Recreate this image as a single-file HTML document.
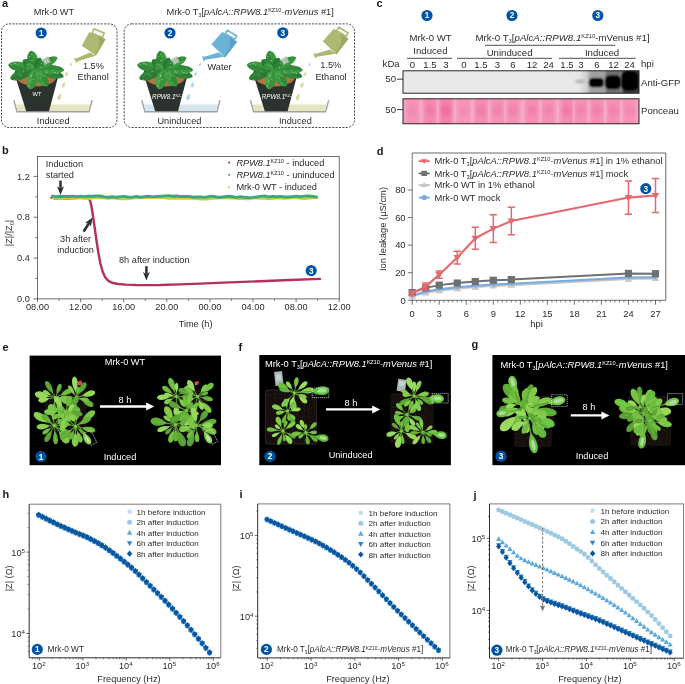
<!DOCTYPE html>
<html><head><meta charset="utf-8"><title>Figure</title>
<style>
html,body{margin:0;padding:0;background:#fff;}
body{width:685px;height:684px;overflow:hidden;font-family:"Liberation Sans",sans-serif;}
svg{display:block;font-family:"Liberation Sans",sans-serif;}
</style></head><body>
<svg style="opacity:0.999" width="685" height="684" viewBox="0 0 685 684">
<defs><filter id="bl1" x="-20%" y="-20%" width="140%" height="140%"><feGaussianBlur stdDeviation="0.9"/></filter>
<filter id="bl2" x="-20%" y="-20%" width="140%" height="140%"><feGaussianBlur stdDeviation="1.6"/></filter>
<filter id="bl3" x="-20%" y="-50%" width="140%" height="200%"><feGaussianBlur stdDeviation="2.4 1.2"/></filter>
<clipPath id="cb1"><rect x="403" y="70.8" width="236" height="22.4"/></clipPath>
<clipPath id="cb2"><rect x="403" y="98.8" width="236" height="25"/></clipPath>
<filter id="ph" x="-5%" y="-5%" width="110%" height="110%"><feGaussianBlur stdDeviation="0.5"/></filter>
<filter id="soil" x="0" y="0" width="100%" height="100%"><feTurbulence type="fractalNoise" baseFrequency="0.7" numOctaves="2" seed="4" result="n"/><feColorMatrix in="n" type="matrix" values="0 0 0 0 0.20  0 0 0 0 0.145  0 0 0 0 0.10  1.1 0 0 0 -0.66"/><feComposite operator="in" in2="SourceGraphic"/></filter>
</defs>
<text x="2" y="6.6" font-size="11" text-anchor="start" fill="#1a1a1a" font-weight="bold" font-style="normal" >a</text>
<text x="54" y="14.8" font-size="9.2" text-anchor="middle" fill="#2b2b2b" font-weight="normal" font-style="normal" >Mrk-0 WT</text>
<text x="166.5" y="14.8" font-size="9.3" text-anchor="start" fill="#2b2b2b" font-weight="normal" font-style="normal" >Mrk-0 T<tspan dy="2.05" font-size="5.58">3</tspan><tspan dy="-2.05">[</tspan><tspan font-style="italic">pAlcA::RPW8.1</tspan><tspan dy="-3.07" font-size="5.58">KZ10</tspan><tspan dy="3.07" font-style="italic">-mVenus</tspan> #1]</text>
<rect x="1.5" y="23.9" width="115.5" height="103.6" rx="7.5" ry="7.5" fill="none" stroke="#2a2a2a" stroke-width="0.85" stroke-dasharray="2.1 1.3"/>
<rect x="124.2" y="23.9" width="230.3" height="103.6" rx="7.5" ry="7.5" fill="none" stroke="#2a2a2a" stroke-width="0.85" stroke-dasharray="2.1 1.3"/>
<g transform="translate(0,0)">
<g transform="translate(0,0.6)">
<path d="M13.1,99.6 L16.5,111.9 L89.5,111.9 L92.9,99.6 L91.2,99.6 L88.3,110.4 L17.7,110.4 L14.8,99.6 Z" fill="#a2a2a2"/>
<path d="M14.8,99.6 L17.7,110.4 L88.3,110.4 L91.2,99.6 Z" fill="#fdfdfc"/>
<path d="M15.9,103.9 L17.7,110.4 L88.3,110.4 L90.1,103.9 Z" fill="#e3e5c1"/>
</g>
<path d="M14.6,74 L58.9,74 L49,111.3 L26.2,111.3 Z" fill="#2c322e"/>
<ellipse cx="36.6" cy="74" rx="22" ry="12.6" fill="#2c322e"/>
<ellipse cx="36.5" cy="76.4" rx="19.8" ry="10.2" fill="#a4723c"/>
<ellipse cx="36" cy="79" rx="16" ry="6.6" fill="#b07e45" opacity="0.6"/>
<g transform="translate(34.6,69.4) rotate(-170)"><path d="M0,0 C3.22,-3.5 9.38,-5 16.08,-4.9 C22.78,-4.5 26,-2 26.8,0 C26,2 22.78,4.5 16.08,4.9 C9.38,5 3.22,3.5 0,0 Z" fill="#3a9a40"/><path d="M0,0 C3.22,-3.5 9.38,-5 16.08,-4.9 C22.78,-4.5 26,-2 26.8,0 L0,0 Z" fill="#1f5f2a" opacity="0.28"/><path d="M1,0 L24.12,0" stroke="#2a7030" stroke-width="0.4" fill="none" opacity="0.55"/></g>
<g transform="translate(34.6,69.4) rotate(159)"><path d="M0,0 C3.12,-3.36 9.1,-4.8 15.6,-4.7 C22.1,-4.32 25.22,-1.92 26,0 C25.22,1.92 22.1,4.32 15.6,4.7 C9.1,4.8 3.12,3.36 0,0 Z" fill="#2f8438"/><path d="M0,0 C3.12,-3.36 9.1,-4.8 15.6,-4.7 C22.1,-4.32 25.22,-1.92 26,0 L0,0 Z" fill="#1f5f2a" opacity="0.28"/><path d="M1,0 L23.4,0" stroke="#2a7030" stroke-width="0.4" fill="none" opacity="0.55"/></g>
<g transform="translate(34.6,69.4) rotate(14)"><path d="M0,0 C3.6,-3.08 10.5,-4.4 18,-4.31 C25.5,-3.96 29.1,-1.76 30,0 C29.1,1.76 25.5,3.96 18,4.31 C10.5,4.4 3.6,3.08 0,0 Z" fill="#2f8438"/><path d="M0,0 C3.6,-3.08 10.5,-4.4 18,-4.31 C25.5,-3.96 29.1,-1.76 30,0 L0,0 Z" fill="#1f5f2a" opacity="0.28"/><path d="M1,0 L27,0" stroke="#2a7030" stroke-width="0.4" fill="none" opacity="0.55"/></g>
<g transform="translate(34.6,69.4) rotate(1)"><path d="M0,0 C3.54,-3.22 10.32,-4.6 17.7,-4.51 C25.07,-4.14 28.61,-1.84 29.5,0 C28.61,1.84 25.07,4.14 17.7,4.51 C10.32,4.6 3.54,3.22 0,0 Z" fill="#3a9a40"/><path d="M0,0 C3.54,-3.22 10.32,-4.6 17.7,-4.51 C25.07,-4.14 28.61,-1.84 29.5,0 L0,0 Z" fill="#1f5f2a" opacity="0.28"/><path d="M1,0 L26.55,0" stroke="#2a7030" stroke-width="0.4" fill="none" opacity="0.55"/></g>
<g transform="translate(34.6,69.4) rotate(-28)"><path d="M0,0 C3.1,-3.01 9.03,-4.3 15.48,-4.21 C21.93,-3.87 25.03,-1.72 25.8,0 C25.03,1.72 21.93,3.87 15.48,4.21 C9.03,4.3 3.1,3.01 0,0 Z" fill="#3a9a40"/><path d="M0,0 C3.1,-3.01 9.03,-4.3 15.48,-4.21 C21.93,-3.87 25.03,-1.72 25.8,0 L0,0 Z" fill="#1f5f2a" opacity="0.28"/><path d="M1,0 L23.22,0" stroke="#2a7030" stroke-width="0.4" fill="none" opacity="0.55"/></g>
<g transform="translate(34.6,69.4) rotate(-101)"><path d="M0,0 C2.28,-3.64 6.65,-5.2 11.4,-5.1 C16.15,-4.68 18.43,-2.08 19,0 C18.43,2.08 16.15,4.68 11.4,5.1 C6.65,5.2 2.28,3.64 0,0 Z" fill="#3a9a40"/><path d="M0,0 C2.28,-3.64 6.65,-5.2 11.4,-5.1 C16.15,-4.68 18.43,-2.08 19,0 L0,0 Z" fill="#1f5f2a" opacity="0.28"/><path d="M1,0 L17.1,0" stroke="#2a7030" stroke-width="0.4" fill="none" opacity="0.55"/></g>
<g transform="translate(34.6,69.4) rotate(52)"><path d="M0,0 C2.57,-3.5 7.49,-5 12.84,-4.9 C18.19,-4.5 20.76,-2 21.4,0 C20.76,2 18.19,4.5 12.84,4.9 C7.49,5 2.57,3.5 0,0 Z" fill="#3a9a40"/><path d="M0,0 C2.57,-3.5 7.49,-5 12.84,-4.9 C18.19,-4.5 20.76,-2 21.4,0 L0,0 Z" fill="#1f5f2a" opacity="0.28"/><path d="M1,0 L19.26,0" stroke="#2a7030" stroke-width="0.4" fill="none" opacity="0.55"/></g>
<g transform="translate(34.6,69.4) rotate(103)"><path d="M0,0 C2.46,-3.64 7.17,-5.2 12.3,-5.1 C17.43,-4.68 19.88,-2.08 20.5,0 C19.88,2.08 17.43,4.68 12.3,5.1 C7.17,5.2 2.46,3.64 0,0 Z" fill="#45a546"/><path d="M0,0 C2.46,-3.64 7.17,-5.2 12.3,-5.1 C17.43,-4.68 19.88,-2.08 20.5,0 L0,0 Z" fill="#1f5f2a" opacity="0.28"/><path d="M1,0 L18.45,0" stroke="#2a7030" stroke-width="0.4" fill="none" opacity="0.55"/></g>
<g transform="translate(34.6,69.4) rotate(-140)"><path d="M0,0 C1.8,-2.94 5.25,-4.2 9,-4.12 C12.75,-3.78 14.55,-1.68 15,0 C14.55,1.68 12.75,3.78 9,4.12 C5.25,4.2 1.8,2.94 0,0 Z" fill="#2f8438"/><path d="M0,0 C1.8,-2.94 5.25,-4.2 9,-4.12 C12.75,-3.78 14.55,-1.68 15,0 L0,0 Z" fill="#1f5f2a" opacity="0.28"/><path d="M1,0 L13.5,0" stroke="#2a7030" stroke-width="0.4" fill="none" opacity="0.55"/></g>
<g transform="translate(34.6,69.4) rotate(-62)"><path d="M0,0 C1.56,-2.66 4.55,-3.8 7.8,-3.72 C11.05,-3.42 12.61,-1.52 13,0 C12.61,1.52 11.05,3.42 7.8,3.72 C4.55,3.8 1.56,2.66 0,0 Z" fill="#2f8438"/><path d="M0,0 C1.56,-2.66 4.55,-3.8 7.8,-3.72 C11.05,-3.42 12.61,-1.52 13,0 L0,0 Z" fill="#1f5f2a" opacity="0.28"/><path d="M1,0 L11.7,0" stroke="#2a7030" stroke-width="0.4" fill="none" opacity="0.55"/></g>
<g transform="translate(34.6,69.4) rotate(30)"><path d="M0,0 C1.56,-2.38 4.55,-3.4 7.8,-3.33 C11.05,-3.06 12.61,-1.36 13,0 C12.61,1.36 11.05,3.06 7.8,3.33 C4.55,3.4 1.56,2.38 0,0 Z" fill="#45a546"/><path d="M0,0 C1.56,-2.38 4.55,-3.4 7.8,-3.33 C11.05,-3.06 12.61,-1.36 13,0 L0,0 Z" fill="#1f5f2a" opacity="0.28"/><path d="M1,0 L11.7,0" stroke="#2a7030" stroke-width="0.4" fill="none" opacity="0.55"/></g>
<g transform="translate(34.6,69.4) rotate(-150)"><path d="M0,0 C1.2,-2.24 3.5,-3.2 6,-3.14 C8.5,-2.88 9.7,-1.28 10,0 C9.7,1.28 8.5,2.88 6,3.14 C3.5,3.2 1.2,2.24 0,0 Z" fill="#45a546"/><path d="M0,0 C1.2,-2.24 3.5,-3.2 6,-3.14 C8.5,-2.88 9.7,-1.28 10,0 L0,0 Z" fill="#1f5f2a" opacity="0.28"/><path d="M1,0 L9,0" stroke="#2a7030" stroke-width="0.4" fill="none" opacity="0.55"/></g>
<g transform="translate(46.4,60.6) rotate(-28)"><rect x="-3.4" y="-3" width="6.8" height="6" fill="#aebfac" opacity="0.9"/><path d="M-1.3,-3V3M1,-3V3" stroke="#cfdccd" stroke-width="0.7"/></g>
<circle cx="17.24" cy="64.87" r="0.42" fill="#fff" opacity="0.9"/><circle cx="14.4" cy="63.14" r="0.42" fill="#fff" opacity="0.9"/><circle cx="15.36" cy="63.43" r="0.42" fill="#fff" opacity="0.9"/><circle cx="27.45" cy="68.35" r="0.42" fill="#fff" opacity="0.9"/><circle cx="11.48" cy="64.41" r="0.42" fill="#fff" opacity="0.9"/><circle cx="14.68" cy="79.43" r="0.42" fill="#fff" opacity="0.9"/><circle cx="21.43" cy="76.02" r="0.42" fill="#fff" opacity="0.9"/><circle cx="19.54" cy="74.73" r="0.42" fill="#fff" opacity="0.9"/><circle cx="28.9" cy="73.33" r="0.42" fill="#fff" opacity="0.9"/><circle cx="23.13" cy="71.24" r="0.42" fill="#fff" opacity="0.9"/><circle cx="57.25" cy="73.19" r="0.42" fill="#fff" opacity="0.9"/><circle cx="57.89" cy="73.24" r="0.42" fill="#fff" opacity="0.9"/><circle cx="54.4" cy="72.3" r="0.42" fill="#fff" opacity="0.9"/><circle cx="41.44" cy="73.13" r="0.42" fill="#fff" opacity="0.9"/><circle cx="46.33" cy="70.78" r="0.42" fill="#fff" opacity="0.9"/><circle cx="61.35" cy="71.92" r="0.42" fill="#fff" opacity="0.9"/><circle cx="47.65" cy="72.18" r="0.42" fill="#fff" opacity="0.9"/><circle cx="52.61" cy="70.7" r="0.42" fill="#fff" opacity="0.9"/><circle cx="45.98" cy="72.03" r="0.42" fill="#fff" opacity="0.9"/><circle cx="55.58" cy="72.34" r="0.42" fill="#fff" opacity="0.9"/><circle cx="53.45" cy="58.2" r="0.42" fill="#fff" opacity="0.9"/><circle cx="45" cy="61.92" r="0.42" fill="#fff" opacity="0.9"/><circle cx="41.47" cy="63.21" r="0.42" fill="#fff" opacity="0.9"/><circle cx="45.14" cy="64.4" r="0.42" fill="#fff" opacity="0.9"/><circle cx="40.78" cy="67.16" r="0.42" fill="#fff" opacity="0.9"/><circle cx="31.71" cy="60.74" r="0.42" fill="#fff" opacity="0.9"/><circle cx="31.59" cy="54.53" r="0.42" fill="#fff" opacity="0.9"/><circle cx="32.81" cy="60.81" r="0.42" fill="#fff" opacity="0.9"/><circle cx="29.27" cy="56.46" r="0.42" fill="#fff" opacity="0.9"/><circle cx="28.4" cy="53.12" r="0.42" fill="#fff" opacity="0.9"/><circle cx="42.88" cy="83.36" r="0.42" fill="#fff" opacity="0.9"/><circle cx="36.69" cy="74.88" r="0.42" fill="#fff" opacity="0.9"/><circle cx="40.75" cy="78.04" r="0.42" fill="#fff" opacity="0.9"/><circle cx="40.12" cy="72.04" r="0.42" fill="#fff" opacity="0.9"/><circle cx="37.34" cy="77.34" r="0.42" fill="#fff" opacity="0.9"/><circle cx="31.29" cy="76.66" r="0.42" fill="#fff" opacity="0.9"/><circle cx="27.89" cy="86.21" r="0.42" fill="#fff" opacity="0.9"/><circle cx="33.27" cy="79.21" r="0.42" fill="#fff" opacity="0.9"/><circle cx="30.15" cy="81.03" r="0.42" fill="#fff" opacity="0.9"/><circle cx="31.6" cy="75.49" r="0.42" fill="#fff" opacity="0.9"/>
<text x="37" y="96.4" font-size="5.8" text-anchor="middle" fill="#fff">WT</text>
<g transform="translate(0,0)">
<path d="M93.9,28.7 L104.3,33 L102.4,37.6 L92,33.2 Z" fill="#f6f6f6" stroke="#abb972" stroke-width="1.5" stroke-linejoin="round"/>
<path d="M89.4,31.9 L105.5,39.2 L96,55.6 L81.7,45.8 Z" fill="#abb972"/>
<path d="M98.2,35.9 L105.5,39.2 L96,55.6 L94.9,55 Q101.8,46.5 98.2,35.9 Z" fill="#9aa862"/>
<path d="M90,52.4 L95.7,55.8 L77.9,61.3 L76.4,63 L73.7,57.9 L76.2,58.5 Z" fill="#abb972"/>
</g>
<path transform="translate(71,64.6) rotate(18) scale(1.1)" d="M0,-1.9 C1.2,-0.3 1.3,1.3 0,1.5 C-1.3,1.3 -1.2,-0.3 0,-1.9 Z" fill="#d5dba6"/>
<path transform="translate(66.6,74) rotate(18) scale(1.4)" d="M0,-1.9 C1.2,-0.3 1.3,1.3 0,1.5 C-1.3,1.3 -1.2,-0.3 0,-1.9 Z" fill="#d5dba6"/>
<path transform="translate(63.4,85) rotate(18) scale(1.7)" d="M0,-1.9 C1.2,-0.3 1.3,1.3 0,1.5 C-1.3,1.3 -1.2,-0.3 0,-1.9 Z" fill="#d5dba6"/>
<path transform="translate(59.3,97.2) rotate(18) scale(2.0)" d="M0,-1.9 C1.2,-0.3 1.3,1.3 0,1.5 C-1.3,1.3 -1.2,-0.3 0,-1.9 Z" fill="#d5dba6"/>
</g>
<g transform="translate(129,0)">
<g transform="translate(-1.1,0.6)">
<path d="M13.1,99.6 L16.5,111.9 L89.5,111.9 L92.9,99.6 L91.2,99.6 L88.3,110.4 L17.7,110.4 L14.8,99.6 Z" fill="#a2a2a2"/>
<path d="M14.8,99.6 L17.7,110.4 L88.3,110.4 L91.2,99.6 Z" fill="#fdfdfc"/>
<path d="M15.9,103.9 L17.7,110.4 L88.3,110.4 L90.1,103.9 Z" fill="#d5e5ee"/>
</g>
<path d="M14.6,74 L58.9,74 L49,111.3 L26.2,111.3 Z" fill="#2c322e"/>
<ellipse cx="36.6" cy="74" rx="22" ry="12.6" fill="#2c322e"/>
<ellipse cx="36.5" cy="76.4" rx="19.8" ry="10.2" fill="#a4723c"/>
<ellipse cx="36" cy="79" rx="16" ry="6.6" fill="#b07e45" opacity="0.6"/>
<g transform="translate(34.6,69.4) rotate(-170)"><path d="M0,0 C3.22,-3.5 9.38,-5 16.08,-4.9 C22.78,-4.5 26,-2 26.8,0 C26,2 22.78,4.5 16.08,4.9 C9.38,5 3.22,3.5 0,0 Z" fill="#3a9a40"/><path d="M0,0 C3.22,-3.5 9.38,-5 16.08,-4.9 C22.78,-4.5 26,-2 26.8,0 L0,0 Z" fill="#1f5f2a" opacity="0.28"/><path d="M1,0 L24.12,0" stroke="#2a7030" stroke-width="0.4" fill="none" opacity="0.55"/></g>
<g transform="translate(34.6,69.4) rotate(159)"><path d="M0,0 C3.12,-3.36 9.1,-4.8 15.6,-4.7 C22.1,-4.32 25.22,-1.92 26,0 C25.22,1.92 22.1,4.32 15.6,4.7 C9.1,4.8 3.12,3.36 0,0 Z" fill="#2f8438"/><path d="M0,0 C3.12,-3.36 9.1,-4.8 15.6,-4.7 C22.1,-4.32 25.22,-1.92 26,0 L0,0 Z" fill="#1f5f2a" opacity="0.28"/><path d="M1,0 L23.4,0" stroke="#2a7030" stroke-width="0.4" fill="none" opacity="0.55"/></g>
<g transform="translate(34.6,69.4) rotate(14)"><path d="M0,0 C3.6,-3.08 10.5,-4.4 18,-4.31 C25.5,-3.96 29.1,-1.76 30,0 C29.1,1.76 25.5,3.96 18,4.31 C10.5,4.4 3.6,3.08 0,0 Z" fill="#2f8438"/><path d="M0,0 C3.6,-3.08 10.5,-4.4 18,-4.31 C25.5,-3.96 29.1,-1.76 30,0 L0,0 Z" fill="#1f5f2a" opacity="0.28"/><path d="M1,0 L27,0" stroke="#2a7030" stroke-width="0.4" fill="none" opacity="0.55"/></g>
<g transform="translate(34.6,69.4) rotate(1)"><path d="M0,0 C3.54,-3.22 10.32,-4.6 17.7,-4.51 C25.07,-4.14 28.61,-1.84 29.5,0 C28.61,1.84 25.07,4.14 17.7,4.51 C10.32,4.6 3.54,3.22 0,0 Z" fill="#3a9a40"/><path d="M0,0 C3.54,-3.22 10.32,-4.6 17.7,-4.51 C25.07,-4.14 28.61,-1.84 29.5,0 L0,0 Z" fill="#1f5f2a" opacity="0.28"/><path d="M1,0 L26.55,0" stroke="#2a7030" stroke-width="0.4" fill="none" opacity="0.55"/></g>
<g transform="translate(34.6,69.4) rotate(-28)"><path d="M0,0 C3.1,-3.01 9.03,-4.3 15.48,-4.21 C21.93,-3.87 25.03,-1.72 25.8,0 C25.03,1.72 21.93,3.87 15.48,4.21 C9.03,4.3 3.1,3.01 0,0 Z" fill="#3a9a40"/><path d="M0,0 C3.1,-3.01 9.03,-4.3 15.48,-4.21 C21.93,-3.87 25.03,-1.72 25.8,0 L0,0 Z" fill="#1f5f2a" opacity="0.28"/><path d="M1,0 L23.22,0" stroke="#2a7030" stroke-width="0.4" fill="none" opacity="0.55"/></g>
<g transform="translate(34.6,69.4) rotate(-101)"><path d="M0,0 C2.28,-3.64 6.65,-5.2 11.4,-5.1 C16.15,-4.68 18.43,-2.08 19,0 C18.43,2.08 16.15,4.68 11.4,5.1 C6.65,5.2 2.28,3.64 0,0 Z" fill="#3a9a40"/><path d="M0,0 C2.28,-3.64 6.65,-5.2 11.4,-5.1 C16.15,-4.68 18.43,-2.08 19,0 L0,0 Z" fill="#1f5f2a" opacity="0.28"/><path d="M1,0 L17.1,0" stroke="#2a7030" stroke-width="0.4" fill="none" opacity="0.55"/></g>
<g transform="translate(34.6,69.4) rotate(52)"><path d="M0,0 C2.57,-3.5 7.49,-5 12.84,-4.9 C18.19,-4.5 20.76,-2 21.4,0 C20.76,2 18.19,4.5 12.84,4.9 C7.49,5 2.57,3.5 0,0 Z" fill="#3a9a40"/><path d="M0,0 C2.57,-3.5 7.49,-5 12.84,-4.9 C18.19,-4.5 20.76,-2 21.4,0 L0,0 Z" fill="#1f5f2a" opacity="0.28"/><path d="M1,0 L19.26,0" stroke="#2a7030" stroke-width="0.4" fill="none" opacity="0.55"/></g>
<g transform="translate(34.6,69.4) rotate(103)"><path d="M0,0 C2.46,-3.64 7.17,-5.2 12.3,-5.1 C17.43,-4.68 19.88,-2.08 20.5,0 C19.88,2.08 17.43,4.68 12.3,5.1 C7.17,5.2 2.46,3.64 0,0 Z" fill="#45a546"/><path d="M0,0 C2.46,-3.64 7.17,-5.2 12.3,-5.1 C17.43,-4.68 19.88,-2.08 20.5,0 L0,0 Z" fill="#1f5f2a" opacity="0.28"/><path d="M1,0 L18.45,0" stroke="#2a7030" stroke-width="0.4" fill="none" opacity="0.55"/></g>
<g transform="translate(34.6,69.4) rotate(-140)"><path d="M0,0 C1.8,-2.94 5.25,-4.2 9,-4.12 C12.75,-3.78 14.55,-1.68 15,0 C14.55,1.68 12.75,3.78 9,4.12 C5.25,4.2 1.8,2.94 0,0 Z" fill="#2f8438"/><path d="M0,0 C1.8,-2.94 5.25,-4.2 9,-4.12 C12.75,-3.78 14.55,-1.68 15,0 L0,0 Z" fill="#1f5f2a" opacity="0.28"/><path d="M1,0 L13.5,0" stroke="#2a7030" stroke-width="0.4" fill="none" opacity="0.55"/></g>
<g transform="translate(34.6,69.4) rotate(-62)"><path d="M0,0 C1.56,-2.66 4.55,-3.8 7.8,-3.72 C11.05,-3.42 12.61,-1.52 13,0 C12.61,1.52 11.05,3.42 7.8,3.72 C4.55,3.8 1.56,2.66 0,0 Z" fill="#2f8438"/><path d="M0,0 C1.56,-2.66 4.55,-3.8 7.8,-3.72 C11.05,-3.42 12.61,-1.52 13,0 L0,0 Z" fill="#1f5f2a" opacity="0.28"/><path d="M1,0 L11.7,0" stroke="#2a7030" stroke-width="0.4" fill="none" opacity="0.55"/></g>
<g transform="translate(34.6,69.4) rotate(30)"><path d="M0,0 C1.56,-2.38 4.55,-3.4 7.8,-3.33 C11.05,-3.06 12.61,-1.36 13,0 C12.61,1.36 11.05,3.06 7.8,3.33 C4.55,3.4 1.56,2.38 0,0 Z" fill="#45a546"/><path d="M0,0 C1.56,-2.38 4.55,-3.4 7.8,-3.33 C11.05,-3.06 12.61,-1.36 13,0 L0,0 Z" fill="#1f5f2a" opacity="0.28"/><path d="M1,0 L11.7,0" stroke="#2a7030" stroke-width="0.4" fill="none" opacity="0.55"/></g>
<g transform="translate(34.6,69.4) rotate(-150)"><path d="M0,0 C1.2,-2.24 3.5,-3.2 6,-3.14 C8.5,-2.88 9.7,-1.28 10,0 C9.7,1.28 8.5,2.88 6,3.14 C3.5,3.2 1.2,2.24 0,0 Z" fill="#45a546"/><path d="M0,0 C1.2,-2.24 3.5,-3.2 6,-3.14 C8.5,-2.88 9.7,-1.28 10,0 L0,0 Z" fill="#1f5f2a" opacity="0.28"/><path d="M1,0 L9,0" stroke="#2a7030" stroke-width="0.4" fill="none" opacity="0.55"/></g>
<g transform="translate(46.4,60.6) rotate(-28)"><rect x="-3.4" y="-3" width="6.8" height="6" fill="#aebfac" opacity="0.9"/><path d="M-1.3,-3V3M1,-3V3" stroke="#cfdccd" stroke-width="0.7"/></g>
<circle cx="17.24" cy="64.87" r="0.42" fill="#fff" opacity="0.9"/><circle cx="14.4" cy="63.14" r="0.42" fill="#fff" opacity="0.9"/><circle cx="15.36" cy="63.43" r="0.42" fill="#fff" opacity="0.9"/><circle cx="27.45" cy="68.35" r="0.42" fill="#fff" opacity="0.9"/><circle cx="11.48" cy="64.41" r="0.42" fill="#fff" opacity="0.9"/><circle cx="14.68" cy="79.43" r="0.42" fill="#fff" opacity="0.9"/><circle cx="21.43" cy="76.02" r="0.42" fill="#fff" opacity="0.9"/><circle cx="19.54" cy="74.73" r="0.42" fill="#fff" opacity="0.9"/><circle cx="28.9" cy="73.33" r="0.42" fill="#fff" opacity="0.9"/><circle cx="23.13" cy="71.24" r="0.42" fill="#fff" opacity="0.9"/><circle cx="57.25" cy="73.19" r="0.42" fill="#fff" opacity="0.9"/><circle cx="57.89" cy="73.24" r="0.42" fill="#fff" opacity="0.9"/><circle cx="54.4" cy="72.3" r="0.42" fill="#fff" opacity="0.9"/><circle cx="41.44" cy="73.13" r="0.42" fill="#fff" opacity="0.9"/><circle cx="46.33" cy="70.78" r="0.42" fill="#fff" opacity="0.9"/><circle cx="61.35" cy="71.92" r="0.42" fill="#fff" opacity="0.9"/><circle cx="47.65" cy="72.18" r="0.42" fill="#fff" opacity="0.9"/><circle cx="52.61" cy="70.7" r="0.42" fill="#fff" opacity="0.9"/><circle cx="45.98" cy="72.03" r="0.42" fill="#fff" opacity="0.9"/><circle cx="55.58" cy="72.34" r="0.42" fill="#fff" opacity="0.9"/><circle cx="53.45" cy="58.2" r="0.42" fill="#fff" opacity="0.9"/><circle cx="45" cy="61.92" r="0.42" fill="#fff" opacity="0.9"/><circle cx="41.47" cy="63.21" r="0.42" fill="#fff" opacity="0.9"/><circle cx="45.14" cy="64.4" r="0.42" fill="#fff" opacity="0.9"/><circle cx="40.78" cy="67.16" r="0.42" fill="#fff" opacity="0.9"/><circle cx="31.71" cy="60.74" r="0.42" fill="#fff" opacity="0.9"/><circle cx="31.59" cy="54.53" r="0.42" fill="#fff" opacity="0.9"/><circle cx="32.81" cy="60.81" r="0.42" fill="#fff" opacity="0.9"/><circle cx="29.27" cy="56.46" r="0.42" fill="#fff" opacity="0.9"/><circle cx="28.4" cy="53.12" r="0.42" fill="#fff" opacity="0.9"/><circle cx="42.88" cy="83.36" r="0.42" fill="#fff" opacity="0.9"/><circle cx="36.69" cy="74.88" r="0.42" fill="#fff" opacity="0.9"/><circle cx="40.75" cy="78.04" r="0.42" fill="#fff" opacity="0.9"/><circle cx="40.12" cy="72.04" r="0.42" fill="#fff" opacity="0.9"/><circle cx="37.34" cy="77.34" r="0.42" fill="#fff" opacity="0.9"/><circle cx="31.29" cy="76.66" r="0.42" fill="#fff" opacity="0.9"/><circle cx="27.89" cy="86.21" r="0.42" fill="#fff" opacity="0.9"/><circle cx="33.27" cy="79.21" r="0.42" fill="#fff" opacity="0.9"/><circle cx="30.15" cy="81.03" r="0.42" fill="#fff" opacity="0.9"/><circle cx="31.6" cy="75.49" r="0.42" fill="#fff" opacity="0.9"/>
<text x="23.1" y="99.2" font-size="6.3" text-anchor="start" fill="#fff" font-style="italic">RPW8.1<tspan dy="-2.2" font-size="3.8" font-style="normal">KZ-10</tspan></text>
<path transform="translate(71,64.6) rotate(18) scale(1.1)" d="M0,-1.9 C1.2,-0.3 1.3,1.3 0,1.5 C-1.3,1.3 -1.2,-0.3 0,-1.9 Z" fill="#b5d6e8"/>
<path transform="translate(66.6,74) rotate(18) scale(1.4)" d="M0,-1.9 C1.2,-0.3 1.3,1.3 0,1.5 C-1.3,1.3 -1.2,-0.3 0,-1.9 Z" fill="#b5d6e8"/>
<path transform="translate(63.4,85) rotate(18) scale(1.7)" d="M0,-1.9 C1.2,-0.3 1.3,1.3 0,1.5 C-1.3,1.3 -1.2,-0.3 0,-1.9 Z" fill="#b5d6e8"/>
<path transform="translate(59.3,97.2) rotate(18) scale(2.0)" d="M0,-1.9 C1.2,-0.3 1.3,1.3 0,1.5 C-1.3,1.3 -1.2,-0.3 0,-1.9 Z" fill="#b5d6e8"/>
</g>
<g transform="translate(238.6,0)">
<g transform="translate(-2,0.6)">
<path d="M13.1,99.6 L16.5,111.9 L89.5,111.9 L92.9,99.6 L91.2,99.6 L88.3,110.4 L17.7,110.4 L14.8,99.6 Z" fill="#a2a2a2"/>
<path d="M14.8,99.6 L17.7,110.4 L88.3,110.4 L91.2,99.6 Z" fill="#fdfdfc"/>
<path d="M15.9,103.9 L17.7,110.4 L88.3,110.4 L90.1,103.9 Z" fill="#e3e5c1"/>
</g>
<path d="M14.6,74 L58.9,74 L49,111.3 L26.2,111.3 Z" fill="#2c322e"/>
<ellipse cx="36.6" cy="74" rx="22" ry="12.6" fill="#2c322e"/>
<ellipse cx="36.5" cy="76.4" rx="19.8" ry="10.2" fill="#a4723c"/>
<ellipse cx="36" cy="79" rx="16" ry="6.6" fill="#b07e45" opacity="0.6"/>
<g transform="translate(34.6,69.4) rotate(-170)"><path d="M0,0 C3.22,-3.5 9.38,-5 16.08,-4.9 C22.78,-4.5 26,-2 26.8,0 C26,2 22.78,4.5 16.08,4.9 C9.38,5 3.22,3.5 0,0 Z" fill="#3a9a40"/><path d="M0,0 C3.22,-3.5 9.38,-5 16.08,-4.9 C22.78,-4.5 26,-2 26.8,0 L0,0 Z" fill="#1f5f2a" opacity="0.28"/><path d="M1,0 L24.12,0" stroke="#2a7030" stroke-width="0.4" fill="none" opacity="0.55"/></g>
<g transform="translate(34.6,69.4) rotate(159)"><path d="M0,0 C3.12,-3.36 9.1,-4.8 15.6,-4.7 C22.1,-4.32 25.22,-1.92 26,0 C25.22,1.92 22.1,4.32 15.6,4.7 C9.1,4.8 3.12,3.36 0,0 Z" fill="#2f8438"/><path d="M0,0 C3.12,-3.36 9.1,-4.8 15.6,-4.7 C22.1,-4.32 25.22,-1.92 26,0 L0,0 Z" fill="#1f5f2a" opacity="0.28"/><path d="M1,0 L23.4,0" stroke="#2a7030" stroke-width="0.4" fill="none" opacity="0.55"/></g>
<g transform="translate(34.6,69.4) rotate(14)"><path d="M0,0 C3.6,-3.08 10.5,-4.4 18,-4.31 C25.5,-3.96 29.1,-1.76 30,0 C29.1,1.76 25.5,3.96 18,4.31 C10.5,4.4 3.6,3.08 0,0 Z" fill="#2f8438"/><path d="M0,0 C3.6,-3.08 10.5,-4.4 18,-4.31 C25.5,-3.96 29.1,-1.76 30,0 L0,0 Z" fill="#1f5f2a" opacity="0.28"/><path d="M1,0 L27,0" stroke="#2a7030" stroke-width="0.4" fill="none" opacity="0.55"/></g>
<g transform="translate(34.6,69.4) rotate(1)"><path d="M0,0 C3.54,-3.22 10.32,-4.6 17.7,-4.51 C25.07,-4.14 28.61,-1.84 29.5,0 C28.61,1.84 25.07,4.14 17.7,4.51 C10.32,4.6 3.54,3.22 0,0 Z" fill="#3a9a40"/><path d="M0,0 C3.54,-3.22 10.32,-4.6 17.7,-4.51 C25.07,-4.14 28.61,-1.84 29.5,0 L0,0 Z" fill="#1f5f2a" opacity="0.28"/><path d="M1,0 L26.55,0" stroke="#2a7030" stroke-width="0.4" fill="none" opacity="0.55"/></g>
<g transform="translate(34.6,69.4) rotate(-28)"><path d="M0,0 C3.1,-3.01 9.03,-4.3 15.48,-4.21 C21.93,-3.87 25.03,-1.72 25.8,0 C25.03,1.72 21.93,3.87 15.48,4.21 C9.03,4.3 3.1,3.01 0,0 Z" fill="#3a9a40"/><path d="M0,0 C3.1,-3.01 9.03,-4.3 15.48,-4.21 C21.93,-3.87 25.03,-1.72 25.8,0 L0,0 Z" fill="#1f5f2a" opacity="0.28"/><path d="M1,0 L23.22,0" stroke="#2a7030" stroke-width="0.4" fill="none" opacity="0.55"/></g>
<g transform="translate(34.6,69.4) rotate(-101)"><path d="M0,0 C2.28,-3.64 6.65,-5.2 11.4,-5.1 C16.15,-4.68 18.43,-2.08 19,0 C18.43,2.08 16.15,4.68 11.4,5.1 C6.65,5.2 2.28,3.64 0,0 Z" fill="#3a9a40"/><path d="M0,0 C2.28,-3.64 6.65,-5.2 11.4,-5.1 C16.15,-4.68 18.43,-2.08 19,0 L0,0 Z" fill="#1f5f2a" opacity="0.28"/><path d="M1,0 L17.1,0" stroke="#2a7030" stroke-width="0.4" fill="none" opacity="0.55"/></g>
<g transform="translate(34.6,69.4) rotate(52)"><path d="M0,0 C2.57,-3.5 7.49,-5 12.84,-4.9 C18.19,-4.5 20.76,-2 21.4,0 C20.76,2 18.19,4.5 12.84,4.9 C7.49,5 2.57,3.5 0,0 Z" fill="#3a9a40"/><path d="M0,0 C2.57,-3.5 7.49,-5 12.84,-4.9 C18.19,-4.5 20.76,-2 21.4,0 L0,0 Z" fill="#1f5f2a" opacity="0.28"/><path d="M1,0 L19.26,0" stroke="#2a7030" stroke-width="0.4" fill="none" opacity="0.55"/></g>
<g transform="translate(34.6,69.4) rotate(103)"><path d="M0,0 C2.46,-3.64 7.17,-5.2 12.3,-5.1 C17.43,-4.68 19.88,-2.08 20.5,0 C19.88,2.08 17.43,4.68 12.3,5.1 C7.17,5.2 2.46,3.64 0,0 Z" fill="#45a546"/><path d="M0,0 C2.46,-3.64 7.17,-5.2 12.3,-5.1 C17.43,-4.68 19.88,-2.08 20.5,0 L0,0 Z" fill="#1f5f2a" opacity="0.28"/><path d="M1,0 L18.45,0" stroke="#2a7030" stroke-width="0.4" fill="none" opacity="0.55"/></g>
<g transform="translate(34.6,69.4) rotate(-140)"><path d="M0,0 C1.8,-2.94 5.25,-4.2 9,-4.12 C12.75,-3.78 14.55,-1.68 15,0 C14.55,1.68 12.75,3.78 9,4.12 C5.25,4.2 1.8,2.94 0,0 Z" fill="#2f8438"/><path d="M0,0 C1.8,-2.94 5.25,-4.2 9,-4.12 C12.75,-3.78 14.55,-1.68 15,0 L0,0 Z" fill="#1f5f2a" opacity="0.28"/><path d="M1,0 L13.5,0" stroke="#2a7030" stroke-width="0.4" fill="none" opacity="0.55"/></g>
<g transform="translate(34.6,69.4) rotate(-62)"><path d="M0,0 C1.56,-2.66 4.55,-3.8 7.8,-3.72 C11.05,-3.42 12.61,-1.52 13,0 C12.61,1.52 11.05,3.42 7.8,3.72 C4.55,3.8 1.56,2.66 0,0 Z" fill="#2f8438"/><path d="M0,0 C1.56,-2.66 4.55,-3.8 7.8,-3.72 C11.05,-3.42 12.61,-1.52 13,0 L0,0 Z" fill="#1f5f2a" opacity="0.28"/><path d="M1,0 L11.7,0" stroke="#2a7030" stroke-width="0.4" fill="none" opacity="0.55"/></g>
<g transform="translate(34.6,69.4) rotate(30)"><path d="M0,0 C1.56,-2.38 4.55,-3.4 7.8,-3.33 C11.05,-3.06 12.61,-1.36 13,0 C12.61,1.36 11.05,3.06 7.8,3.33 C4.55,3.4 1.56,2.38 0,0 Z" fill="#45a546"/><path d="M0,0 C1.56,-2.38 4.55,-3.4 7.8,-3.33 C11.05,-3.06 12.61,-1.36 13,0 L0,0 Z" fill="#1f5f2a" opacity="0.28"/><path d="M1,0 L11.7,0" stroke="#2a7030" stroke-width="0.4" fill="none" opacity="0.55"/></g>
<g transform="translate(34.6,69.4) rotate(-150)"><path d="M0,0 C1.2,-2.24 3.5,-3.2 6,-3.14 C8.5,-2.88 9.7,-1.28 10,0 C9.7,1.28 8.5,2.88 6,3.14 C3.5,3.2 1.2,2.24 0,0 Z" fill="#45a546"/><path d="M0,0 C1.2,-2.24 3.5,-3.2 6,-3.14 C8.5,-2.88 9.7,-1.28 10,0 L0,0 Z" fill="#1f5f2a" opacity="0.28"/><path d="M1,0 L9,0" stroke="#2a7030" stroke-width="0.4" fill="none" opacity="0.55"/></g>
<g transform="translate(46.4,60.6) rotate(-28)"><rect x="-3.4" y="-3" width="6.8" height="6" fill="#aebfac" opacity="0.9"/><path d="M-1.3,-3V3M1,-3V3" stroke="#cfdccd" stroke-width="0.7"/></g>
<circle cx="17.24" cy="64.87" r="0.42" fill="#fff" opacity="0.9"/><circle cx="14.4" cy="63.14" r="0.42" fill="#fff" opacity="0.9"/><circle cx="15.36" cy="63.43" r="0.42" fill="#fff" opacity="0.9"/><circle cx="27.45" cy="68.35" r="0.42" fill="#fff" opacity="0.9"/><circle cx="11.48" cy="64.41" r="0.42" fill="#fff" opacity="0.9"/><circle cx="14.68" cy="79.43" r="0.42" fill="#fff" opacity="0.9"/><circle cx="21.43" cy="76.02" r="0.42" fill="#fff" opacity="0.9"/><circle cx="19.54" cy="74.73" r="0.42" fill="#fff" opacity="0.9"/><circle cx="28.9" cy="73.33" r="0.42" fill="#fff" opacity="0.9"/><circle cx="23.13" cy="71.24" r="0.42" fill="#fff" opacity="0.9"/><circle cx="57.25" cy="73.19" r="0.42" fill="#fff" opacity="0.9"/><circle cx="57.89" cy="73.24" r="0.42" fill="#fff" opacity="0.9"/><circle cx="54.4" cy="72.3" r="0.42" fill="#fff" opacity="0.9"/><circle cx="41.44" cy="73.13" r="0.42" fill="#fff" opacity="0.9"/><circle cx="46.33" cy="70.78" r="0.42" fill="#fff" opacity="0.9"/><circle cx="61.35" cy="71.92" r="0.42" fill="#fff" opacity="0.9"/><circle cx="47.65" cy="72.18" r="0.42" fill="#fff" opacity="0.9"/><circle cx="52.61" cy="70.7" r="0.42" fill="#fff" opacity="0.9"/><circle cx="45.98" cy="72.03" r="0.42" fill="#fff" opacity="0.9"/><circle cx="55.58" cy="72.34" r="0.42" fill="#fff" opacity="0.9"/><circle cx="53.45" cy="58.2" r="0.42" fill="#fff" opacity="0.9"/><circle cx="45" cy="61.92" r="0.42" fill="#fff" opacity="0.9"/><circle cx="41.47" cy="63.21" r="0.42" fill="#fff" opacity="0.9"/><circle cx="45.14" cy="64.4" r="0.42" fill="#fff" opacity="0.9"/><circle cx="40.78" cy="67.16" r="0.42" fill="#fff" opacity="0.9"/><circle cx="31.71" cy="60.74" r="0.42" fill="#fff" opacity="0.9"/><circle cx="31.59" cy="54.53" r="0.42" fill="#fff" opacity="0.9"/><circle cx="32.81" cy="60.81" r="0.42" fill="#fff" opacity="0.9"/><circle cx="29.27" cy="56.46" r="0.42" fill="#fff" opacity="0.9"/><circle cx="28.4" cy="53.12" r="0.42" fill="#fff" opacity="0.9"/><circle cx="42.88" cy="83.36" r="0.42" fill="#fff" opacity="0.9"/><circle cx="36.69" cy="74.88" r="0.42" fill="#fff" opacity="0.9"/><circle cx="40.75" cy="78.04" r="0.42" fill="#fff" opacity="0.9"/><circle cx="40.12" cy="72.04" r="0.42" fill="#fff" opacity="0.9"/><circle cx="37.34" cy="77.34" r="0.42" fill="#fff" opacity="0.9"/><circle cx="31.29" cy="76.66" r="0.42" fill="#fff" opacity="0.9"/><circle cx="27.89" cy="86.21" r="0.42" fill="#fff" opacity="0.9"/><circle cx="33.27" cy="79.21" r="0.42" fill="#fff" opacity="0.9"/><circle cx="30.15" cy="81.03" r="0.42" fill="#fff" opacity="0.9"/><circle cx="31.6" cy="75.49" r="0.42" fill="#fff" opacity="0.9"/>
<text x="23.1" y="99.2" font-size="6.3" text-anchor="start" fill="#fff" font-style="italic">RPW8.1<tspan dy="-2.2" font-size="3.8" font-style="normal">KZ-10</tspan></text>
<path transform="translate(71,64.6) rotate(18) scale(1.1)" d="M0,-1.9 C1.2,-0.3 1.3,1.3 0,1.5 C-1.3,1.3 -1.2,-0.3 0,-1.9 Z" fill="#d5dba6"/>
<path transform="translate(66.6,74) rotate(18) scale(1.4)" d="M0,-1.9 C1.2,-0.3 1.3,1.3 0,1.5 C-1.3,1.3 -1.2,-0.3 0,-1.9 Z" fill="#d5dba6"/>
<path transform="translate(63.4,85) rotate(18) scale(1.7)" d="M0,-1.9 C1.2,-0.3 1.3,1.3 0,1.5 C-1.3,1.3 -1.2,-0.3 0,-1.9 Z" fill="#d5dba6"/>
<path transform="translate(59.3,97.2) rotate(18) scale(2.0)" d="M0,-1.9 C1.2,-0.3 1.3,1.3 0,1.5 C-1.3,1.3 -1.2,-0.3 0,-1.9 Z" fill="#d5dba6"/>
</g>
<g transform="translate(111.4,-3)">
<path d="M227.3,30.2 L236.8,36 L234.7,39.4 L225.2,33.7 Z" fill="#f6f6f6" stroke="#abb972" stroke-width="1.5" stroke-linejoin="round"/>
<path d="M222.4,32.2 L236.7,41.7 L225,57.1 L211.8,44.3 Z" fill="#abb972" stroke="#abb972" stroke-width="0.8" stroke-linejoin="round"/>
<path d="M229.4,37 L236.9,41.9 L225,57.3 L223.8,56.2 Q232.6,47 229.4,37 Z" fill="#9aa862"/>
<path d="M218.6,52.4 L224.4,56.8 L205.4,59.7 L203.6,61.4 L202.1,55.8 L204.3,56.7 Z" fill="#abb972"/>
</g>
<g transform="translate(0,0)">
<path d="M227.3,30.2 L236.8,36 L234.7,39.4 L225.2,33.7 Z" fill="#f6f6f6" stroke="#6ab3d5" stroke-width="1.5" stroke-linejoin="round"/>
<path d="M222.4,32.2 L236.7,41.7 L225,57.1 L211.8,44.3 Z" fill="#6ab3d5" stroke="#6ab3d5" stroke-width="0.8" stroke-linejoin="round"/>
<path d="M229.4,37 L236.9,41.9 L225,57.3 L223.8,56.2 Q232.6,47 229.4,37 Z" fill="#5a9fca"/>
<path d="M218.6,52.4 L224.4,56.8 L205.4,59.7 L203.6,61.4 L202.1,55.8 L204.3,56.7 Z" fill="#6ab3d5"/>
</g>
<circle cx="41.2" cy="33" r="5.6" fill="#0054a6"/>
<text x="41.2" y="35.95" font-size="8.2" text-anchor="middle" fill="#fff" font-weight="bold" font-style="normal" >1</text>
<circle cx="170" cy="33" r="5.6" fill="#0054a6"/>
<text x="170" y="35.95" font-size="8.2" text-anchor="middle" fill="#fff" font-weight="bold" font-style="normal" >2</text>
<circle cx="282.8" cy="32.8" r="5.6" fill="#0054a6"/>
<text x="282.8" y="35.75" font-size="8.2" text-anchor="middle" fill="#fff" font-weight="bold" font-style="normal" >3</text>
<text x="93.4" y="68.8" font-size="9.2" text-anchor="middle" fill="#2b2b2b" font-weight="normal" font-style="normal" >1.5%</text>
<text x="93.2" y="79.6" font-size="9.2" text-anchor="middle" fill="#2b2b2b" font-weight="normal" font-style="normal" >Ethanol</text>
<text x="219.6" y="69.6" font-size="9.2" text-anchor="middle" fill="#2b2b2b" font-weight="normal" font-style="normal" >Water</text>
<text x="330.8" y="68.4" font-size="9.2" text-anchor="middle" fill="#2b2b2b" font-weight="normal" font-style="normal" >1.5%</text>
<text x="331" y="79.8" font-size="9.2" text-anchor="middle" fill="#2b2b2b" font-weight="normal" font-style="normal" >Ethanol</text>
<text x="53.2" y="123.8" font-size="9.2" text-anchor="middle" fill="#2b2b2b" font-weight="normal" font-style="normal" >Induced</text>
<text x="179.4" y="123.8" font-size="9.2" text-anchor="middle" fill="#2b2b2b" font-weight="normal" font-style="normal" >Uninduced</text>
<text x="295.4" y="123.8" font-size="9.2" text-anchor="middle" fill="#2b2b2b" font-weight="normal" font-style="normal" >Induced</text>
<text x="2" y="154.2" font-size="11" text-anchor="start" fill="#1a1a1a" font-weight="bold" font-style="normal" >b</text>
<rect x="37.5" y="156.5" width="301.7" height="142.4" fill="none" stroke="#333" stroke-width="0.7"/>
<line x1="33.5" y1="298.9" x2="37.5" y2="298.9" stroke="#333" stroke-width="0.7" />
<text x="29.9" y="302.1" font-size="9.2" text-anchor="end" fill="#2b2b2b" font-weight="normal" font-style="normal" >0.0</text>
<line x1="33.5" y1="258.07" x2="37.5" y2="258.07" stroke="#333" stroke-width="0.7" />
<text x="29.9" y="261.27" font-size="9.2" text-anchor="end" fill="#2b2b2b" font-weight="normal" font-style="normal" >0.4</text>
<line x1="33.5" y1="217.23" x2="37.5" y2="217.23" stroke="#333" stroke-width="0.7" />
<text x="29.9" y="220.43" font-size="9.2" text-anchor="end" fill="#2b2b2b" font-weight="normal" font-style="normal" >0.8</text>
<line x1="33.5" y1="176.4" x2="37.5" y2="176.4" stroke="#333" stroke-width="0.7" />
<text x="29.9" y="179.6" font-size="9.2" text-anchor="end" fill="#2b2b2b" font-weight="normal" font-style="normal" >1.2</text>
<line x1="35.3" y1="278.48" x2="37.5" y2="278.48" stroke="#333" stroke-width="0.7" />
<line x1="35.3" y1="237.65" x2="37.5" y2="237.65" stroke="#333" stroke-width="0.7" />
<line x1="35.3" y1="196.82" x2="37.5" y2="196.82" stroke="#333" stroke-width="0.7" />
<line x1="37.5" y1="298.9" x2="37.5" y2="302.1" stroke="#333" stroke-width="0.7" />
<text x="37.5" y="310.4" font-size="9.2" text-anchor="middle" fill="#2b2b2b" font-weight="normal" font-style="normal" >08.00</text>
<line x1="59.05" y1="298.9" x2="59.05" y2="300.7" stroke="#333" stroke-width="0.7" />
<line x1="80.6" y1="298.9" x2="80.6" y2="302.1" stroke="#333" stroke-width="0.7" />
<text x="80.6" y="310.4" font-size="9.2" text-anchor="middle" fill="#2b2b2b" font-weight="normal" font-style="normal" >12.00</text>
<line x1="102.15" y1="298.9" x2="102.15" y2="300.7" stroke="#333" stroke-width="0.7" />
<line x1="123.7" y1="298.9" x2="123.7" y2="302.1" stroke="#333" stroke-width="0.7" />
<text x="123.7" y="310.4" font-size="9.2" text-anchor="middle" fill="#2b2b2b" font-weight="normal" font-style="normal" >16.00</text>
<line x1="145.25" y1="298.9" x2="145.25" y2="300.7" stroke="#333" stroke-width="0.7" />
<line x1="166.8" y1="298.9" x2="166.8" y2="302.1" stroke="#333" stroke-width="0.7" />
<text x="166.8" y="310.4" font-size="9.2" text-anchor="middle" fill="#2b2b2b" font-weight="normal" font-style="normal" >20.00</text>
<line x1="188.35" y1="298.9" x2="188.35" y2="300.7" stroke="#333" stroke-width="0.7" />
<line x1="209.9" y1="298.9" x2="209.9" y2="302.1" stroke="#333" stroke-width="0.7" />
<text x="209.9" y="310.4" font-size="9.2" text-anchor="middle" fill="#2b2b2b" font-weight="normal" font-style="normal" >00.00</text>
<line x1="231.45" y1="298.9" x2="231.45" y2="300.7" stroke="#333" stroke-width="0.7" />
<line x1="253" y1="298.9" x2="253" y2="302.1" stroke="#333" stroke-width="0.7" />
<text x="253" y="310.4" font-size="9.2" text-anchor="middle" fill="#2b2b2b" font-weight="normal" font-style="normal" >04.00</text>
<line x1="274.55" y1="298.9" x2="274.55" y2="300.7" stroke="#333" stroke-width="0.7" />
<line x1="296.1" y1="298.9" x2="296.1" y2="302.1" stroke="#333" stroke-width="0.7" />
<text x="296.1" y="310.4" font-size="9.2" text-anchor="middle" fill="#2b2b2b" font-weight="normal" font-style="normal" >08.00</text>
<line x1="317.65" y1="298.9" x2="317.65" y2="300.7" stroke="#333" stroke-width="0.7" />
<line x1="339.2" y1="298.9" x2="339.2" y2="302.1" stroke="#333" stroke-width="0.7" />
<text x="339.2" y="310.4" font-size="9.2" text-anchor="middle" fill="#2b2b2b" font-weight="normal" font-style="normal" >12.00</text>
<text x="195.6" y="326.8" font-size="9.2" text-anchor="middle" fill="#2b2b2b" font-weight="normal" font-style="normal" >Time (h)</text>
<text transform="translate(12,233) rotate(-90)" font-size="9.2" text-anchor="middle" fill="#2b2b2b">|Z|/|Z<tspan dy="2" font-size="5.6">0</tspan><tspan dy="-2">|</tspan></text>
<path d="M51.4,197.6 L56,198.6 L66,198.8 L72,198.2 L80,197.6 L86,197.5 L88.6,198.2 L90.2,201 L91.6,207 L93,216 L94.6,227 L96.4,240 L98.4,253 L100.4,263.5 L102.6,271.5 L105,277 L108,280.6 L112,282.8 L118,284 L126,284.6 L136,285 L146,285.1 L160,285 L180,284.4 L200,283.6 L230,282.4 L260,281.2 L290,280 L320,278.9" fill="none" stroke="#b3325c" stroke-width="2.4" stroke-linejoin="round" stroke-linecap="round" />
<path d="M53,198.25 L57,198.33 L61,198.79 L65,198.55 L69,198.46 L73,198.49 L77,198.07 L81,198.17 L85,198.37 L89,198.66 L93,198.07 L97,197.95 L101,197.64 L105,198.24 L109,198.48 L113,197.9 L117,198.59 L121,198.99 L125,198.88 L129,198.78 L133,198.21 L137,197.71 L141,197.98 L145,197.62 L149,197.55 L153,197.57 L157,197.34 L161,197.69 L165,197.87 L169,198.42 L173,198.39 L177,198.51 L181,198.43 L185,198.55 L189,198.41 L193,198.12 L197,198.74 L201,199.11 L205,199.16 L209,199.04 L213,198.54 L217,198.15 L221,197.98 L225,197.63 L229,198.19 L233,198.13 L237,198.58 L241,198.34 L245,198.83 L249,199 L253,198.17 L257,197.9 L261,198.51 L265,198.39 L269,198.89 L273,198.54 L277,197.97 L281,198.25 L285,198.57 L289,198.21 L293,197.79 L297,197.81 L301,198.52 L305,198.71 L309,198.13 L313,197.92 L317,197.63" fill="none" stroke="#c9cf3c" stroke-width="2.6" stroke-linejoin="round" stroke-linecap="round" />
<path d="M52.5,196.08 L56.5,196.75 L60.5,196.28 L64.5,196.53 L68.5,196.52 L72.5,196.16 L76.5,196.7 L80.5,196.18 L84.5,196.59 L88.5,196.1 L92.5,196.23 L96.5,196.01 L100.5,195.97 L104.5,196.92 L108.5,197.26 L112.5,196.76 L116.5,197.27 L120.5,196.64 L124.5,196.52 L128.5,197.09 L132.5,197.13 L136.5,196.4 L140.5,197.2 L144.5,196.6 L148.5,196.3 L152.5,196.84 L156.5,196.55 L160.5,196.32 L164.5,195.88 L168.5,195.63 L172.5,196.18 L176.5,196.03 L180.5,196.44 L184.5,196.36 L188.5,196.43 L192.5,197.18 L196.5,196.97 L200.5,196.96 L204.5,197.37 L208.5,196.66 L212.5,196.19 L216.5,196.97 L220.5,197.3 L224.5,196.71 L228.5,196.27 L232.5,196.78 L236.5,197.36 L240.5,196.67 L244.5,197.31 L248.5,197.6 L252.5,197.39 L256.5,197 L260.5,196.33 L264.5,195.83 L268.5,196.83 L272.5,196.41 L276.5,196.81 L280.5,196.43 L284.5,196.99 L288.5,197.01 L292.5,196.6 L296.5,196.18 L300.5,196.7 L304.5,196.1 L308.5,195.96 L312.5,196.34 L316.5,196.98" fill="none" stroke="#3aa77c" stroke-width="2.9" stroke-linejoin="round" stroke-linecap="round" />
<circle cx="229.2" cy="162.6" r="1.1" fill="#b3325c"/>
<text x="236.4" y="165.8" font-size="9.2" text-anchor="start" fill="#2b2b2b" font-weight="normal" font-style="normal" ><tspan font-style="italic">RPW8.1</tspan><tspan dy="-3" font-size="5.6">KZ10</tspan><tspan dy="3"> - induced</tspan></text>
<circle cx="229.2" cy="174.8" r="1.1" fill="#3aa77c"/>
<text x="236.4" y="178" font-size="9.2" text-anchor="start" fill="#2b2b2b" font-weight="normal" font-style="normal" ><tspan font-style="italic">RPW8.1</tspan><tspan dy="-3" font-size="5.6">KZ10</tspan><tspan dy="3"> - uninduced</tspan></text>
<path d="M228,186 l2.4,1.2 l-2.4,1.2 Z" fill="#c9cf3c"/>
<text x="236.4" y="190.4" font-size="9.2" text-anchor="start" fill="#2b2b2b" font-weight="normal" font-style="normal" >Mrk-0 WT - induced</text>
<text x="45.8" y="167" font-size="9.2" text-anchor="start" fill="#2b2b2b" font-weight="normal" font-style="normal" >Induction</text>
<text x="45.8" y="177.6" font-size="9.2" text-anchor="start" fill="#2b2b2b" font-weight="normal" font-style="normal" >started</text>
<line x1="60.5" y1="180.6" x2="60.5" y2="189" stroke="#2f2f2f" stroke-width="2.5"/>
<path d="M60.5,195 L57,186.2 L60.5,188.8 L64,186.2 Z" fill="#2f2f2f"/>
<line x1="83.6" y1="231.6" x2="89.39" y2="222.47" stroke="#2f2f2f" stroke-width="2.7"/>
<path d="M92.6,217.4 L90.85,226.71 L89.28,222.64 L84.93,222.96 Z" fill="#2f2f2f"/>
<text x="75.6" y="242" font-size="9.2" text-anchor="middle" fill="#2b2b2b" font-weight="normal" font-style="normal" >3h after</text>
<text x="75.6" y="253" font-size="9.2" text-anchor="middle" fill="#2b2b2b" font-weight="normal" font-style="normal" >induction</text>
<text x="119" y="262.8" font-size="9.2" text-anchor="start" fill="#2b2b2b" font-weight="normal" font-style="normal" >8h after induction</text>
<line x1="146.4" y1="266.2" x2="146.4" y2="274.6" stroke="#2f2f2f" stroke-width="2.5"/>
<path d="M146.4,280.6 L142.9,271.8 L146.4,274.4 L149.9,271.8 Z" fill="#2f2f2f"/>
<circle cx="311.2" cy="270.6" r="5.6" fill="#0054a6"/>
<text x="311.2" y="273.55" font-size="8.2" text-anchor="middle" fill="#fff" font-weight="bold" font-style="normal" >3</text>
<text x="376.6" y="7" font-size="11" text-anchor="start" fill="#1a1a1a" font-weight="bold" font-style="normal" >c</text>
<circle cx="427" cy="15.5" r="5.6" fill="#0054a6"/>
<text x="427" y="18.45" font-size="8.2" text-anchor="middle" fill="#fff" font-weight="bold" font-style="normal" >1</text>
<circle cx="512" cy="15.5" r="5.6" fill="#0054a6"/>
<text x="512" y="18.45" font-size="8.2" text-anchor="middle" fill="#fff" font-weight="bold" font-style="normal" >2</text>
<circle cx="597.8" cy="15.5" r="5.6" fill="#0054a6"/>
<text x="597.8" y="18.45" font-size="8.2" text-anchor="middle" fill="#fff" font-weight="bold" font-style="normal" >3</text>
<text x="430.6" y="41.2" font-size="9.6" text-anchor="middle" fill="#2b2b2b" font-weight="normal" font-style="normal" >Mrk-0 WT</text>
<text x="430.4" y="53.8" font-size="9.6" text-anchor="middle" fill="#2b2b2b" font-weight="normal" font-style="normal" >Induced</text>
<line x1="407" y1="58.3" x2="452" y2="58.3" stroke="#222" stroke-width="0.8" />
<text x="475.4" y="41.2" font-size="9.7" text-anchor="start" fill="#2b2b2b" font-weight="normal" font-style="normal" >Mrk-0 T<tspan dy="2.13" font-size="5.82">3</tspan><tspan dy="-2.13">[</tspan><tspan font-style="italic">pAlcA::RPW8.1</tspan><tspan dy="-3.2" font-size="5.82">KZ10</tspan><tspan dy="3.2">-mVenus #1]</tspan></text>
<line x1="485" y1="45.3" x2="615.2" y2="45.3" stroke="#222" stroke-width="0.8" />
<text x="509.6" y="55.8" font-size="9.6" text-anchor="middle" fill="#2b2b2b" font-weight="normal" font-style="normal" >Uninduced</text>
<line x1="457" y1="58.3" x2="552" y2="58.3" stroke="#222" stroke-width="0.8" />
<text x="602" y="55.8" font-size="9.6" text-anchor="middle" fill="#2b2b2b" font-weight="normal" font-style="normal" >Induced</text>
<line x1="559" y1="58.3" x2="635.8" y2="58.3" stroke="#222" stroke-width="0.8" />
<text x="382.6" y="66.8" font-size="9.6" text-anchor="start" fill="#2b2b2b" font-weight="normal" font-style="normal" >kDa</text>
<text x="412.5" y="68" font-size="9.6" text-anchor="middle" fill="#2b2b2b" font-weight="normal" font-style="normal" >0</text>
<text x="430" y="68" font-size="9.6" text-anchor="middle" fill="#2b2b2b" font-weight="normal" font-style="normal" >1.5</text>
<text x="446" y="68" font-size="9.6" text-anchor="middle" fill="#2b2b2b" font-weight="normal" font-style="normal" >3</text>
<text x="463.8" y="68" font-size="9.6" text-anchor="middle" fill="#2b2b2b" font-weight="normal" font-style="normal" >0</text>
<text x="481" y="68" font-size="9.6" text-anchor="middle" fill="#2b2b2b" font-weight="normal" font-style="normal" >1.5</text>
<text x="497.5" y="68" font-size="9.6" text-anchor="middle" fill="#2b2b2b" font-weight="normal" font-style="normal" >3</text>
<text x="513" y="68" font-size="9.6" text-anchor="middle" fill="#2b2b2b" font-weight="normal" font-style="normal" >6</text>
<text x="532" y="68" font-size="9.6" text-anchor="middle" fill="#2b2b2b" font-weight="normal" font-style="normal" >12</text>
<text x="548.5" y="68" font-size="9.6" text-anchor="middle" fill="#2b2b2b" font-weight="normal" font-style="normal" >24</text>
<text x="567" y="68" font-size="9.6" text-anchor="middle" fill="#2b2b2b" font-weight="normal" font-style="normal" >1.5</text>
<text x="580.8" y="68" font-size="9.6" text-anchor="middle" fill="#2b2b2b" font-weight="normal" font-style="normal" >3</text>
<text x="597" y="68" font-size="9.6" text-anchor="middle" fill="#2b2b2b" font-weight="normal" font-style="normal" >6</text>
<text x="613.5" y="68" font-size="9.6" text-anchor="middle" fill="#2b2b2b" font-weight="normal" font-style="normal" >12</text>
<text x="629.5" y="68" font-size="9.6" text-anchor="middle" fill="#2b2b2b" font-weight="normal" font-style="normal" >24</text>
<text x="641" y="66.6" font-size="9.6" text-anchor="start" fill="#2b2b2b" font-weight="normal" font-style="normal" >hpi</text>
<rect x="403" y="70.8" width="236" height="22.4" fill="#e8e8e8"/>
<g clip-path="url(#cb1)">
<rect x="582" y="64" width="12" height="36" fill="#d2d2d2" filter="url(#bl3)"/>
<rect x="588.6" y="64" width="17" height="36" fill="#a0a0a0" filter="url(#bl2)"/>
<rect x="605" y="64" width="16.4" height="36" fill="#707070" filter="url(#bl2)"/>
<rect x="621.4" y="64" width="20" height="36" fill="#404040" filter="url(#bl2)"/>
<rect x="604.3" y="70" width="1" height="24" fill="#999" opacity="0.7" filter="url(#bl1)"/>
<rect x="620.6" y="70" width="1" height="24" fill="#888" opacity="0.7" filter="url(#bl1)"/>
<ellipse cx="580" cy="81.4" rx="5" ry="1.8" fill="#b0b0b0" filter="url(#bl2)"/>
<rect x="589.4" y="78.6" width="14" height="8.2" rx="3.2" fill="#050505" filter="url(#bl1)"/>
<rect x="590.6" y="79.8" width="11.6" height="5.8" rx="2.4" fill="#000"/>
<rect x="605.4" y="75.8" width="15.2" height="13" rx="4.4" fill="#030303" filter="url(#bl1)"/>
<rect x="606.6" y="77.2" width="12.8" height="10.2" rx="3.4" fill="#000"/>
<rect x="621.6" y="71.2" width="16.6" height="19.4" rx="5.4" fill="#020202" filter="url(#bl1)"/>
<rect x="622.8" y="72.6" width="14.2" height="16.6" rx="4.4" fill="#000"/>
</g>
<rect x="403" y="70.8" width="236" height="22.4" fill="none" stroke="#111" stroke-width="0.9"/>
<text x="396" y="82.2" font-size="9.6" text-anchor="end" fill="#2b2b2b" font-weight="normal" font-style="normal" >50</text>
<line x1="397" y1="79.2" x2="403" y2="79.2" stroke="#222" stroke-width="0.9" />
<text x="641" y="85.5" font-size="9.6" text-anchor="start" fill="#2b2b2b" font-weight="normal" font-style="normal" >Anti-GFP</text>
<rect x="403" y="98.8" width="236" height="25" fill="#f6a2c0"/>
<g clip-path="url(#cb2)">
<rect x="406.5" y="97" width="12" height="29" fill="#ee6097" opacity="0.22" filter="url(#bl2)"/>
<ellipse cx="412.5" cy="110.6" rx="5" ry="5" fill="#ea4c8c" opacity="0.14" filter="url(#bl2)"/>
<rect x="424" y="97" width="12" height="29" fill="#ee6097" opacity="0.37" filter="url(#bl2)"/>
<ellipse cx="430" cy="110.6" rx="5" ry="5" fill="#ea4c8c" opacity="0.24" filter="url(#bl2)"/>
<rect x="440" y="97" width="12" height="29" fill="#ee6097" opacity="0.50" filter="url(#bl2)"/>
<ellipse cx="446" cy="110.6" rx="5" ry="5" fill="#ea4c8c" opacity="0.32" filter="url(#bl2)"/>
<rect x="457.8" y="97" width="12" height="29" fill="#ee6097" opacity="0.19" filter="url(#bl2)"/>
<ellipse cx="463.8" cy="110.6" rx="5" ry="5" fill="#ea4c8c" opacity="0.12" filter="url(#bl2)"/>
<rect x="475" y="97" width="12" height="29" fill="#ee6097" opacity="0.34" filter="url(#bl2)"/>
<ellipse cx="481" cy="110.6" rx="5" ry="5" fill="#ea4c8c" opacity="0.22" filter="url(#bl2)"/>
<rect x="491.5" y="97" width="12" height="29" fill="#ee6097" opacity="0.28" filter="url(#bl2)"/>
<ellipse cx="497.5" cy="110.6" rx="5" ry="5" fill="#ea4c8c" opacity="0.18" filter="url(#bl2)"/>
<rect x="507" y="97" width="12" height="29" fill="#ee6097" opacity="0.28" filter="url(#bl2)"/>
<ellipse cx="513" cy="110.6" rx="5" ry="5" fill="#ea4c8c" opacity="0.18" filter="url(#bl2)"/>
<rect x="526" y="97" width="12" height="29" fill="#ee6097" opacity="0.31" filter="url(#bl2)"/>
<ellipse cx="532" cy="110.6" rx="5" ry="5" fill="#ea4c8c" opacity="0.20" filter="url(#bl2)"/>
<rect x="542.5" y="97" width="12" height="29" fill="#ee6097" opacity="0.28" filter="url(#bl2)"/>
<ellipse cx="548.5" cy="110.6" rx="5" ry="5" fill="#ea4c8c" opacity="0.18" filter="url(#bl2)"/>
<rect x="561" y="97" width="12" height="29" fill="#ee6097" opacity="0.37" filter="url(#bl2)"/>
<ellipse cx="567" cy="110.6" rx="5" ry="5" fill="#ea4c8c" opacity="0.24" filter="url(#bl2)"/>
<rect x="574.8" y="97" width="12" height="29" fill="#ee6097" opacity="0.28" filter="url(#bl2)"/>
<ellipse cx="580.8" cy="110.6" rx="5" ry="5" fill="#ea4c8c" opacity="0.18" filter="url(#bl2)"/>
<rect x="591" y="97" width="12" height="29" fill="#ee6097" opacity="0.31" filter="url(#bl2)"/>
<ellipse cx="597" cy="110.6" rx="5" ry="5" fill="#ea4c8c" opacity="0.20" filter="url(#bl2)"/>
<rect x="607.5" y="97" width="12" height="29" fill="#ee6097" opacity="0.28" filter="url(#bl2)"/>
<ellipse cx="613.5" cy="110.6" rx="5" ry="5" fill="#ea4c8c" opacity="0.18" filter="url(#bl2)"/>
<rect x="623.5" y="97" width="12" height="29" fill="#ee6097" opacity="0.22" filter="url(#bl2)"/>
<ellipse cx="629.5" cy="110.6" rx="5" ry="5" fill="#ea4c8c" opacity="0.14" filter="url(#bl2)"/>
<rect x="420.55" y="99" width="1.4" height="25" fill="#fac0d5" opacity="0.7" filter="url(#bl1)"/>
<rect x="437.3" y="99" width="1.4" height="25" fill="#fac0d5" opacity="0.7" filter="url(#bl1)"/>
<rect x="454.2" y="99" width="1.4" height="25" fill="#fac0d5" opacity="0.7" filter="url(#bl1)"/>
<rect x="471.7" y="99" width="1.4" height="25" fill="#fac0d5" opacity="0.7" filter="url(#bl1)"/>
<rect x="488.55" y="99" width="1.4" height="25" fill="#fac0d5" opacity="0.7" filter="url(#bl1)"/>
<rect x="504.55" y="99" width="1.4" height="25" fill="#fac0d5" opacity="0.7" filter="url(#bl1)"/>
<rect x="521.8" y="99" width="1.4" height="25" fill="#fac0d5" opacity="0.7" filter="url(#bl1)"/>
<rect x="539.55" y="99" width="1.4" height="25" fill="#fac0d5" opacity="0.7" filter="url(#bl1)"/>
<rect x="557.05" y="99" width="1.4" height="25" fill="#fac0d5" opacity="0.7" filter="url(#bl1)"/>
<rect x="573.2" y="99" width="1.4" height="25" fill="#fac0d5" opacity="0.7" filter="url(#bl1)"/>
<rect x="588.2" y="99" width="1.4" height="25" fill="#fac0d5" opacity="0.7" filter="url(#bl1)"/>
<rect x="604.55" y="99" width="1.4" height="25" fill="#fac0d5" opacity="0.7" filter="url(#bl1)"/>
<rect x="620.8" y="99" width="1.4" height="25" fill="#fac0d5" opacity="0.7" filter="url(#bl1)"/>
</g>
<rect x="403" y="98.8" width="236" height="25" fill="none" stroke="#111" stroke-width="0.9"/>
<text x="396" y="112.8" font-size="9.6" text-anchor="end" fill="#2b2b2b" font-weight="normal" font-style="normal" >50</text>
<line x1="397" y1="109.6" x2="403" y2="109.6" stroke="#222" stroke-width="0.9" />
<text x="641" y="113.5" font-size="9.6" text-anchor="start" fill="#2b2b2b" font-weight="normal" font-style="normal" >Ponceau</text>
<text x="376.8" y="155" font-size="11" text-anchor="start" fill="#1a1a1a" font-weight="bold" font-style="normal" >d</text>
<path d="M412.2,153 H665.8 V300.3" fill="none" stroke="#3a3a3a" stroke-width="0.75"/>
<path d="M412.2,153 V300.3 H665.8" fill="none" stroke="#333" stroke-width="0.7"/>
<line x1="407.8" y1="300.3" x2="412.2" y2="300.3" stroke="#333" stroke-width="0.7" />
<text x="405.6" y="303.6" font-size="9.4" text-anchor="end" fill="#2b2b2b" font-weight="normal" font-style="normal" >0</text>
<line x1="407.8" y1="272.73" x2="412.2" y2="272.73" stroke="#333" stroke-width="0.7" />
<text x="405.6" y="276.03" font-size="9.4" text-anchor="end" fill="#2b2b2b" font-weight="normal" font-style="normal" >20</text>
<line x1="407.8" y1="245.15" x2="412.2" y2="245.15" stroke="#333" stroke-width="0.7" />
<text x="405.6" y="248.45" font-size="9.4" text-anchor="end" fill="#2b2b2b" font-weight="normal" font-style="normal" >40</text>
<line x1="407.8" y1="217.57" x2="412.2" y2="217.57" stroke="#333" stroke-width="0.7" />
<text x="405.6" y="220.88" font-size="9.4" text-anchor="end" fill="#2b2b2b" font-weight="normal" font-style="normal" >60</text>
<line x1="407.8" y1="190" x2="412.2" y2="190" stroke="#333" stroke-width="0.7" />
<text x="405.6" y="193.3" font-size="9.4" text-anchor="end" fill="#2b2b2b" font-weight="normal" font-style="normal" >80</text>
<line x1="412.2" y1="300.3" x2="412.2" y2="304.7" stroke="#333" stroke-width="0.7" />
<text x="412.2" y="316.6" font-size="9.4" text-anchor="middle" fill="#2b2b2b" font-weight="normal" font-style="normal" >0</text>
<line x1="416.71" y1="300.3" x2="416.71" y2="302.5" stroke="#333" stroke-width="0.6" />
<line x1="421.21" y1="300.3" x2="421.21" y2="302.5" stroke="#333" stroke-width="0.6" />
<line x1="425.72" y1="300.3" x2="425.72" y2="302.5" stroke="#333" stroke-width="0.6" />
<line x1="430.22" y1="300.3" x2="430.22" y2="302.5" stroke="#333" stroke-width="0.6" />
<line x1="434.73" y1="300.3" x2="434.73" y2="302.5" stroke="#333" stroke-width="0.6" />
<line x1="439.23" y1="300.3" x2="439.23" y2="304.7" stroke="#333" stroke-width="0.7" />
<text x="439.23" y="316.6" font-size="9.4" text-anchor="middle" fill="#2b2b2b" font-weight="normal" font-style="normal" >3</text>
<line x1="443.74" y1="300.3" x2="443.74" y2="302.5" stroke="#333" stroke-width="0.6" />
<line x1="448.24" y1="300.3" x2="448.24" y2="302.5" stroke="#333" stroke-width="0.6" />
<line x1="452.75" y1="300.3" x2="452.75" y2="302.5" stroke="#333" stroke-width="0.6" />
<line x1="457.26" y1="300.3" x2="457.26" y2="302.5" stroke="#333" stroke-width="0.6" />
<line x1="461.76" y1="300.3" x2="461.76" y2="302.5" stroke="#333" stroke-width="0.6" />
<line x1="466.27" y1="300.3" x2="466.27" y2="304.7" stroke="#333" stroke-width="0.7" />
<text x="466.27" y="316.6" font-size="9.4" text-anchor="middle" fill="#2b2b2b" font-weight="normal" font-style="normal" >6</text>
<line x1="470.77" y1="300.3" x2="470.77" y2="302.5" stroke="#333" stroke-width="0.6" />
<line x1="475.28" y1="300.3" x2="475.28" y2="302.5" stroke="#333" stroke-width="0.6" />
<line x1="479.78" y1="300.3" x2="479.78" y2="302.5" stroke="#333" stroke-width="0.6" />
<line x1="484.29" y1="300.3" x2="484.29" y2="302.5" stroke="#333" stroke-width="0.6" />
<line x1="488.79" y1="300.3" x2="488.79" y2="302.5" stroke="#333" stroke-width="0.6" />
<line x1="493.3" y1="300.3" x2="493.3" y2="304.7" stroke="#333" stroke-width="0.7" />
<text x="493.3" y="316.6" font-size="9.4" text-anchor="middle" fill="#2b2b2b" font-weight="normal" font-style="normal" >9</text>
<line x1="497.81" y1="300.3" x2="497.81" y2="302.5" stroke="#333" stroke-width="0.6" />
<line x1="502.31" y1="300.3" x2="502.31" y2="302.5" stroke="#333" stroke-width="0.6" />
<line x1="506.82" y1="300.3" x2="506.82" y2="302.5" stroke="#333" stroke-width="0.6" />
<line x1="511.32" y1="300.3" x2="511.32" y2="302.5" stroke="#333" stroke-width="0.6" />
<line x1="515.83" y1="300.3" x2="515.83" y2="302.5" stroke="#333" stroke-width="0.6" />
<line x1="520.33" y1="300.3" x2="520.33" y2="304.7" stroke="#333" stroke-width="0.7" />
<text x="520.33" y="316.6" font-size="9.4" text-anchor="middle" fill="#2b2b2b" font-weight="normal" font-style="normal" >12</text>
<line x1="524.84" y1="300.3" x2="524.84" y2="302.5" stroke="#333" stroke-width="0.6" />
<line x1="529.34" y1="300.3" x2="529.34" y2="302.5" stroke="#333" stroke-width="0.6" />
<line x1="533.85" y1="300.3" x2="533.85" y2="302.5" stroke="#333" stroke-width="0.6" />
<line x1="538.36" y1="300.3" x2="538.36" y2="302.5" stroke="#333" stroke-width="0.6" />
<line x1="542.86" y1="300.3" x2="542.86" y2="302.5" stroke="#333" stroke-width="0.6" />
<line x1="547.37" y1="300.3" x2="547.37" y2="304.7" stroke="#333" stroke-width="0.7" />
<text x="547.37" y="316.6" font-size="9.4" text-anchor="middle" fill="#2b2b2b" font-weight="normal" font-style="normal" >15</text>
<line x1="551.87" y1="300.3" x2="551.87" y2="302.5" stroke="#333" stroke-width="0.6" />
<line x1="556.38" y1="300.3" x2="556.38" y2="302.5" stroke="#333" stroke-width="0.6" />
<line x1="560.88" y1="300.3" x2="560.88" y2="302.5" stroke="#333" stroke-width="0.6" />
<line x1="565.39" y1="300.3" x2="565.39" y2="302.5" stroke="#333" stroke-width="0.6" />
<line x1="569.89" y1="300.3" x2="569.89" y2="302.5" stroke="#333" stroke-width="0.6" />
<line x1="574.4" y1="300.3" x2="574.4" y2="304.7" stroke="#333" stroke-width="0.7" />
<text x="574.4" y="316.6" font-size="9.4" text-anchor="middle" fill="#2b2b2b" font-weight="normal" font-style="normal" >18</text>
<line x1="578.91" y1="300.3" x2="578.91" y2="302.5" stroke="#333" stroke-width="0.6" />
<line x1="583.41" y1="300.3" x2="583.41" y2="302.5" stroke="#333" stroke-width="0.6" />
<line x1="587.92" y1="300.3" x2="587.92" y2="302.5" stroke="#333" stroke-width="0.6" />
<line x1="592.42" y1="300.3" x2="592.42" y2="302.5" stroke="#333" stroke-width="0.6" />
<line x1="596.93" y1="300.3" x2="596.93" y2="302.5" stroke="#333" stroke-width="0.6" />
<line x1="601.43" y1="300.3" x2="601.43" y2="304.7" stroke="#333" stroke-width="0.7" />
<text x="601.43" y="316.6" font-size="9.4" text-anchor="middle" fill="#2b2b2b" font-weight="normal" font-style="normal" >21</text>
<line x1="605.94" y1="300.3" x2="605.94" y2="302.5" stroke="#333" stroke-width="0.6" />
<line x1="610.44" y1="300.3" x2="610.44" y2="302.5" stroke="#333" stroke-width="0.6" />
<line x1="614.95" y1="300.3" x2="614.95" y2="302.5" stroke="#333" stroke-width="0.6" />
<line x1="619.46" y1="300.3" x2="619.46" y2="302.5" stroke="#333" stroke-width="0.6" />
<line x1="623.96" y1="300.3" x2="623.96" y2="302.5" stroke="#333" stroke-width="0.6" />
<line x1="628.47" y1="300.3" x2="628.47" y2="304.7" stroke="#333" stroke-width="0.7" />
<text x="628.47" y="316.6" font-size="9.4" text-anchor="middle" fill="#2b2b2b" font-weight="normal" font-style="normal" >24</text>
<line x1="632.97" y1="300.3" x2="632.97" y2="302.5" stroke="#333" stroke-width="0.6" />
<line x1="637.48" y1="300.3" x2="637.48" y2="302.5" stroke="#333" stroke-width="0.6" />
<line x1="641.98" y1="300.3" x2="641.98" y2="302.5" stroke="#333" stroke-width="0.6" />
<line x1="646.49" y1="300.3" x2="646.49" y2="302.5" stroke="#333" stroke-width="0.6" />
<line x1="650.99" y1="300.3" x2="650.99" y2="302.5" stroke="#333" stroke-width="0.6" />
<line x1="655.5" y1="300.3" x2="655.5" y2="304.7" stroke="#333" stroke-width="0.7" />
<text x="655.5" y="316.6" font-size="9.4" text-anchor="middle" fill="#2b2b2b" font-weight="normal" font-style="normal" >27</text>
<line x1="660.01" y1="300.3" x2="660.01" y2="302.5" stroke="#333" stroke-width="0.6" />
<text x="536.6" y="326.8" font-size="9.4" text-anchor="middle" fill="#2b2b2b" font-weight="normal" font-style="normal" >hpi</text>
<text transform="translate(385.6,229) rotate(-90)" font-size="9.4" text-anchor="middle" fill="#2b2b2b">Ion leakage (µS/cm)</text>
<path d="M412.2,296.16 L425.72,292.85 L439.23,290.65 L457.26,288.72 L475.28,287.06 L493.3,285.96 L511.32,285.13 L628.47,279.07 L655.5,278.52" fill="none" stroke="#c3c5c6" stroke-width="2.0" stroke-linejoin="round" stroke-linecap="round" />
<path d="M412.2,292.36 L416,298.76 L408.4,298.76 Z" fill="#c3c5c6"/>
<path d="M425.72,289.05 L429.52,295.45 L421.92,295.45 Z" fill="#c3c5c6"/>
<path d="M439.23,286.85 L443.03,293.25 L435.43,293.25 Z" fill="#c3c5c6"/>
<path d="M457.26,284.92 L461.06,291.32 L453.46,291.32 Z" fill="#c3c5c6"/>
<path d="M475.28,283.26 L479.08,289.66 L471.48,289.66 Z" fill="#c3c5c6"/>
<path d="M493.3,282.16 L497.1,288.56 L489.5,288.56 Z" fill="#c3c5c6"/>
<path d="M511.32,281.33 L515.12,287.73 L507.52,287.73 Z" fill="#c3c5c6"/>
<path d="M628.47,275.27 L632.27,281.67 L624.67,281.67 Z" fill="#c3c5c6"/>
<path d="M655.5,274.72 L659.3,281.12 L651.7,281.12 Z" fill="#c3c5c6"/>
<path d="M412.2,295.34 L425.72,291.48 L439.23,289.27 L457.26,287.34 L475.28,285.69 L493.3,284.58 L511.32,283.75 L628.47,277.41 L655.5,277.14" fill="none" stroke="#78abdc" stroke-width="2.0" stroke-linejoin="round" stroke-linecap="round" />
<circle cx="412.2" cy="295.34" r="1.8" fill="#78abdc"/>
<circle cx="425.72" cy="291.48" r="1.8" fill="#78abdc"/>
<circle cx="439.23" cy="289.27" r="1.8" fill="#78abdc"/>
<circle cx="457.26" cy="287.34" r="1.8" fill="#78abdc"/>
<circle cx="475.28" cy="285.69" r="1.8" fill="#78abdc"/>
<circle cx="493.3" cy="284.58" r="1.8" fill="#78abdc"/>
<circle cx="511.32" cy="283.75" r="1.8" fill="#78abdc"/>
<circle cx="628.47" cy="277.41" r="1.8" fill="#78abdc"/>
<circle cx="655.5" cy="277.14" r="1.8" fill="#78abdc"/>
<path d="M412.2,292.58 L425.72,287.89 L439.23,285.13 L457.26,283.07 L475.28,281.55 L493.3,280.31 L511.32,279.62 L628.47,273.41 L655.5,273.69" fill="none" stroke="#6f7072" stroke-width="2.0" stroke-linejoin="round" stroke-linecap="round" />
<rect x="408.6" y="288.98" width="7.2" height="7.2" fill="#6f7072"/>
<rect x="422.12" y="284.29" width="7.2" height="7.2" fill="#6f7072"/>
<rect x="435.63" y="281.53" width="7.2" height="7.2" fill="#6f7072"/>
<rect x="453.66" y="279.47" width="7.2" height="7.2" fill="#6f7072"/>
<rect x="471.68" y="277.95" width="7.2" height="7.2" fill="#6f7072"/>
<rect x="489.7" y="276.71" width="7.2" height="7.2" fill="#6f7072"/>
<rect x="507.72" y="276.02" width="7.2" height="7.2" fill="#6f7072"/>
<rect x="624.87" y="269.81" width="7.2" height="7.2" fill="#6f7072"/>
<rect x="651.9" y="270.09" width="7.2" height="7.2" fill="#6f7072"/>
<path d="M412.2,293.41 L425.72,286.51 L439.23,274.66 L457.26,257.56 L475.28,238.26 L493.3,228.61 L511.32,221.02 L628.47,197.58 L655.5,195.51" fill="none" stroke="#e4686e" stroke-width="2.1" stroke-linejoin="round" stroke-linecap="round" />
<path d="M412.2,291.34 V295.47 M408.6,291.34 H415.8 M408.6,295.47 H415.8" stroke="#e4686e" stroke-width="1.5" fill="none"/>
<path d="M408.4,290.81 L416,290.81 L412.2,297.21 Z" fill="#e4686e"/>
<path d="M425.72,282.93 V290.1 M422.12,282.93 H429.32 M422.12,290.1 H429.32" stroke="#e4686e" stroke-width="1.5" fill="none"/>
<path d="M421.92,283.91 L429.52,283.91 L425.72,290.31 Z" fill="#e4686e"/>
<path d="M439.23,271.07 V278.24 M435.63,271.07 H442.83 M435.63,278.24 H442.83" stroke="#e4686e" stroke-width="1.5" fill="none"/>
<path d="M435.43,272.06 L443.03,272.06 L439.23,278.46 Z" fill="#e4686e"/>
<path d="M457.26,251.22 V263.9 M453.66,251.22 H460.86 M453.66,263.9 H460.86" stroke="#e4686e" stroke-width="1.5" fill="none"/>
<path d="M453.46,254.96 L461.06,254.96 L457.26,261.36 Z" fill="#e4686e"/>
<path d="M475.28,227.23 V249.29 M471.68,227.23 H478.88 M471.68,249.29 H478.88" stroke="#e4686e" stroke-width="1.5" fill="none"/>
<path d="M471.48,235.66 L479.08,235.66 L475.28,242.06 Z" fill="#e4686e"/>
<path d="M493.3,214.82 V242.39 M489.7,214.82 H496.9 M489.7,242.39 H496.9" stroke="#e4686e" stroke-width="1.5" fill="none"/>
<path d="M489.5,226.01 L497.1,226.01 L493.3,232.41 Z" fill="#e4686e"/>
<path d="M511.32,207.23 V234.81 M507.72,207.23 H514.92 M507.72,234.81 H514.92" stroke="#e4686e" stroke-width="1.5" fill="none"/>
<path d="M507.52,218.42 L515.12,218.42 L511.32,224.82 Z" fill="#e4686e"/>
<path d="M628.47,181.04 V214.13 M624.87,181.04 H632.07 M624.87,214.13 H632.07" stroke="#e4686e" stroke-width="1.5" fill="none"/>
<path d="M624.67,194.98 L632.27,194.98 L628.47,201.38 Z" fill="#e4686e"/>
<path d="M655.5,178.42 V212.61 M651.9,178.42 H659.1 M651.9,212.61 H659.1" stroke="#e4686e" stroke-width="1.5" fill="none"/>
<path d="M651.7,192.91 L659.3,192.91 L655.5,199.31 Z" fill="#e4686e"/>
<line x1="418.6" y1="161.2" x2="429.8" y2="161.2" stroke="#e4686e" stroke-width="1.8" />
<path d="M420.8,159.2 L427.6,159.2 L424.2,164 Z" fill="#e4686e"/>
<text x="434.4" y="164.4" font-size="9.4" text-anchor="start" fill="#2b2b2b" font-weight="normal" font-style="normal" >Mrk-0 T<tspan dy="2.07" font-size="5.64">3</tspan><tspan dy="-2.07">[</tspan><tspan font-style="italic">pAlcA::RPW8.1</tspan><tspan dy="-3.1" font-size="5.64">KZ10</tspan><tspan dy="3.1" font-style="italic">-mVenus</tspan> #1] in 1% ethanol</text>
<line x1="418.6" y1="173.4" x2="429.8" y2="173.4" stroke="#6f7072" stroke-width="1.8" />
<rect x="421.4" y="170.8" width="5.6" height="5.2" fill="#6f7072"/>
<text x="434.4" y="176.6" font-size="9.4" text-anchor="start" fill="#2b2b2b" font-weight="normal" font-style="normal" >Mrk-0 T<tspan dy="2.07" font-size="5.64">3</tspan><tspan dy="-2.07">[</tspan><tspan font-style="italic">pAlcA::RPW8.1</tspan><tspan dy="-3.1" font-size="5.64">KZ10</tspan><tspan dy="3.1" font-style="italic">-mVenus</tspan> #1] mock</text>
<line x1="418.6" y1="185" x2="429.8" y2="185" stroke="#c3c5c6" stroke-width="1.8" />
<path d="M424.2,182 L427.4,187 L421,187 Z" fill="#c3c5c6"/>
<text x="434.4" y="188.2" font-size="9.4" text-anchor="start" fill="#2b2b2b" font-weight="normal" font-style="normal" >Mrk-0 WT in 1% ethanol</text>
<line x1="418.6" y1="197.6" x2="429.8" y2="197.6" stroke="#78abdc" stroke-width="1.8" />
<circle cx="424.2" cy="197.6" r="2.7" fill="#78abdc"/>
<text x="434.4" y="200.8" font-size="9.4" text-anchor="start" fill="#2b2b2b" font-weight="normal" font-style="normal" >Mrk-0 WT mock</text>
<circle cx="645.8" cy="188.6" r="5.6" fill="#0054a6"/>
<text x="645.8" y="191.55" font-size="8.2" text-anchor="middle" fill="#fff" font-weight="bold" font-style="normal" >3</text>
<text x="2.6" y="350.6" font-size="11" text-anchor="start" fill="#1a1a1a" font-weight="bold" font-style="normal" >e</text>
<text x="238.4" y="350.8" font-size="11" text-anchor="start" fill="#1a1a1a" font-weight="bold" font-style="normal" >f</text>
<text x="471.6" y="348.2" font-size="11" text-anchor="start" fill="#1a1a1a" font-weight="bold" font-style="normal" >g</text>
<rect x="29.6" y="355.6" width="191.4" height="109.6" fill="#000"/>
<rect x="259.3" y="355" width="191.6" height="110.2" fill="#000"/>
<rect x="492.4" y="355" width="192.6" height="110.2" fill="#000"/>
<g filter="url(#ph)">
<rect x="44.5" y="389.5" width="42" height="46" rx="2" fill="#17110f"/>
<rect x="44.5" y="389.5" width="42" height="46" rx="2" fill="#fff" filter="url(#soil)"/>
<g transform="translate(55.5,397.5) rotate(190.07)"><path d="M0,0 L7.48,0" stroke="#5aa233" stroke-width="1.11" stroke-linecap="round"/><path d="M6.48,0 C8.66,-1.85 12.29,-3.71 16.36,-3.52 C19.56,-3.15 21.02,-1.48 21.02,0 C21.02,1.48 19.56,3.15 16.36,3.52 C12.29,3.71 8.66,1.85 6.48,0 Z" fill="#93d65a"/><path d="M6.48,0 L19.33,0" stroke="#a5e070" stroke-width="0.5" opacity="0.5"/></g>
<g transform="translate(55.5,397.5) rotate(63.94)"><path d="M0,0 L6.91,0" stroke="#5aa233" stroke-width="1.01" stroke-linecap="round"/><path d="M5.91,0 C8.16,-1.69 11.91,-3.38 16.11,-3.21 C19.42,-2.87 20.92,-1.35 20.92,0 C20.92,1.35 19.42,2.87 16.11,3.21 C11.91,3.38 8.16,1.69 5.91,0 Z" fill="#86ce4e"/><path d="M5.91,0 L19.24,0" stroke="#a5e070" stroke-width="0.5" opacity="0.5"/></g>
<g transform="translate(55.5,397.5) rotate(334.68)"><path d="M0,0 L7.02,0" stroke="#5aa233" stroke-width="0.86" stroke-linecap="round"/><path d="M6.02,0 C7.97,-1.43 11.22,-2.87 14.86,-2.72 C17.72,-2.44 19.02,-1.15 19.02,0 C19.02,1.15 17.72,2.44 14.86,2.72 C11.22,2.87 7.97,1.43 6.02,0 Z" fill="#68b83a"/><path d="M6.02,0 L17.5,0" stroke="#a5e070" stroke-width="0.5" opacity="0.5"/></g>
<g transform="translate(55.5,397.5) rotate(599.04)"><path d="M0,0 L6.07,0" stroke="#5aa233" stroke-width="0.85" stroke-linecap="round"/><path d="M5.07,0 C7.14,-1.42 10.58,-2.84 14.44,-2.69 C17.47,-2.41 18.85,-1.13 18.85,0 C18.85,1.13 17.47,2.41 14.44,2.69 C10.58,2.84 7.14,1.42 5.07,0 Z" fill="#569f30"/><path d="M5.07,0 L17.34,0" stroke="#a5e070" stroke-width="0.5" opacity="0.5"/></g>
<g transform="translate(55.5,397.5) rotate(459.96)"><path d="M0,0 L6.06,0" stroke="#5aa233" stroke-width="0.89" stroke-linecap="round"/><path d="M5.06,0 C6.97,-1.48 10.14,-2.95 13.7,-2.81 C16.49,-2.51 17.76,-1.18 17.76,0 C17.76,1.18 16.49,2.51 13.7,2.81 C10.14,2.95 6.97,1.48 5.06,0 Z" fill="#569f30"/><path d="M5.06,0 L16.34,0" stroke="#a5e070" stroke-width="0.5" opacity="0.5"/></g>
<g transform="translate(55.5,397.5) rotate(890.11)"><path d="M0,0 L7.63,0" stroke="#5aa233" stroke-width="0.88" stroke-linecap="round"/><path d="M6.63,0 C8.26,-1.47 10.98,-2.93 14.02,-2.79 C16.41,-2.49 17.5,-1.17 17.5,0 C17.5,1.17 16.41,2.49 14.02,2.79 C10.98,2.93 8.26,1.47 6.63,0 Z" fill="#9ad960"/><path d="M6.63,0 L16.1,0" stroke="#a5e070" stroke-width="0.5" opacity="0.5"/></g>
<g transform="translate(55.5,397.5) rotate(1150.16)"><path d="M0,0 L5.33,0" stroke="#5aa233" stroke-width="0.8" stroke-linecap="round"/><path d="M4.33,0 C6.05,-1.23 8.9,-2.47 12.1,-2.34 C14.62,-2.1 15.76,-0.99 15.76,0 C15.76,0.99 14.62,2.1 12.1,2.34 C8.9,2.47 6.05,1.23 4.33,0 Z" fill="#79c544"/><path d="M4.33,0 L14.5,0" stroke="#a5e070" stroke-width="0.5" opacity="0.5"/></g>
<g transform="translate(55.5,397.5) rotate(740.47)"><path d="M0,0 L5.91,0" stroke="#5aa233" stroke-width="0.83" stroke-linecap="round"/><path d="M4.91,0 C6.43,-1.39 8.96,-2.78 11.79,-2.64 C14.02,-2.36 15.03,-1.11 15.03,0 C15.03,1.11 14.02,2.36 11.79,2.64 C8.96,2.78 6.43,1.39 4.91,0 Z" fill="#7fc948"/><path d="M4.91,0 L13.82,0" stroke="#a5e070" stroke-width="0.5" opacity="0.5"/></g>
<g transform="translate(55.5,397.5) rotate(1010.7)"><path d="M0,0 L5.14,0" stroke="#5aa233" stroke-width="0.8" stroke-linecap="round"/><path d="M4.14,0 C5.71,-1.18 8.31,-2.37 11.24,-2.25 C13.53,-2.01 14.57,-0.95 14.57,0 C14.57,0.95 13.53,2.01 11.24,2.25 C8.31,2.37 5.71,1.18 4.14,0 Z" fill="#5fac35"/><path d="M4.14,0 L13.41,0" stroke="#a5e070" stroke-width="0.5" opacity="0.5"/></g>
<g transform="translate(55.5,397.5) rotate(1288.6)"><path d="M0,0 L6.18,0" stroke="#5aa233" stroke-width="0.8" stroke-linecap="round"/><path d="M5.18,0 C6.52,-1.03 8.75,-2.06 11.26,-1.95 C13.23,-1.75 14.12,-0.82 14.12,0 C14.12,0.82 13.23,1.75 11.26,1.95 C8.75,2.06 6.52,1.03 5.18,0 Z" fill="#86ce4e"/><path d="M5.18,0 L12.99,0" stroke="#a5e070" stroke-width="0.5" opacity="0.5"/></g>
<g transform="translate(55.5,397.5) rotate(1444.65)"><path d="M0,0 L4.43,0" stroke="#5aa233" stroke-width="0.8" stroke-linecap="round"/><path d="M3.43,0 C4.66,-0.96 6.71,-1.92 9.01,-1.82 C10.81,-1.63 11.63,-0.77 11.63,0 C11.63,0.77 10.81,1.63 9.01,1.82 C6.71,1.92 4.66,0.96 3.43,0 Z" fill="#5fac35"/><path d="M3.43,0 L10.7,0" stroke="#a5e070" stroke-width="0.5" opacity="0.5"/></g>
<circle cx="55.5" cy="397.5" r="1.6" fill="#7fc948"/>
<g transform="translate(76.5,397.5) rotate(475.5)"><path d="M0,0 L8.96,0" stroke="#5aa233" stroke-width="0.94" stroke-linecap="round"/><path d="M7.96,0 C9.95,-1.56 13.26,-3.12 16.97,-2.97 C19.89,-2.65 21.21,-1.25 21.21,0 C21.21,1.25 19.89,2.65 16.97,2.97 C13.26,3.12 9.95,1.56 7.96,0 Z" fill="#86ce4e"/><path d="M7.96,0 L19.51,0" stroke="#a5e070" stroke-width="0.5" opacity="0.5"/></g>
<g transform="translate(76.5,397.5) rotate(623.81)"><path d="M0,0 L6.54,0" stroke="#5aa233" stroke-width="0.89" stroke-linecap="round"/><path d="M5.54,0 C7.89,-1.48 11.8,-2.97 16.18,-2.82 C19.62,-2.52 21.19,-1.19 21.19,0 C21.19,1.19 19.62,2.52 16.18,2.82 C11.8,2.97 7.89,1.48 5.54,0 Z" fill="#9ad960"/><path d="M5.54,0 L19.49,0" stroke="#a5e070" stroke-width="0.5" opacity="0.5"/></g>
<g transform="translate(76.5,397.5) rotate(343.66)"><path d="M0,0 L7.18,0" stroke="#5aa233" stroke-width="0.94" stroke-linecap="round"/><path d="M6.18,0 C8.16,-1.57 11.46,-3.14 15.16,-2.98 C18.07,-2.67 19.39,-1.25 19.39,0 C19.39,1.25 18.07,2.67 15.16,2.98 C11.46,3.14 8.16,1.57 6.18,0 Z" fill="#93d65a"/><path d="M6.18,0 L17.83,0" stroke="#a5e070" stroke-width="0.5" opacity="0.5"/></g>
<g transform="translate(76.5,397.5) rotate(745.81)"><path d="M0,0 L7.38,0" stroke="#5aa233" stroke-width="0.92" stroke-linecap="round"/><path d="M6.38,0 C8.24,-1.53 11.33,-3.07 14.8,-2.91 C17.52,-2.61 18.76,-1.23 18.76,0 C18.76,1.23 17.52,2.61 14.8,2.91 C11.33,3.07 8.24,1.53 6.38,0 Z" fill="#5fac35"/><path d="M6.38,0 L17.26,0" stroke="#a5e070" stroke-width="0.5" opacity="0.5"/></g>
<g transform="translate(76.5,397.5) rotate(1021.83)"><path d="M0,0 L5.9,0" stroke="#5aa233" stroke-width="0.89" stroke-linecap="round"/><path d="M4.9,0 C6.8,-1.48 9.96,-2.95 13.5,-2.8 C16.28,-2.51 17.55,-1.18 17.55,0 C17.55,1.18 16.28,2.51 13.5,2.8 C9.96,2.95 6.8,1.48 4.9,0 Z" fill="#569f30"/><path d="M4.9,0 L16.14,0" stroke="#a5e070" stroke-width="0.5" opacity="0.5"/></g>
<g transform="translate(76.5,397.5) rotate(895.34)"><path d="M0,0 L6.27,0" stroke="#5aa233" stroke-width="0.93" stroke-linecap="round"/><path d="M5.27,0 C7.01,-1.55 9.91,-3.1 13.15,-2.95 C15.7,-2.64 16.86,-1.24 16.86,0 C16.86,1.24 15.7,2.64 13.15,2.95 C9.91,3.1 7.01,1.55 5.27,0 Z" fill="#79c544"/><path d="M5.27,0 L15.51,0" stroke="#a5e070" stroke-width="0.5" opacity="0.5"/></g>
<g transform="translate(76.5,397.5) rotate(1176.63)"><path d="M0,0 L6.44,0" stroke="#5aa233" stroke-width="0.81" stroke-linecap="round"/><path d="M5.44,0 C6.94,-1.34 9.43,-2.69 12.23,-2.55 C14.42,-2.28 15.42,-1.08 15.42,0 C15.42,1.08 14.42,2.28 12.23,2.55 C9.43,2.69 6.94,1.34 5.44,0 Z" fill="#5fac35"/><path d="M5.44,0 L14.19,0" stroke="#a5e070" stroke-width="0.5" opacity="0.5"/></g>
<g transform="translate(76.5,397.5) rotate(1316.44)"><path d="M0,0 L4.81,0" stroke="#5aa233" stroke-width="0.8" stroke-linecap="round"/><path d="M3.81,0 C5.38,-1.05 7.99,-2.11 10.92,-2 C13.23,-1.79 14.27,-0.84 14.27,0 C14.27,0.84 13.23,1.79 10.92,2 C7.99,2.11 5.38,1.05 3.81,0 Z" fill="#7fc948"/><path d="M3.81,0 L13.13,0" stroke="#a5e070" stroke-width="0.5" opacity="0.5"/></g>
<g transform="translate(76.5,397.5) rotate(1453.78)"><path d="M0,0 L4.49,0" stroke="#5aa233" stroke-width="0.8" stroke-linecap="round"/><path d="M3.49,0 C4.94,-1.05 7.35,-2.09 10.04,-1.99 C12.16,-1.78 13.13,-0.84 13.13,0 C13.13,0.84 12.16,1.78 10.04,1.99 C7.35,2.09 4.94,1.05 3.49,0 Z" fill="#72be3f"/><path d="M3.49,0 L12.08,0" stroke="#a5e070" stroke-width="0.5" opacity="0.5"/></g>
<g transform="translate(76.5,397.5) rotate(1572.96)"><path d="M0,0 L4.96,0" stroke="#5aa233" stroke-width="0.8" stroke-linecap="round"/><path d="M3.96,0 C5.12,-0.95 7.05,-1.91 9.21,-1.81 C10.91,-1.62 11.68,-0.76 11.68,0 C11.68,0.76 10.91,1.62 9.21,1.81 C7.05,1.91 5.12,0.95 3.96,0 Z" fill="#72be3f"/><path d="M3.96,0 L10.74,0" stroke="#a5e070" stroke-width="0.5" opacity="0.5"/></g>
<g transform="translate(76.5,397.5) rotate(1722.41)"><path d="M0,0 L4.43,0" stroke="#5aa233" stroke-width="0.8" stroke-linecap="round"/><path d="M3.43,0 C4.57,-1 6.47,-2 8.6,-1.9 C10.28,-1.7 11.04,-0.8 11.04,0 C11.04,0.8 10.28,1.7 8.6,1.9 C6.47,2 4.57,1 3.43,0 Z" fill="#68b83a"/><path d="M3.43,0 L10.16,0" stroke="#a5e070" stroke-width="0.5" opacity="0.5"/></g>
<circle cx="76.5" cy="397.5" r="1.6" fill="#7fc948"/>
<g transform="translate(54.5,425.5) rotate(330.48)"><path d="M0,0 L8.45,0" stroke="#5aa233" stroke-width="1.19" stroke-linecap="round"/><path d="M7.45,0 C9.97,-1.98 14.16,-3.97 18.86,-3.77 C22.55,-3.37 24.23,-1.59 24.23,0 C24.23,1.59 22.55,3.37 18.86,3.77 C14.16,3.97 9.97,1.98 7.45,0 Z" fill="#79c544"/><path d="M7.45,0 L22.29,0" stroke="#a5e070" stroke-width="0.5" opacity="0.5"/></g>
<g transform="translate(54.5,425.5) rotate(210.53)"><path d="M0,0 L7.27,0" stroke="#5aa233" stroke-width="1.16" stroke-linecap="round"/><path d="M6.27,0 C8.9,-1.93 13.29,-3.85 18.21,-3.66 C22.07,-3.27 23.83,-1.54 23.83,0 C23.83,1.54 22.07,3.27 18.21,3.66 C13.29,3.85 8.9,1.93 6.27,0 Z" fill="#86ce4e"/><path d="M6.27,0 L21.92,0" stroke="#a5e070" stroke-width="0.5" opacity="0.5"/></g>
<g transform="translate(54.5,425.5) rotate(51.09)"><path d="M0,0 L8.89,0" stroke="#5aa233" stroke-width="1.21" stroke-linecap="round"/><path d="M7.89,0 C10.05,-2.01 13.64,-4.02 17.67,-3.82 C20.83,-3.42 22.27,-1.61 22.27,0 C22.27,1.61 20.83,3.42 17.67,3.82 C13.64,4.02 10.05,2.01 7.89,0 Z" fill="#7fc948"/><path d="M7.89,0 L20.48,0" stroke="#a5e070" stroke-width="0.5" opacity="0.5"/></g>
<g transform="translate(54.5,425.5) rotate(619.55)"><path d="M0,0 L8.95,0" stroke="#5aa233" stroke-width="1.18" stroke-linecap="round"/><path d="M7.95,0 C10.04,-1.96 13.51,-3.92 17.4,-3.73 C20.46,-3.34 21.85,-1.57 21.85,0 C21.85,1.57 20.46,3.34 17.4,3.73 C13.51,3.92 10.04,1.96 7.95,0 Z" fill="#79c544"/><path d="M7.95,0 L20.1,0" stroke="#a5e070" stroke-width="0.5" opacity="0.5"/></g>
<g transform="translate(54.5,425.5) rotate(751.36)"><path d="M0,0 L6.31,0" stroke="#5aa233" stroke-width="0.96" stroke-linecap="round"/><path d="M5.31,0 C7.41,-1.6 10.9,-3.21 14.82,-3.05 C17.9,-2.72 19.29,-1.28 19.29,0 C19.29,1.28 17.9,2.72 14.82,3.05 C10.9,3.21 7.41,1.6 5.31,0 Z" fill="#72be3f"/><path d="M5.31,0 L17.75,0" stroke="#a5e070" stroke-width="0.5" opacity="0.5"/></g>
<g transform="translate(54.5,425.5) rotate(1018.55)"><path d="M0,0 L8.13,0" stroke="#5aa233" stroke-width="0.8" stroke-linecap="round"/><path d="M7.13,0 C8.92,-1.34 11.92,-2.68 15.27,-2.55 C17.91,-2.28 19.1,-1.07 19.1,0 C19.1,1.07 17.91,2.28 15.27,2.55 C11.92,2.68 8.92,1.34 7.13,0 Z" fill="#6cbb3c"/><path d="M7.13,0 L17.57,0" stroke="#a5e070" stroke-width="0.5" opacity="0.5"/></g>
<g transform="translate(54.5,425.5) rotate(1165.87)"><path d="M0,0 L7.02,0" stroke="#5aa233" stroke-width="0.8" stroke-linecap="round"/><path d="M6.02,0 C7.94,-1.33 11.15,-2.66 14.75,-2.53 C17.57,-2.26 18.85,-1.06 18.85,0 C18.85,1.06 17.57,2.26 14.75,2.53 C11.15,2.66 7.94,1.33 6.02,0 Z" fill="#5fac35"/><path d="M6.02,0 L17.34,0" stroke="#a5e070" stroke-width="0.5" opacity="0.5"/></g>
<g transform="translate(54.5,425.5) rotate(479.41)"><path d="M0,0 L7.28,0" stroke="#5aa233" stroke-width="0.84" stroke-linecap="round"/><path d="M6.28,0 C8.15,-1.4 11.27,-2.81 14.77,-2.67 C17.52,-2.39 18.76,-1.12 18.76,0 C18.76,1.12 17.52,2.39 14.77,2.67 C11.27,2.81 8.15,1.4 6.28,0 Z" fill="#569f30"/><path d="M6.28,0 L17.26,0" stroke="#a5e070" stroke-width="0.5" opacity="0.5"/></g>
<g transform="translate(54.5,425.5) rotate(894.81)"><path d="M0,0 L6.07,0" stroke="#5aa233" stroke-width="0.88" stroke-linecap="round"/><path d="M5.07,0 C7,-1.47 10.23,-2.95 13.84,-2.8 C16.67,-2.5 17.96,-1.18 17.96,0 C17.96,1.18 16.67,2.5 13.84,2.8 C10.23,2.95 7,1.47 5.07,0 Z" fill="#86ce4e"/><path d="M5.07,0 L16.53,0" stroke="#a5e070" stroke-width="0.5" opacity="0.5"/></g>
<g transform="translate(54.5,425.5) rotate(1301.18)"><path d="M0,0 L5.69,0" stroke="#5aa233" stroke-width="0.88" stroke-linecap="round"/><path d="M4.69,0 C6.47,-1.47 9.42,-2.94 12.73,-2.8 C15.33,-2.5 16.51,-1.18 16.51,0 C16.51,1.18 15.33,2.5 12.73,2.8 C9.42,2.94 6.47,1.47 4.69,0 Z" fill="#5fac35"/><path d="M4.69,0 L15.19,0" stroke="#a5e070" stroke-width="0.5" opacity="0.5"/></g>
<g transform="translate(54.5,425.5) rotate(1584.94)"><path d="M0,0 L6.11,0" stroke="#5aa233" stroke-width="0.8" stroke-linecap="round"/><path d="M5.11,0 C6.53,-1.06 8.9,-2.13 11.55,-2.02 C13.63,-1.81 14.57,-0.85 14.57,0 C14.57,0.85 13.63,1.81 11.55,2.02 C8.9,2.13 6.53,1.06 5.11,0 Z" fill="#6cbb3c"/><path d="M5.11,0 L13.41,0" stroke="#a5e070" stroke-width="0.5" opacity="0.5"/></g>
<g transform="translate(54.5,425.5) rotate(1438.45)"><path d="M0,0 L5.8,0" stroke="#5aa233" stroke-width="0.8" stroke-linecap="round"/><path d="M4.8,0 C6.17,-1.1 8.45,-2.2 11,-2.09 C13,-1.87 13.91,-0.88 13.91,0 C13.91,0.88 13,1.87 11,2.09 C8.45,2.2 6.17,1.1 4.8,0 Z" fill="#9ad960"/><path d="M4.8,0 L12.8,0" stroke="#a5e070" stroke-width="0.5" opacity="0.5"/></g>
<circle cx="54.5" cy="425.5" r="1.6" fill="#7fc948"/>
<g transform="translate(75.5,426.5) rotate(321.17)"><path d="M0,0 L9.3,0" stroke="#5aa233" stroke-width="1.04" stroke-linecap="round"/><path d="M8.3,0 C10.77,-1.74 14.89,-3.48 19.5,-3.3 C23.12,-2.95 24.76,-1.39 24.76,0 C24.76,1.39 23.12,2.95 19.5,3.3 C14.89,3.48 10.77,1.74 8.3,0 Z" fill="#79c544"/><path d="M8.3,0 L22.78,0" stroke="#a5e070" stroke-width="0.5" opacity="0.5"/></g>
<g transform="translate(75.5,426.5) rotate(581.8)"><path d="M0,0 L8.35,0" stroke="#5aa233" stroke-width="1.04" stroke-linecap="round"/><path d="M7.35,0 C9.69,-1.74 13.59,-3.47 17.95,-3.3 C21.38,-2.95 22.94,-1.39 22.94,0 C22.94,1.39 21.38,2.95 17.95,3.3 C13.59,3.47 9.69,1.74 7.35,0 Z" fill="#7fc948"/><path d="M7.35,0 L21.11,0" stroke="#a5e070" stroke-width="0.5" opacity="0.5"/></g>
<g transform="translate(75.5,426.5) rotate(731.81)"><path d="M0,0 L7.9,0" stroke="#5aa233" stroke-width="0.86" stroke-linecap="round"/><path d="M6.9,0 C8.9,-1.43 12.22,-2.87 15.95,-2.72 C18.87,-2.44 20.2,-1.15 20.2,0 C20.2,1.15 18.87,2.44 15.95,2.72 C12.22,2.87 8.9,1.43 6.9,0 Z" fill="#68b83a"/><path d="M6.9,0 L18.59,0" stroke="#a5e070" stroke-width="0.5" opacity="0.5"/></g>
<g transform="translate(75.5,426.5) rotate(451.23)"><path d="M0,0 L7.38,0" stroke="#5aa233" stroke-width="1.06" stroke-linecap="round"/><path d="M6.38,0 C8.45,-1.76 11.9,-3.52 15.76,-3.34 C18.79,-2.99 20.17,-1.41 20.17,0 C20.17,1.41 18.79,2.99 15.76,3.34 C11.9,3.52 8.45,1.76 6.38,0 Z" fill="#7fc948"/><path d="M6.38,0 L18.56,0" stroke="#a5e070" stroke-width="0.5" opacity="0.5"/></g>
<g transform="translate(75.5,426.5) rotate(997.17)"><path d="M0,0 L7.03,0" stroke="#5aa233" stroke-width="0.97" stroke-linecap="round"/><path d="M6.03,0 C8.07,-1.62 11.48,-3.24 15.29,-3.08 C18.29,-2.75 19.65,-1.3 19.65,0 C19.65,1.3 18.29,2.75 15.29,3.08 C11.48,3.24 8.07,1.62 6.03,0 Z" fill="#6cbb3c"/><path d="M6.03,0 L18.08,0" stroke="#a5e070" stroke-width="0.5" opacity="0.5"/></g>
<g transform="translate(75.5,426.5) rotate(861.93)"><path d="M0,0 L6.23,0" stroke="#5aa233" stroke-width="1.06" stroke-linecap="round"/><path d="M5.23,0 C7.37,-1.76 10.93,-3.52 14.92,-3.34 C18.06,-2.99 19.48,-1.41 19.48,0 C19.48,1.41 18.06,2.99 14.92,3.34 C10.93,3.52 7.37,1.76 5.23,0 Z" fill="#5fac35"/><path d="M5.23,0 L17.92,0" stroke="#a5e070" stroke-width="0.5" opacity="0.5"/></g>
<g transform="translate(75.5,426.5) rotate(1277.29)"><path d="M0,0 L6.04,0" stroke="#5aa233" stroke-width="1.04" stroke-linecap="round"/><path d="M5.04,0 C7.13,-1.74 10.61,-3.48 14.51,-3.31 C17.57,-2.96 18.96,-1.39 18.96,0 C18.96,1.39 17.57,2.96 14.51,3.31 C10.61,3.48 7.13,1.74 5.04,0 Z" fill="#68b83a"/><path d="M5.04,0 L17.44,0" stroke="#a5e070" stroke-width="0.5" opacity="0.5"/></g>
<g transform="translate(75.5,426.5) rotate(1410.04)"><path d="M0,0 L5.72,0" stroke="#5aa233" stroke-width="0.87" stroke-linecap="round"/><path d="M4.72,0 C6.69,-1.46 9.96,-2.92 13.63,-2.77 C16.51,-2.48 17.82,-1.17 17.82,0 C17.82,1.17 16.51,2.48 13.63,2.77 C9.96,2.92 6.69,1.46 4.72,0 Z" fill="#5fac35"/><path d="M4.72,0 L16.39,0" stroke="#a5e070" stroke-width="0.5" opacity="0.5"/></g>
<g transform="translate(75.5,426.5) rotate(1150.35)"><path d="M0,0 L6.87,0" stroke="#5aa233" stroke-width="0.85" stroke-linecap="round"/><path d="M5.87,0 C7.54,-1.42 10.33,-2.84 13.45,-2.7 C15.91,-2.42 17.02,-1.14 17.02,0 C17.02,1.14 15.91,2.42 13.45,2.7 C10.33,2.84 7.54,1.42 5.87,0 Z" fill="#72be3f"/><path d="M5.87,0 L15.66,0" stroke="#a5e070" stroke-width="0.5" opacity="0.5"/></g>
<g transform="translate(75.5,426.5) rotate(1553.55)"><path d="M0,0 L5.96,0" stroke="#5aa233" stroke-width="0.8" stroke-linecap="round"/><path d="M4.96,0 C6.36,-1.26 8.7,-2.53 11.32,-2.4 C13.37,-2.15 14.31,-1.01 14.31,0 C14.31,1.01 13.37,2.15 11.32,2.4 C8.7,2.53 6.36,1.26 4.96,0 Z" fill="#5fac35"/><path d="M4.96,0 L13.16,0" stroke="#a5e070" stroke-width="0.5" opacity="0.5"/></g>
<g transform="translate(75.5,426.5) rotate(1701.04)"><path d="M0,0 L6.07,0" stroke="#5aa233" stroke-width="0.8" stroke-linecap="round"/><path d="M5.07,0 C6.45,-1.1 8.75,-2.2 11.32,-2.09 C13.34,-1.87 14.26,-0.88 14.26,0 C14.26,0.88 13.34,1.87 11.32,2.09 C8.75,2.2 6.45,1.1 5.07,0 Z" fill="#7fc948"/><path d="M5.07,0 L13.12,0" stroke="#a5e070" stroke-width="0.5" opacity="0.5"/></g>
<g transform="translate(75.5,426.5) rotate(1838.93)"><path d="M0,0 L4.69,0" stroke="#5aa233" stroke-width="0.8" stroke-linecap="round"/><path d="M3.69,0 C4.94,-0.86 7.03,-1.73 9.37,-1.64 C11.21,-1.47 12.05,-0.69 12.05,0 C12.05,0.69 11.21,1.47 9.37,1.64 C7.03,1.73 4.94,0.86 3.69,0 Z" fill="#5fac35"/><path d="M3.69,0 L11.08,0" stroke="#a5e070" stroke-width="0.5" opacity="0.5"/></g>
<circle cx="75.5" cy="426.5" r="1.6" fill="#7fc948"/>
<g transform="translate(65.5,411.5) rotate(178.41)"><path d="M0,0 L9.1,0" stroke="#5aa233" stroke-width="0.92" stroke-linecap="round"/><path d="M8.1,0 C10.1,-1.54 13.43,-3.08 17.16,-2.93 C20.1,-2.62 21.43,-1.23 21.43,0 C21.43,1.23 20.1,2.62 17.16,2.93 C13.43,3.08 10.1,1.54 8.1,0 Z" fill="#7fc948"/><path d="M8.1,0 L19.72,0" stroke="#a5e070" stroke-width="0.5" opacity="0.5"/></g>
<g transform="translate(65.5,411.5) rotate(459.61)"><path d="M0,0 L7.6,0" stroke="#5aa233" stroke-width="0.97" stroke-linecap="round"/><path d="M6.6,0 C8.49,-1.61 11.63,-3.22 15.15,-3.06 C17.91,-2.74 19.17,-1.29 19.17,0 C19.17,1.29 17.91,2.74 15.15,3.06 C11.63,3.22 8.49,1.61 6.6,0 Z" fill="#86ce4e"/><path d="M6.6,0 L17.63,0" stroke="#a5e070" stroke-width="0.5" opacity="0.5"/></g>
<g transform="translate(65.5,411.5) rotate(312.26)"><path d="M0,0 L7.36,0" stroke="#5aa233" stroke-width="0.96" stroke-linecap="round"/><path d="M6.36,0 C8.19,-1.6 11.26,-3.21 14.69,-3.05 C17.39,-2.73 18.61,-1.28 18.61,0 C18.61,1.28 17.39,2.73 14.69,3.05 C11.26,3.21 8.19,1.6 6.36,0 Z" fill="#569f30"/><path d="M6.36,0 L17.12,0" stroke="#a5e070" stroke-width="0.5" opacity="0.5"/></g>
<g transform="translate(65.5,411.5) rotate(593.95)"><path d="M0,0 L7.05,0" stroke="#5aa233" stroke-width="0.96" stroke-linecap="round"/><path d="M6.05,0 C7.83,-1.6 10.81,-3.21 14.14,-3.05 C16.76,-2.73 17.95,-1.28 17.95,0 C17.95,1.28 16.76,2.73 14.14,3.05 C10.81,3.21 7.83,1.6 6.05,0 Z" fill="#93d65a"/><path d="M6.05,0 L16.51,0" stroke="#a5e070" stroke-width="0.5" opacity="0.5"/></g>
<g transform="translate(65.5,411.5) rotate(730.02)"><path d="M0,0 L6.02,0" stroke="#5aa233" stroke-width="0.8" stroke-linecap="round"/><path d="M5.02,0 C6.85,-1.3 9.9,-2.6 13.31,-2.47 C16,-2.21 17.22,-1.04 17.22,0 C17.22,1.04 16,2.21 13.31,2.47 C9.9,2.6 6.85,1.3 5.02,0 Z" fill="#569f30"/><path d="M5.02,0 L15.84,0" stroke="#a5e070" stroke-width="0.5" opacity="0.5"/></g>
<g transform="translate(65.5,411.5) rotate(1008.04)"><path d="M0,0 L5.91,0" stroke="#5aa233" stroke-width="0.91" stroke-linecap="round"/><path d="M4.91,0 C6.64,-1.52 9.53,-3.03 12.76,-2.88 C15.29,-2.58 16.45,-1.21 16.45,0 C16.45,1.21 15.29,2.58 12.76,2.88 C9.53,3.03 6.64,1.52 4.91,0 Z" fill="#68b83a"/><path d="M4.91,0 L15.13,0" stroke="#a5e070" stroke-width="0.5" opacity="0.5"/></g>
<g transform="translate(65.5,411.5) rotate(872.74)"><path d="M0,0 L6.7,0" stroke="#5aa233" stroke-width="0.8" stroke-linecap="round"/><path d="M5.7,0 C7.13,-1.28 9.52,-2.56 12.2,-2.43 C14.31,-2.18 15.26,-1.02 15.26,0 C15.26,1.02 14.31,2.18 12.2,2.43 C9.52,2.56 7.13,1.28 5.7,0 Z" fill="#72be3f"/><path d="M5.7,0 L14.04,0" stroke="#a5e070" stroke-width="0.5" opacity="0.5"/></g>
<g transform="translate(65.5,411.5) rotate(1125.9)"><path d="M0,0 L5.87,0" stroke="#5aa233" stroke-width="0.8" stroke-linecap="round"/><path d="M4.87,0 C6.12,-1.02 8.21,-2.04 10.55,-1.93 C12.39,-1.73 13.22,-0.81 13.22,0 C13.22,0.81 12.39,1.73 10.55,1.93 C8.21,2.04 6.12,1.02 4.87,0 Z" fill="#86ce4e"/><path d="M4.87,0 L12.16,0" stroke="#a5e070" stroke-width="0.5" opacity="0.5"/></g>
<g transform="translate(65.5,411.5) rotate(1272.63)"><path d="M0,0 L4.31,0" stroke="#5aa233" stroke-width="0.8" stroke-linecap="round"/><path d="M3.31,0 C4.56,-0.96 6.65,-1.92 8.98,-1.83 C10.82,-1.63 11.65,-0.77 11.65,0 C11.65,0.77 10.82,1.63 8.98,1.83 C6.65,1.92 4.56,0.96 3.31,0 Z" fill="#6cbb3c"/><path d="M3.31,0 L10.72,0" stroke="#a5e070" stroke-width="0.5" opacity="0.5"/></g>
<g transform="translate(65.5,411.5) rotate(1402.65)"><path d="M0,0 L4.71,0" stroke="#5aa233" stroke-width="0.8" stroke-linecap="round"/><path d="M3.71,0 C4.77,-0.99 6.55,-1.97 8.54,-1.88 C10.11,-1.68 10.82,-0.79 10.82,0 C10.82,0.79 10.11,1.68 8.54,1.88 C6.55,1.97 4.77,0.99 3.71,0 Z" fill="#9ad960"/><path d="M3.71,0 L9.95,0" stroke="#a5e070" stroke-width="0.5" opacity="0.5"/></g>
<circle cx="65.5" cy="411.5" r="1.6" fill="#7fc948"/>
<g transform="translate(78.5,425.5) rotate(58)"><path d="M0,0 L9.8,0" stroke="#5aa233" stroke-width="1.02" stroke-linecap="round"/><path d="M8.8,0 C10.78,-1.7 14.08,-3.4 17.78,-3.23 C20.68,-2.89 22,-1.36 22,0 C22,1.36 20.68,2.89 17.78,3.23 C14.08,3.4 10.78,1.7 8.8,0 Z" fill="#7fc948"/><path d="M8.8,0 L20.24,0" stroke="#a5e070" stroke-width="0.5" opacity="0.5"/><ellipse cx="16.72" cy="0" rx="3.43" ry="1.53" fill="#d9ead6" opacity="0.6"/></g>
<rect x="165.5" y="388.5" width="42" height="46" rx="2" fill="#17110f"/>
<rect x="165.5" y="388.5" width="42" height="46" rx="2" fill="#fff" filter="url(#soil)"/>
<g transform="translate(176.5,396.5) rotate(394.39)"><path d="M0,0 L7.3,0" stroke="#5aa233" stroke-width="1.04" stroke-linecap="round"/><path d="M6.3,0 C8.42,-1.74 11.95,-3.47 15.9,-3.3 C19.01,-2.95 20.42,-1.39 20.42,0 C20.42,1.39 19.01,2.95 15.9,3.3 C11.95,3.47 8.42,1.74 6.3,0 Z" fill="#5fac35"/><path d="M6.3,0 L18.79,0" stroke="#a5e070" stroke-width="0.5" opacity="0.5"/></g>
<g transform="translate(176.5,396.5) rotate(249.6)"><path d="M0,0 L6.71,0" stroke="#5aa233" stroke-width="0.94" stroke-linecap="round"/><path d="M5.71,0 C7.82,-1.56 11.33,-3.12 15.26,-2.97 C18.34,-2.65 19.75,-1.25 19.75,0 C19.75,1.25 18.34,2.65 15.26,2.97 C11.33,3.12 7.82,1.56 5.71,0 Z" fill="#6cbb3c"/><path d="M5.71,0 L18.17,0" stroke="#a5e070" stroke-width="0.5" opacity="0.5"/></g>
<g transform="translate(176.5,396.5) rotate(536.85)"><path d="M0,0 L7.97,0" stroke="#5aa233" stroke-width="0.85" stroke-linecap="round"/><path d="M6.97,0 C8.85,-1.41 12,-2.82 15.52,-2.68 C18.29,-2.4 19.55,-1.13 19.55,0 C19.55,1.13 18.29,2.4 15.52,2.68 C12,2.82 8.85,1.41 6.97,0 Z" fill="#9ad960"/><path d="M6.97,0 L17.99,0" stroke="#a5e070" stroke-width="0.5" opacity="0.5"/></g>
<g transform="translate(176.5,396.5) rotate(810.94)"><path d="M0,0 L8.12,0" stroke="#5aa233" stroke-width="0.9" stroke-linecap="round"/><path d="M7.12,0 C8.93,-1.5 11.94,-3 15.32,-2.85 C17.97,-2.55 19.18,-1.2 19.18,0 C19.18,1.2 17.97,2.55 15.32,2.85 C11.94,3 8.93,1.5 7.12,0 Z" fill="#9ad960"/><path d="M7.12,0 L17.65,0" stroke="#a5e070" stroke-width="0.5" opacity="0.5"/></g>
<g transform="translate(176.5,396.5) rotate(935.13)"><path d="M0,0 L6.83,0" stroke="#5aa233" stroke-width="0.81" stroke-linecap="round"/><path d="M5.83,0 C7.53,-1.36 10.37,-2.71 13.55,-2.58 C16.05,-2.31 17.19,-1.09 17.19,0 C17.19,1.09 16.05,2.31 13.55,2.58 C10.37,2.71 7.53,1.36 5.83,0 Z" fill="#68b83a"/><path d="M5.83,0 L15.81,0" stroke="#a5e070" stroke-width="0.5" opacity="0.5"/></g>
<g transform="translate(176.5,396.5) rotate(681.73)"><path d="M0,0 L5.61,0" stroke="#5aa233" stroke-width="0.8" stroke-linecap="round"/><path d="M4.61,0 C6.48,-1.33 9.6,-2.66 13.09,-2.53 C15.83,-2.26 17.08,-1.06 17.08,0 C17.08,1.06 15.83,2.26 13.09,2.53 C9.6,2.66 6.48,1.33 4.61,0 Z" fill="#79c544"/><path d="M4.61,0 L15.72,0" stroke="#a5e070" stroke-width="0.5" opacity="0.5"/></g>
<g transform="translate(176.5,396.5) rotate(1081.42)"><path d="M0,0 L5.42,0" stroke="#5aa233" stroke-width="0.88" stroke-linecap="round"/><path d="M4.42,0 C6.13,-1.46 9,-2.93 12.21,-2.78 C14.73,-2.49 15.87,-1.17 15.87,0 C15.87,1.17 14.73,2.49 12.21,2.78 C9,2.93 6.13,1.46 4.42,0 Z" fill="#569f30"/><path d="M4.42,0 L14.6,0" stroke="#a5e070" stroke-width="0.5" opacity="0.5"/></g>
<g transform="translate(176.5,396.5) rotate(1230.93)"><path d="M0,0 L5.98,0" stroke="#5aa233" stroke-width="0.8" stroke-linecap="round"/><path d="M4.98,0 C6.32,-1.28 8.56,-2.56 11.06,-2.43 C13.02,-2.17 13.92,-1.02 13.92,0 C13.92,1.02 13.02,2.17 11.06,2.43 C8.56,2.56 6.32,1.28 4.98,0 Z" fill="#7fc948"/><path d="M4.98,0 L12.81,0" stroke="#a5e070" stroke-width="0.5" opacity="0.5"/></g>
<g transform="translate(176.5,396.5) rotate(1350.4)"><path d="M0,0 L5.47,0" stroke="#5aa233" stroke-width="0.8" stroke-linecap="round"/><path d="M4.47,0 C5.87,-0.97 8.2,-1.93 10.81,-1.84 C12.86,-1.64 13.79,-0.77 13.79,0 C13.79,0.77 12.86,1.64 10.81,1.84 C8.2,1.93 5.87,0.97 4.47,0 Z" fill="#9ad960"/><path d="M4.47,0 L12.69,0" stroke="#a5e070" stroke-width="0.5" opacity="0.5"/></g>
<g transform="translate(176.5,396.5) rotate(1487.32)"><path d="M0,0 L5.23,0" stroke="#5aa233" stroke-width="0.8" stroke-linecap="round"/><path d="M4.23,0 C5.59,-1.21 7.87,-2.42 10.43,-2.3 C12.44,-2.05 13.35,-0.97 13.35,0 C13.35,0.97 12.44,2.05 10.43,2.3 C7.87,2.42 5.59,1.21 4.23,0 Z" fill="#7fc948"/><path d="M4.23,0 L12.28,0" stroke="#a5e070" stroke-width="0.5" opacity="0.5"/></g>
<g transform="translate(176.5,396.5) rotate(1631.2)"><path d="M0,0 L4.54,0" stroke="#5aa233" stroke-width="0.8" stroke-linecap="round"/><path d="M3.54,0 C4.92,-0.98 7.21,-1.96 9.78,-1.86 C11.8,-1.66 12.72,-0.78 12.72,0 C12.72,0.78 11.8,1.66 9.78,1.86 C7.21,1.96 4.92,0.98 3.54,0 Z" fill="#93d65a"/><path d="M3.54,0 L11.7,0" stroke="#a5e070" stroke-width="0.5" opacity="0.5"/></g>
<circle cx="176.5" cy="396.5" r="1.6" fill="#7fc948"/>
<g transform="translate(197.5,396.5) rotate(50.16)"><path d="M0,0 L8.47,0" stroke="#5aa233" stroke-width="0.88" stroke-linecap="round"/><path d="M7.47,0 C9.49,-1.47 12.86,-2.94 16.63,-2.79 C19.59,-2.5 20.94,-1.18 20.94,0 C20.94,1.18 19.59,2.5 16.63,2.79 C12.86,2.94 9.49,1.47 7.47,0 Z" fill="#7fc948"/><path d="M7.47,0 L19.27,0" stroke="#a5e070" stroke-width="0.5" opacity="0.5"/></g>
<g transform="translate(197.5,396.5) rotate(320.61)"><path d="M0,0 L8,0" stroke="#5aa233" stroke-width="0.96" stroke-linecap="round"/><path d="M7,0 C9.02,-1.6 12.39,-3.2 16.17,-3.04 C19.14,-2.72 20.49,-1.28 20.49,0 C20.49,1.28 19.14,2.72 16.17,3.04 C12.39,3.2 9.02,1.6 7,0 Z" fill="#72be3f"/><path d="M7,0 L18.85,0" stroke="#a5e070" stroke-width="0.5" opacity="0.5"/></g>
<g transform="translate(197.5,396.5) rotate(200.12)"><path d="M0,0 L7.98,0" stroke="#5aa233" stroke-width="0.91" stroke-linecap="round"/><path d="M6.98,0 C9,-1.52 12.36,-3.03 16.13,-2.88 C19.09,-2.58 20.43,-1.21 20.43,0 C20.43,1.21 19.09,2.58 16.13,2.88 C12.36,3.03 9,1.52 6.98,0 Z" fill="#569f30"/><path d="M6.98,0 L18.8,0" stroke="#a5e070" stroke-width="0.5" opacity="0.5"/></g>
<g transform="translate(197.5,396.5) rotate(599.86)"><path d="M0,0 L7.1,0" stroke="#5aa233" stroke-width="0.89" stroke-linecap="round"/><path d="M6.1,0 C8.01,-1.49 11.19,-2.98 14.76,-2.83 C17.56,-2.53 18.83,-1.19 18.83,0 C18.83,1.19 17.56,2.53 14.76,2.83 C11.19,2.98 8.01,1.49 6.1,0 Z" fill="#9ad960"/><path d="M6.1,0 L17.33,0" stroke="#a5e070" stroke-width="0.5" opacity="0.5"/></g>
<g transform="translate(197.5,396.5) rotate(464.21)"><path d="M0,0 L7.34,0" stroke="#5aa233" stroke-width="0.84" stroke-linecap="round"/><path d="M6.34,0 C7.92,-1.4 10.55,-2.8 13.49,-2.66 C15.8,-2.38 16.85,-1.12 16.85,0 C16.85,1.12 15.8,2.38 13.49,2.66 C10.55,2.8 7.92,1.4 6.34,0 Z" fill="#79c544"/><path d="M6.34,0 L15.5,0" stroke="#a5e070" stroke-width="0.5" opacity="0.5"/></g>
<g transform="translate(197.5,396.5) rotate(731.53)"><path d="M0,0 L5.5,0" stroke="#5aa233" stroke-width="0.8" stroke-linecap="round"/><path d="M4.5,0 C6.2,-1.23 9.02,-2.47 12.18,-2.34 C14.66,-2.1 15.79,-0.99 15.79,0 C15.79,0.99 14.66,2.1 12.18,2.34 C9.02,2.47 6.2,1.23 4.5,0 Z" fill="#5fac35"/><path d="M4.5,0 L14.53,0" stroke="#a5e070" stroke-width="0.5" opacity="0.5"/></g>
<g transform="translate(197.5,396.5) rotate(1028.65)"><path d="M0,0 L6.56,0" stroke="#5aa233" stroke-width="0.8" stroke-linecap="round"/><path d="M5.56,0 C6.96,-1.15 9.3,-2.31 11.92,-2.19 C13.98,-1.96 14.92,-0.92 14.92,0 C14.92,0.92 13.98,1.96 11.92,2.19 C9.3,2.31 6.96,1.15 5.56,0 Z" fill="#7fc948"/><path d="M5.56,0 L13.72,0" stroke="#a5e070" stroke-width="0.5" opacity="0.5"/></g>
<g transform="translate(197.5,396.5) rotate(874.26)"><path d="M0,0 L4.9,0" stroke="#5aa233" stroke-width="0.8" stroke-linecap="round"/><path d="M3.9,0 C5.55,-1.11 8.3,-2.22 11.39,-2.11 C13.81,-1.88 14.91,-0.89 14.91,0 C14.91,0.89 13.81,1.88 11.39,2.11 C8.3,2.22 5.55,1.11 3.9,0 Z" fill="#93d65a"/><path d="M3.9,0 L13.72,0" stroke="#a5e070" stroke-width="0.5" opacity="0.5"/></g>
<g transform="translate(197.5,396.5) rotate(1148.51)"><path d="M0,0 L5,0" stroke="#5aa233" stroke-width="0.8" stroke-linecap="round"/><path d="M4,0 C5.53,-1.23 8.1,-2.46 10.96,-2.34 C13.22,-2.09 14.24,-0.98 14.24,0 C14.24,0.98 13.22,2.09 10.96,2.34 C8.1,2.46 5.53,1.23 4,0 Z" fill="#93d65a"/><path d="M4,0 L13.1,0" stroke="#a5e070" stroke-width="0.5" opacity="0.5"/></g>
<g transform="translate(197.5,396.5) rotate(1295.31)"><path d="M0,0 L5.51,0" stroke="#5aa233" stroke-width="0.8" stroke-linecap="round"/><path d="M4.51,0 C5.86,-1.14 8.12,-2.29 10.65,-2.17 C12.64,-1.94 13.54,-0.92 13.54,0 C13.54,0.92 12.64,1.94 10.65,2.17 C8.12,2.29 5.86,1.14 4.51,0 Z" fill="#72be3f"/><path d="M4.51,0 L12.46,0" stroke="#a5e070" stroke-width="0.5" opacity="0.5"/></g>
<g transform="translate(197.5,396.5) rotate(1418.75)"><path d="M0,0 L4.85,0" stroke="#5aa233" stroke-width="0.8" stroke-linecap="round"/><path d="M3.85,0 C4.98,-0.92 6.87,-1.84 8.98,-1.75 C10.64,-1.56 11.39,-0.74 11.39,0 C11.39,0.74 10.64,1.56 8.98,1.75 C6.87,1.84 4.98,0.92 3.85,0 Z" fill="#5fac35"/><path d="M3.85,0 L10.48,0" stroke="#a5e070" stroke-width="0.5" opacity="0.5"/></g>
<circle cx="197.5" cy="396.5" r="1.6" fill="#7fc948"/>
<g transform="translate(175.5,424.5) rotate(188.59)"><path d="M0,0 L10.05,0" stroke="#5aa233" stroke-width="1.25" stroke-linecap="round"/><path d="M9.05,0 C11.47,-2.08 15.5,-4.15 20.02,-3.95 C23.57,-3.53 25.18,-1.66 25.18,0 C25.18,1.66 23.57,3.53 20.02,3.95 C15.5,4.15 11.47,2.08 9.05,0 Z" fill="#5fac35"/><path d="M9.05,0 L23.17,0" stroke="#a5e070" stroke-width="0.5" opacity="0.5"/></g>
<g transform="translate(175.5,424.5) rotate(68.47)"><path d="M0,0 L8.45,0" stroke="#5aa233" stroke-width="1.26" stroke-linecap="round"/><path d="M7.45,0 C9.83,-2.1 13.81,-4.2 18.27,-3.99 C21.77,-3.57 23.36,-1.68 23.36,0 C23.36,1.68 21.77,3.57 18.27,3.99 C13.81,4.2 9.83,2.1 7.45,0 Z" fill="#569f30"/><path d="M7.45,0 L21.49,0" stroke="#a5e070" stroke-width="0.5" opacity="0.5"/></g>
<g transform="translate(175.5,424.5) rotate(339.74)"><path d="M0,0 L7.12,0" stroke="#5aa233" stroke-width="1.24" stroke-linecap="round"/><path d="M6.12,0 C8.66,-2.07 12.9,-4.15 17.66,-3.94 C21.39,-3.53 23.09,-1.66 23.09,0 C23.09,1.66 21.39,3.53 17.66,3.94 C12.9,4.15 8.66,2.07 6.12,0 Z" fill="#72be3f"/><path d="M6.12,0 L21.24,0" stroke="#a5e070" stroke-width="0.5" opacity="0.5"/></g>
<g transform="translate(175.5,424.5) rotate(600.41)"><path d="M0,0 L6.87,0" stroke="#5aa233" stroke-width="1.09" stroke-linecap="round"/><path d="M5.87,0 C8.08,-1.82 11.76,-3.64 15.89,-3.46 C19.13,-3.09 20.6,-1.46 20.6,0 C20.6,1.46 19.13,3.09 15.89,3.46 C11.76,3.64 8.08,1.82 5.87,0 Z" fill="#7fc948"/><path d="M5.87,0 L18.95,0" stroke="#a5e070" stroke-width="0.5" opacity="0.5"/></g>
<g transform="translate(175.5,424.5) rotate(881.28)"><path d="M0,0 L7.34,0" stroke="#5aa233" stroke-width="0.81" stroke-linecap="round"/><path d="M6.34,0 C8.27,-1.35 11.48,-2.71 15.08,-2.57 C17.9,-2.3 19.19,-1.08 19.19,0 C19.19,1.08 17.9,2.3 15.08,2.57 C11.48,2.71 8.27,1.35 6.34,0 Z" fill="#93d65a"/><path d="M6.34,0 L17.65,0" stroke="#a5e070" stroke-width="0.5" opacity="0.5"/></g>
<g transform="translate(175.5,424.5) rotate(467.33)"><path d="M0,0 L7.63,0" stroke="#5aa233" stroke-width="0.9" stroke-linecap="round"/><path d="M6.63,0 C8.49,-1.51 11.6,-3.01 15.07,-2.86 C17.8,-2.56 19.04,-1.21 19.04,0 C19.04,1.21 17.8,2.56 15.07,2.86 C11.6,3.01 8.49,1.51 6.63,0 Z" fill="#72be3f"/><path d="M6.63,0 L17.52,0" stroke="#a5e070" stroke-width="0.5" opacity="0.5"/></g>
<g transform="translate(175.5,424.5) rotate(742.32)"><path d="M0,0 L7.79,0" stroke="#5aa233" stroke-width="0.8" stroke-linecap="round"/><path d="M6.79,0 C8.46,-1.26 11.24,-2.53 14.35,-2.4 C16.8,-2.15 17.91,-1.01 17.91,0 C17.91,1.01 16.8,2.15 14.35,2.4 C11.24,2.53 8.46,1.26 6.79,0 Z" fill="#569f30"/><path d="M6.79,0 L16.48,0" stroke="#a5e070" stroke-width="0.5" opacity="0.5"/></g>
<g transform="translate(175.5,424.5) rotate(1168.4)"><path d="M0,0 L5.74,0" stroke="#5aa233" stroke-width="0.93" stroke-linecap="round"/><path d="M4.74,0 C6.59,-1.54 9.69,-3.08 13.15,-2.93 C15.87,-2.62 17.1,-1.23 17.1,0 C17.1,1.23 15.87,2.62 13.15,2.93 C9.69,3.08 6.59,1.54 4.74,0 Z" fill="#5fac35"/><path d="M4.74,0 L15.74,0" stroke="#a5e070" stroke-width="0.5" opacity="0.5"/></g>
<g transform="translate(175.5,424.5) rotate(1024.6)"><path d="M0,0 L5.35,0" stroke="#5aa233" stroke-width="0.8" stroke-linecap="round"/><path d="M4.35,0 C6.21,-1.21 9.3,-2.42 12.76,-2.3 C15.48,-2.06 16.72,-0.97 16.72,0 C16.72,0.97 15.48,2.06 12.76,2.3 C9.3,2.42 6.21,1.21 4.35,0 Z" fill="#68b83a"/><path d="M4.35,0 L15.38,0" stroke="#a5e070" stroke-width="0.5" opacity="0.5"/></g>
<g transform="translate(175.5,424.5) rotate(1431.31)"><path d="M0,0 L5.51,0" stroke="#5aa233" stroke-width="0.8" stroke-linecap="round"/><path d="M4.51,0 C6.13,-1.33 8.81,-2.67 11.82,-2.53 C14.19,-2.27 15.27,-1.07 15.27,0 C15.27,1.07 14.19,2.27 11.82,2.53 C8.81,2.67 6.13,1.33 4.51,0 Z" fill="#9ad960"/><path d="M4.51,0 L14.04,0" stroke="#a5e070" stroke-width="0.5" opacity="0.5"/></g>
<g transform="translate(175.5,424.5) rotate(1295.97)"><path d="M0,0 L5.12,0" stroke="#5aa233" stroke-width="0.8" stroke-linecap="round"/><path d="M4.12,0 C5.68,-1.1 8.29,-2.19 11.2,-2.08 C13.49,-1.86 14.53,-0.88 14.53,0 C14.53,0.88 13.49,1.86 11.2,2.08 C8.29,2.19 5.68,1.1 4.12,0 Z" fill="#7fc948"/><path d="M4.12,0 L13.37,0" stroke="#a5e070" stroke-width="0.5" opacity="0.5"/></g>
<g transform="translate(175.5,424.5) rotate(1576.66)"><path d="M0,0 L6.02,0" stroke="#5aa233" stroke-width="0.8" stroke-linecap="round"/><path d="M5.02,0 C6.33,-1.04 8.52,-2.08 10.97,-1.98 C12.89,-1.77 13.77,-0.83 13.77,0 C13.77,0.83 12.89,1.77 10.97,1.98 C8.52,2.08 6.33,1.04 5.02,0 Z" fill="#569f30"/><path d="M5.02,0 L12.67,0" stroke="#a5e070" stroke-width="0.5" opacity="0.5"/></g>
<circle cx="175.5" cy="424.5" r="1.6" fill="#7fc948"/>
<g transform="translate(196.5,425.5) rotate(205.56)"><path d="M0,0 L8.34,0" stroke="#5aa233" stroke-width="1.02" stroke-linecap="round"/><path d="M7.34,0 C9.85,-1.7 14.05,-3.41 18.74,-3.24 C22.44,-2.89 24.11,-1.36 24.11,0 C24.11,1.36 22.44,2.89 18.74,3.24 C14.05,3.41 9.85,1.7 7.34,0 Z" fill="#6cbb3c"/><path d="M7.34,0 L22.18,0" stroke="#a5e070" stroke-width="0.5" opacity="0.5"/></g>
<g transform="translate(196.5,425.5) rotate(470.7)"><path d="M0,0 L9,0" stroke="#5aa233" stroke-width="1.07" stroke-linecap="round"/><path d="M8,0 C10.13,-1.78 13.67,-3.55 17.63,-3.37 C20.75,-3.02 22.17,-1.42 22.17,0 C22.17,1.42 20.75,3.02 17.63,3.37 C13.67,3.55 10.13,1.78 8,0 Z" fill="#569f30"/><path d="M8,0 L20.39,0" stroke="#a5e070" stroke-width="0.5" opacity="0.5"/></g>
<g transform="translate(196.5,425.5) rotate(739.71)"><path d="M0,0 L6.65,0" stroke="#5aa233" stroke-width="1.1" stroke-linecap="round"/><path d="M5.65,0 C7.98,-1.83 11.86,-3.66 16.2,-3.48 C19.62,-3.11 21.17,-1.47 21.17,0 C21.17,1.47 19.62,3.11 16.2,3.48 C11.86,3.66 7.98,1.83 5.65,0 Z" fill="#72be3f"/><path d="M5.65,0 L19.47,0" stroke="#a5e070" stroke-width="0.5" opacity="0.5"/></g>
<g transform="translate(196.5,425.5) rotate(346.69)"><path d="M0,0 L6.49,0" stroke="#5aa233" stroke-width="0.96" stroke-linecap="round"/><path d="M5.49,0 C7.75,-1.59 11.51,-3.18 15.72,-3.02 C19.03,-2.71 20.54,-1.27 20.54,0 C20.54,1.27 19.03,2.71 15.72,3.02 C11.51,3.18 7.75,1.59 5.49,0 Z" fill="#5fac35"/><path d="M5.49,0 L18.9,0" stroke="#a5e070" stroke-width="0.5" opacity="0.5"/></g>
<g transform="translate(196.5,425.5) rotate(616.95)"><path d="M0,0 L7.43,0" stroke="#5aa233" stroke-width="0.86" stroke-linecap="round"/><path d="M6.43,0 C8.31,-1.44 11.45,-2.88 14.96,-2.73 C17.72,-2.44 18.98,-1.15 18.98,0 C18.98,1.15 17.72,2.44 14.96,2.73 C11.45,2.88 8.31,1.44 6.43,0 Z" fill="#9ad960"/><path d="M6.43,0 L17.46,0" stroke="#a5e070" stroke-width="0.5" opacity="0.5"/></g>
<g transform="translate(196.5,425.5) rotate(1305.24)"><path d="M0,0 L8.13,0" stroke="#5aa233" stroke-width="0.81" stroke-linecap="round"/><path d="M7.13,0 C8.87,-1.36 11.79,-2.72 15.05,-2.58 C17.61,-2.31 18.78,-1.09 18.78,0 C18.78,1.09 17.61,2.31 15.05,2.58 C11.79,2.72 8.87,1.36 7.13,0 Z" fill="#68b83a"/><path d="M7.13,0 L17.27,0" stroke="#a5e070" stroke-width="0.5" opacity="0.5"/></g>
<g transform="translate(196.5,425.5) rotate(1026.49)"><path d="M0,0 L6.99,0" stroke="#5aa233" stroke-width="0.97" stroke-linecap="round"/><path d="M5.99,0 C7.8,-1.61 10.83,-3.22 14.21,-3.06 C16.87,-2.74 18.08,-1.29 18.08,0 C18.08,1.29 16.87,2.74 14.21,3.06 C10.83,3.22 7.8,1.61 5.99,0 Z" fill="#569f30"/><path d="M5.99,0 L16.63,0" stroke="#a5e070" stroke-width="0.5" opacity="0.5"/></g>
<g transform="translate(196.5,425.5) rotate(885.71)"><path d="M0,0 L6.7,0" stroke="#5aa233" stroke-width="0.97" stroke-linecap="round"/><path d="M5.7,0 C7.53,-1.61 10.57,-3.22 13.98,-3.06 C16.67,-2.74 17.88,-1.29 17.88,0 C17.88,1.29 16.67,2.74 13.98,3.06 C10.57,3.22 7.53,1.61 5.7,0 Z" fill="#7fc948"/><path d="M5.7,0 L16.45,0" stroke="#a5e070" stroke-width="0.5" opacity="0.5"/></g>
<g transform="translate(196.5,425.5) rotate(1167.6)"><path d="M0,0 L7.34,0" stroke="#5aa233" stroke-width="0.8" stroke-linecap="round"/><path d="M6.34,0 C7.92,-1.23 10.55,-2.46 13.51,-2.34 C15.83,-2.09 16.88,-0.98 16.88,0 C16.88,0.98 15.83,2.09 13.51,2.34 C10.55,2.46 7.92,1.23 6.34,0 Z" fill="#6cbb3c"/><path d="M6.34,0 L15.53,0" stroke="#a5e070" stroke-width="0.5" opacity="0.5"/></g>
<g transform="translate(196.5,425.5) rotate(1439.51)"><path d="M0,0 L6.15,0" stroke="#5aa233" stroke-width="0.81" stroke-linecap="round"/><path d="M5.15,0 C6.86,-1.35 9.7,-2.7 12.88,-2.56 C15.39,-2.29 16.52,-1.08 16.52,0 C16.52,1.08 15.39,2.29 12.88,2.56 C9.7,2.7 6.86,1.35 5.15,0 Z" fill="#93d65a"/><path d="M5.15,0 L15.2,0" stroke="#a5e070" stroke-width="0.5" opacity="0.5"/></g>
<g transform="translate(196.5,425.5) rotate(1565.41)"><path d="M0,0 L6.29,0" stroke="#5aa233" stroke-width="0.8" stroke-linecap="round"/><path d="M5.29,0 C6.85,-1.28 9.46,-2.55 12.38,-2.42 C14.68,-2.17 15.72,-1.02 15.72,0 C15.72,1.02 14.68,2.17 12.38,2.42 C9.46,2.55 6.85,1.28 5.29,0 Z" fill="#68b83a"/><path d="M5.29,0 L14.47,0" stroke="#a5e070" stroke-width="0.5" opacity="0.5"/></g>
<g transform="translate(196.5,425.5) rotate(1700.47)"><path d="M0,0 L5.03,0" stroke="#5aa233" stroke-width="0.8" stroke-linecap="round"/><path d="M4.03,0 C5.61,-1.32 8.24,-2.64 11.19,-2.51 C13.51,-2.25 14.56,-1.06 14.56,0 C14.56,1.06 13.51,2.25 11.19,2.51 C8.24,2.64 5.61,1.32 4.03,0 Z" fill="#93d65a"/><path d="M4.03,0 L13.39,0" stroke="#a5e070" stroke-width="0.5" opacity="0.5"/></g>
<circle cx="196.5" cy="425.5" r="1.6" fill="#7fc948"/>
<g transform="translate(186.5,410.5) rotate(143.31)"><path d="M0,0 L7.49,0" stroke="#5aa233" stroke-width="1.03" stroke-linecap="round"/><path d="M6.49,0 C8.51,-1.72 11.88,-3.44 15.66,-3.27 C18.63,-2.93 19.98,-1.38 19.98,0 C19.98,1.38 18.63,2.93 15.66,3.27 C11.88,3.44 8.51,1.72 6.49,0 Z" fill="#569f30"/><path d="M6.49,0 L18.38,0" stroke="#a5e070" stroke-width="0.5" opacity="0.5"/></g>
<g transform="translate(186.5,410.5) rotate(428.11)"><path d="M0,0 L7.96,0" stroke="#5aa233" stroke-width="1.05" stroke-linecap="round"/><path d="M6.96,0 C8.86,-1.75 12.04,-3.5 15.6,-3.33 C18.4,-2.98 19.67,-1.4 19.67,0 C19.67,1.4 18.4,2.98 15.6,3.33 C12.04,3.5 8.86,1.75 6.96,0 Z" fill="#79c544"/><path d="M6.96,0 L18.1,0" stroke="#a5e070" stroke-width="0.5" opacity="0.5"/></g>
<g transform="translate(186.5,410.5) rotate(563.75)"><path d="M0,0 L7.28,0" stroke="#5aa233" stroke-width="0.99" stroke-linecap="round"/><path d="M6.28,0 C8.17,-1.64 11.33,-3.28 14.87,-3.12 C17.65,-2.79 18.91,-1.31 18.91,0 C18.91,1.31 17.65,2.79 14.87,3.12 C11.33,3.28 8.17,1.64 6.28,0 Z" fill="#569f30"/><path d="M6.28,0 L17.4,0" stroke="#a5e070" stroke-width="0.5" opacity="0.5"/></g>
<g transform="translate(186.5,410.5) rotate(284.23)"><path d="M0,0 L6.32,0" stroke="#5aa233" stroke-width="0.83" stroke-linecap="round"/><path d="M5.32,0 C7.28,-1.38 10.54,-2.77 14.2,-2.63 C17.07,-2.35 18.38,-1.11 18.38,0 C18.38,1.11 17.07,2.35 14.2,2.63 C10.54,2.77 7.28,1.38 5.32,0 Z" fill="#79c544"/><path d="M5.32,0 L16.91,0" stroke="#a5e070" stroke-width="0.5" opacity="0.5"/></g>
<g transform="translate(186.5,410.5) rotate(826.66)"><path d="M0,0 L6.4,0" stroke="#5aa233" stroke-width="0.8" stroke-linecap="round"/><path d="M5.4,0 C7.05,-1.26 9.8,-2.52 12.89,-2.39 C15.31,-2.14 16.41,-1.01 16.41,0 C16.41,1.01 15.31,2.14 12.89,2.39 C9.8,2.52 7.05,1.26 5.4,0 Z" fill="#5fac35"/><path d="M5.4,0 L15.09,0" stroke="#a5e070" stroke-width="0.5" opacity="0.5"/></g>
<g transform="translate(186.5,410.5) rotate(690.93)"><path d="M0,0 L6.21,0" stroke="#5aa233" stroke-width="0.8" stroke-linecap="round"/><path d="M5.21,0 C6.7,-1.06 9.18,-2.13 11.96,-2.02 C14.15,-1.81 15.14,-0.85 15.14,0 C15.14,0.85 14.15,1.81 11.96,2.02 C9.18,2.13 6.7,1.06 5.21,0 Z" fill="#6cbb3c"/><path d="M5.21,0 L13.93,0" stroke="#a5e070" stroke-width="0.5" opacity="0.5"/></g>
<g transform="translate(186.5,410.5) rotate(980.81)"><path d="M0,0 L5.51,0" stroke="#5aa233" stroke-width="0.8" stroke-linecap="round"/><path d="M4.51,0 C6.04,-1.09 8.57,-2.19 11.41,-2.08 C13.64,-1.86 14.66,-0.87 14.66,0 C14.66,0.87 13.64,1.86 11.41,2.08 C8.57,2.19 6.04,1.09 4.51,0 Z" fill="#68b83a"/><path d="M4.51,0 L13.49,0" stroke="#a5e070" stroke-width="0.5" opacity="0.5"/></g>
<g transform="translate(186.5,410.5) rotate(1095.41)"><path d="M0,0 L5.54,0" stroke="#5aa233" stroke-width="0.8" stroke-linecap="round"/><path d="M4.54,0 C5.76,-0.93 7.81,-1.87 10.1,-1.77 C11.89,-1.59 12.71,-0.75 12.71,0 C12.71,0.75 11.89,1.59 10.1,1.77 C7.81,1.87 5.76,0.93 4.54,0 Z" fill="#93d65a"/><path d="M4.54,0 L11.69,0" stroke="#a5e070" stroke-width="0.5" opacity="0.5"/></g>
<g transform="translate(186.5,410.5) rotate(1245.88)"><path d="M0,0 L5.29,0" stroke="#5aa233" stroke-width="0.8" stroke-linecap="round"/><path d="M4.29,0 C5.4,-0.99 7.26,-1.98 9.34,-1.88 C10.97,-1.68 11.72,-0.79 11.72,0 C11.72,0.79 10.97,1.68 9.34,1.88 C7.26,1.98 5.4,0.99 4.29,0 Z" fill="#93d65a"/><path d="M4.29,0 L10.78,0" stroke="#a5e070" stroke-width="0.5" opacity="0.5"/></g>
<g transform="translate(186.5,410.5) rotate(1385.24)"><path d="M0,0 L3.73,0" stroke="#5aa233" stroke-width="0.8" stroke-linecap="round"/><path d="M2.73,0 C3.87,-0.85 5.77,-1.7 7.9,-1.61 C9.57,-1.44 10.33,-0.68 10.33,0 C10.33,0.68 9.57,1.44 7.9,1.61 C5.77,1.7 3.87,0.85 2.73,0 Z" fill="#5fac35"/><path d="M2.73,0 L9.5,0" stroke="#a5e070" stroke-width="0.5" opacity="0.5"/></g>
<circle cx="186.5" cy="410.5" r="1.6" fill="#7fc948"/>
<g transform="translate(199.5,424.5) rotate(58)"><path d="M0,0 L9.8,0" stroke="#5aa233" stroke-width="1.02" stroke-linecap="round"/><path d="M8.8,0 C10.78,-1.7 14.08,-3.4 17.78,-3.23 C20.68,-2.89 22,-1.36 22,0 C22,1.36 20.68,2.89 17.78,3.23 C14.08,3.4 10.78,1.7 8.8,0 Z" fill="#7fc948"/><path d="M8.8,0 L20.24,0" stroke="#a5e070" stroke-width="0.5" opacity="0.5"/><ellipse cx="16.72" cy="0" rx="3.43" ry="1.53" fill="#d9ead6" opacity="0.6"/></g>
<path d="M77.4,381.4 l4.2,-0.8 l0.6,3 l-2.4,2.4 l-2,-1.4 Z" fill="#e8445c"/>
<path d="M194.4,382 l4.4,-1 l-0.6,3.4 l-3,1.4 Z" fill="#e8445c"/>
<rect x="265" y="389.5" width="52" height="55" rx="2" fill="#17110e"/>
<rect x="265" y="389.5" width="52" height="55" rx="2" fill="#fff" filter="url(#soil)"/>
<rect x="265.5" y="390" width="51" height="54" rx="2" fill="none" stroke="#2c2c2c" stroke-width="0.7"/>
<rect x="274.8" y="371.5" width="8" height="14" fill="#a9b8b8" transform="rotate(-6 278.8 378.5)"/>
<rect x="276" y="374.5" width="5.4" height="6" fill="#c3d0ce" transform="rotate(-6 278.8 378.5)"/>
<g transform="translate(294.4,393) rotate(349.64)"><path d="M0,0 L7.54,0" stroke="#5aa233" stroke-width="0.95" stroke-linecap="round"/><path d="M6.54,0 C8.5,-1.58 11.78,-3.16 15.45,-3 C18.33,-2.68 19.64,-1.26 19.64,0 C19.64,1.26 18.33,2.68 15.45,3 C11.78,3.16 8.5,1.58 6.54,0 Z" fill="#86ce4e"/><path d="M6.54,0 L18.07,0" stroke="#a5e070" stroke-width="0.5" opacity="0.5"/></g>
<g transform="translate(294.4,393) rotate(209.16)"><path d="M0,0 L7.9,0" stroke="#5aa233" stroke-width="1.02" stroke-linecap="round"/><path d="M6.9,0 C8.63,-1.71 11.52,-3.41 14.76,-3.24 C17.31,-2.9 18.46,-1.37 18.46,0 C18.46,1.37 17.31,2.9 14.76,3.24 C11.52,3.41 8.63,1.71 6.9,0 Z" fill="#6cbb3c"/><path d="M6.9,0 L16.99,0" stroke="#a5e070" stroke-width="0.5" opacity="0.5"/></g>
<g transform="translate(294.4,393) rotate(92.71)"><path d="M0,0 L7.35,0" stroke="#5aa233" stroke-width="0.95" stroke-linecap="round"/><path d="M6.35,0 C8.17,-1.58 11.2,-3.17 14.59,-3.01 C17.25,-2.69 18.46,-1.27 18.46,0 C18.46,1.27 17.25,2.69 14.59,3.01 C11.2,3.17 8.17,1.58 6.35,0 Z" fill="#7fc948"/><path d="M6.35,0 L16.98,0" stroke="#a5e070" stroke-width="0.5" opacity="0.5"/></g>
<g transform="translate(294.4,393) rotate(492.99)"><path d="M0,0 L7.84,0" stroke="#5aa233" stroke-width="0.82" stroke-linecap="round"/><path d="M6.84,0 C8.56,-1.36 11.42,-2.72 14.63,-2.58 C17.16,-2.31 18.3,-1.09 18.3,0 C18.3,1.09 17.16,2.31 14.63,2.58 C11.42,2.72 8.56,1.36 6.84,0 Z" fill="#86ce4e"/><path d="M6.84,0 L16.84,0" stroke="#a5e070" stroke-width="0.5" opacity="0.5"/></g>
<g transform="translate(294.4,393) rotate(1038.31)"><path d="M0,0 L6.34,0" stroke="#5aa233" stroke-width="0.8" stroke-linecap="round"/><path d="M5.34,0 C7.09,-1.21 10,-2.42 13.25,-2.3 C15.81,-2.06 16.97,-0.97 16.97,0 C16.97,0.97 15.81,2.06 13.25,2.3 C10,2.42 7.09,1.21 5.34,0 Z" fill="#9ad960"/><path d="M5.34,0 L15.62,0" stroke="#a5e070" stroke-width="0.5" opacity="0.5"/></g>
<g transform="translate(294.4,393) rotate(757.59)"><path d="M0,0 L6.83,0" stroke="#5aa233" stroke-width="0.8" stroke-linecap="round"/><path d="M5.83,0 C7.34,-1.26 9.87,-2.52 12.7,-2.4 C14.92,-2.14 15.93,-1.01 15.93,0 C15.93,1.01 14.92,2.14 12.7,2.4 C9.87,2.52 7.34,1.26 5.83,0 Z" fill="#9ad960"/><path d="M5.83,0 L14.65,0" stroke="#a5e070" stroke-width="0.5" opacity="0.5"/></g>
<g transform="translate(294.4,393) rotate(639.55)"><path d="M0,0 L6.2,0" stroke="#5aa233" stroke-width="0.8" stroke-linecap="round"/><path d="M5.2,0 C6.8,-1.2 9.47,-2.39 12.47,-2.27 C14.82,-2.03 15.89,-0.96 15.89,0 C15.89,0.96 14.82,2.03 12.47,2.27 C9.47,2.39 6.8,1.2 5.2,0 Z" fill="#72be3f"/><path d="M5.2,0 L14.62,0" stroke="#a5e070" stroke-width="0.5" opacity="0.5"/></g>
<g transform="translate(294.4,393) rotate(916.26)"><path d="M0,0 L5.31,0" stroke="#5aa233" stroke-width="0.8" stroke-linecap="round"/><path d="M4.31,0 C6,-1.13 8.83,-2.26 11.99,-2.15 C14.47,-1.92 15.6,-0.91 15.6,0 C15.6,0.91 14.47,1.92 11.99,2.15 C8.83,2.26 6,1.13 4.31,0 Z" fill="#5fac35"/><path d="M4.31,0 L14.35,0" stroke="#a5e070" stroke-width="0.5" opacity="0.5"/></g>
<g transform="translate(294.4,393) rotate(1184.5)"><path d="M0,0 L4.75,0" stroke="#5aa233" stroke-width="0.8" stroke-linecap="round"/><path d="M3.75,0 C5.26,-1.17 7.78,-2.34 10.59,-2.23 C12.81,-1.99 13.81,-0.94 13.81,0 C13.81,0.94 12.81,1.99 10.59,2.23 C7.78,2.34 5.26,1.17 3.75,0 Z" fill="#9ad960"/><path d="M3.75,0 L12.71,0" stroke="#a5e070" stroke-width="0.5" opacity="0.5"/></g>
<g transform="translate(294.4,393) rotate(1315.24)"><path d="M0,0 L5.73,0" stroke="#5aa233" stroke-width="0.8" stroke-linecap="round"/><path d="M4.73,0 C6.08,-1.11 8.33,-2.23 10.85,-2.12 C12.83,-1.89 13.73,-0.89 13.73,0 C13.73,0.89 12.83,1.89 10.85,2.12 C8.33,2.23 6.08,1.11 4.73,0 Z" fill="#93d65a"/><path d="M4.73,0 L12.63,0" stroke="#a5e070" stroke-width="0.5" opacity="0.5"/></g>
<g transform="translate(294.4,393) rotate(1460.21)"><path d="M0,0 L5.13,0" stroke="#5aa233" stroke-width="0.8" stroke-linecap="round"/><path d="M4.13,0 C5.44,-1.07 7.63,-2.14 10.09,-2.03 C12.01,-1.82 12.89,-0.86 12.89,0 C12.89,0.86 12.01,1.82 10.09,2.03 C7.63,2.14 5.44,1.07 4.13,0 Z" fill="#7fc948"/><path d="M4.13,0 L11.86,0" stroke="#a5e070" stroke-width="0.5" opacity="0.5"/></g>
<circle cx="294.4" cy="393" r="1.6" fill="#7fc948"/>
<g transform="translate(297,392.5) rotate(-4)"><path d="M0,0 L15.4,0" stroke="#5aa233" stroke-width="1.38" stroke-linecap="round"/><path d="M14.4,0 C17.04,-2.3 21.44,-4.6 26.37,-4.37 C30.24,-3.91 32,-1.84 32,0 C32,1.84 30.24,3.91 26.37,4.37 C21.44,4.6 17.04,2.3 14.4,0 Z" fill="#5cc23a"/><path d="M14.4,0 L29.44,0" stroke="#a5e070" stroke-width="0.5" opacity="0.5"/><ellipse cx="24.96" cy="0" rx="4.58" ry="2.07" fill="#d9ead6" opacity="0.6"/></g>
<g transform="translate(287.5,411) rotate(198.37)"><path d="M0,0 L6.35,0" stroke="#5aa233" stroke-width="0.8" stroke-linecap="round"/><path d="M5.35,0 C6.99,-1.33 9.72,-2.65 12.79,-2.52 C15.19,-2.25 16.29,-1.06 16.29,0 C16.29,1.06 15.19,2.25 12.79,2.52 C9.72,2.65 6.99,1.33 5.35,0 Z" fill="#86ce4e"/><path d="M5.35,0 L14.99,0" stroke="#a5e070" stroke-width="0.5" opacity="0.5"/></g>
<g transform="translate(287.5,411) rotate(62.76)"><path d="M0,0 L5.3,0" stroke="#5aa233" stroke-width="0.8" stroke-linecap="round"/><path d="M4.3,0 C5.99,-1.27 8.8,-2.53 11.95,-2.41 C14.42,-2.15 15.55,-1.01 15.55,0 C15.55,1.01 14.42,2.15 11.95,2.41 C8.8,2.53 5.99,1.27 4.3,0 Z" fill="#569f30"/><path d="M4.3,0 L14.3,0" stroke="#a5e070" stroke-width="0.5" opacity="0.5"/></g>
<g transform="translate(287.5,411) rotate(350.98)"><path d="M0,0 L5.17,0" stroke="#5aa233" stroke-width="0.8" stroke-linecap="round"/><path d="M4.17,0 C5.54,-1 7.82,-2.01 10.38,-1.91 C12.39,-1.71 13.3,-0.8 13.3,0 C13.3,0.8 12.39,1.71 10.38,1.91 C7.82,2.01 5.54,1 4.17,0 Z" fill="#9ad960"/><path d="M4.17,0 L12.24,0" stroke="#a5e070" stroke-width="0.5" opacity="0.5"/></g>
<g transform="translate(287.5,411) rotate(471.94)"><path d="M0,0 L4.53,0" stroke="#5aa233" stroke-width="0.8" stroke-linecap="round"/><path d="M3.53,0 C4.97,-1 7.36,-1.99 10.04,-1.89 C12.14,-1.69 13.1,-0.8 13.1,0 C13.1,0.8 12.14,1.69 10.04,1.89 C7.36,1.99 4.97,1 3.53,0 Z" fill="#5fac35"/><path d="M3.53,0 L12.05,0" stroke="#a5e070" stroke-width="0.5" opacity="0.5"/></g>
<g transform="translate(287.5,411) rotate(619.31)"><path d="M0,0 L4.69,0" stroke="#5aa233" stroke-width="0.8" stroke-linecap="round"/><path d="M3.69,0 C5.02,-1.11 7.23,-2.23 9.71,-2.11 C11.65,-1.89 12.54,-0.89 12.54,0 C12.54,0.89 11.65,1.89 9.71,2.11 C7.23,2.23 5.02,1.11 3.69,0 Z" fill="#79c544"/><path d="M3.69,0 L11.53,0" stroke="#a5e070" stroke-width="0.5" opacity="0.5"/></g>
<g transform="translate(287.5,411) rotate(888.14)"><path d="M0,0 L4.11,0" stroke="#5aa233" stroke-width="0.8" stroke-linecap="round"/><path d="M3.11,0 C4.41,-1.08 6.58,-2.17 9.01,-2.06 C10.91,-1.84 11.78,-0.87 11.78,0 C11.78,0.87 10.91,1.84 9.01,2.06 C6.58,2.17 4.41,1.08 3.11,0 Z" fill="#79c544"/><path d="M3.11,0 L10.84,0" stroke="#a5e070" stroke-width="0.5" opacity="0.5"/></g>
<g transform="translate(287.5,411) rotate(768.05)"><path d="M0,0 L4.95,0" stroke="#5aa233" stroke-width="0.8" stroke-linecap="round"/><path d="M3.95,0 C5.04,-0.89 6.86,-1.77 8.9,-1.68 C10.5,-1.51 11.23,-0.71 11.23,0 C11.23,0.71 10.5,1.51 8.9,1.68 C6.86,1.77 5.04,0.89 3.95,0 Z" fill="#79c544"/><path d="M3.95,0 L10.33,0" stroke="#a5e070" stroke-width="0.5" opacity="0.5"/></g>
<g transform="translate(287.5,411) rotate(1026.5)"><path d="M0,0 L4.35,0" stroke="#5aa233" stroke-width="0.8" stroke-linecap="round"/><path d="M3.35,0 C4.51,-0.85 6.43,-1.7 8.59,-1.61 C10.28,-1.44 11.05,-0.68 11.05,0 C11.05,0.68 10.28,1.44 8.59,1.61 C6.43,1.7 4.51,0.85 3.35,0 Z" fill="#6cbb3c"/><path d="M3.35,0 L10.17,0" stroke="#a5e070" stroke-width="0.5" opacity="0.5"/></g>
<g transform="translate(287.5,411) rotate(1159.47)"><path d="M0,0 L4.12,0" stroke="#5aa233" stroke-width="0.8" stroke-linecap="round"/><path d="M3.12,0 C4.12,-0.85 5.79,-1.7 7.66,-1.61 C9.13,-1.44 9.8,-0.68 9.8,0 C9.8,0.68 9.13,1.44 7.66,1.61 C5.79,1.7 4.12,0.85 3.12,0 Z" fill="#6cbb3c"/><path d="M3.12,0 L9.02,0" stroke="#a5e070" stroke-width="0.5" opacity="0.5"/></g>
<circle cx="287.5" cy="411" r="1.6" fill="#7fc948"/>
<g transform="translate(283,431) rotate(187.15)"><path d="M0,0 L6.71,0" stroke="#5aa233" stroke-width="0.8" stroke-linecap="round"/><path d="M5.71,0 C7.32,-1.2 10.01,-2.39 13.01,-2.27 C15.38,-2.03 16.45,-0.96 16.45,0 C16.45,0.96 15.38,2.03 13.01,2.27 C10.01,2.39 7.32,1.2 5.71,0 Z" fill="#6cbb3c"/><path d="M5.71,0 L15.13,0" stroke="#a5e070" stroke-width="0.5" opacity="0.5"/></g>
<g transform="translate(283,431) rotate(606.29)"><path d="M0,0 L6.01,0" stroke="#5aa233" stroke-width="0.82" stroke-linecap="round"/><path d="M5.01,0 C6.56,-1.37 9.13,-2.74 12.01,-2.6 C14.27,-2.33 15.3,-1.1 15.3,0 C15.3,1.1 14.27,2.33 12.01,2.6 C9.13,2.74 6.56,1.37 5.01,0 Z" fill="#7fc948"/><path d="M5.01,0 L14.08,0" stroke="#a5e070" stroke-width="0.5" opacity="0.5"/></g>
<g transform="translate(283,431) rotate(55.98)"><path d="M0,0 L5.78,0" stroke="#5aa233" stroke-width="0.83" stroke-linecap="round"/><path d="M4.78,0 C6.34,-1.38 8.94,-2.75 11.86,-2.61 C14.15,-2.34 15.19,-1.1 15.19,0 C15.19,1.1 14.15,2.34 11.86,2.61 C8.94,2.75 6.34,1.38 4.78,0 Z" fill="#93d65a"/><path d="M4.78,0 L13.98,0" stroke="#a5e070" stroke-width="0.5" opacity="0.5"/></g>
<g transform="translate(283,431) rotate(469.47)"><path d="M0,0 L5.16,0" stroke="#5aa233" stroke-width="0.8" stroke-linecap="round"/><path d="M4.16,0 C5.74,-1.05 8.36,-2.09 11.3,-1.99 C13.61,-1.78 14.66,-0.84 14.66,0 C14.66,0.84 13.61,1.78 11.3,1.99 C8.36,2.09 5.74,1.05 4.16,0 Z" fill="#68b83a"/><path d="M4.16,0 L13.49,0" stroke="#a5e070" stroke-width="0.5" opacity="0.5"/></g>
<g transform="translate(283,431) rotate(323.66)"><path d="M0,0 L5,0" stroke="#5aa233" stroke-width="0.8" stroke-linecap="round"/><path d="M4,0 C5.6,-1.15 8.26,-2.29 11.23,-2.18 C13.58,-1.95 14.64,-0.92 14.64,0 C14.64,0.92 13.58,1.95 11.23,2.18 C8.26,2.29 5.6,1.15 4,0 Z" fill="#7fc948"/><path d="M4,0 L13.47,0" stroke="#a5e070" stroke-width="0.5" opacity="0.5"/></g>
<g transform="translate(283,431) rotate(748.38)"><path d="M0,0 L5.98,0" stroke="#5aa233" stroke-width="0.8" stroke-linecap="round"/><path d="M4.98,0 C6.38,-1.06 8.72,-2.12 11.34,-2.01 C13.4,-1.8 14.34,-0.85 14.34,0 C14.34,0.85 13.4,1.8 11.34,2.01 C8.72,2.12 6.38,1.06 4.98,0 Z" fill="#569f30"/><path d="M4.98,0 L13.19,0" stroke="#a5e070" stroke-width="0.5" opacity="0.5"/></g>
<g transform="translate(283,431) rotate(874.57)"><path d="M0,0 L5.13,0" stroke="#5aa233" stroke-width="0.8" stroke-linecap="round"/><path d="M4.13,0 C5.37,-0.9 7.43,-1.8 9.74,-1.71 C11.56,-1.53 12.38,-0.72 12.38,0 C12.38,0.72 11.56,1.53 9.74,1.71 C7.43,1.8 5.37,0.9 4.13,0 Z" fill="#9ad960"/><path d="M4.13,0 L11.39,0" stroke="#a5e070" stroke-width="0.5" opacity="0.5"/></g>
<g transform="translate(283,431) rotate(1008.78)"><path d="M0,0 L4.72,0" stroke="#5aa233" stroke-width="0.8" stroke-linecap="round"/><path d="M3.72,0 C4.81,-0.97 6.63,-1.94 8.66,-1.84 C10.26,-1.65 10.99,-0.78 10.99,0 C10.99,0.78 10.26,1.65 8.66,1.84 C6.63,1.94 4.81,0.97 3.72,0 Z" fill="#68b83a"/><path d="M3.72,0 L10.11,0" stroke="#a5e070" stroke-width="0.5" opacity="0.5"/></g>
<g transform="translate(283,431) rotate(1160.44)"><path d="M0,0 L4.4,0" stroke="#5aa233" stroke-width="0.8" stroke-linecap="round"/><path d="M3.4,0 C4.47,-0.85 6.24,-1.7 8.23,-1.61 C9.8,-1.44 10.51,-0.68 10.51,0 C10.51,0.68 9.8,1.44 8.23,1.61 C6.24,1.7 4.47,0.85 3.4,0 Z" fill="#5fac35"/><path d="M3.4,0 L9.67,0" stroke="#a5e070" stroke-width="0.5" opacity="0.5"/></g>
<g transform="translate(283,431) rotate(1296.27)"><path d="M0,0 L4.2,0" stroke="#5aa233" stroke-width="0.8" stroke-linecap="round"/><path d="M3.2,0 C4.22,-0.86 5.92,-1.72 7.82,-1.64 C9.31,-1.46 9.99,-0.69 9.99,0 C9.99,0.69 9.31,1.46 7.82,1.64 C5.92,1.72 4.22,0.86 3.2,0 Z" fill="#9ad960"/><path d="M3.2,0 L9.19,0" stroke="#a5e070" stroke-width="0.5" opacity="0.5"/></g>
<circle cx="283" cy="431" r="1.6" fill="#7fc948"/>
<g transform="translate(306,432.5) rotate(531.58)"><path d="M0,0 L5.17,0" stroke="#5aa233" stroke-width="0.8" stroke-linecap="round"/><path d="M4.17,0 C5.75,-1.27 8.37,-2.54 11.31,-2.42 C13.61,-2.16 14.66,-1.02 14.66,0 C14.66,1.02 13.61,2.16 11.31,2.42 C8.37,2.54 5.75,1.27 4.17,0 Z" fill="#72be3f"/><path d="M4.17,0 L13.49,0" stroke="#a5e070" stroke-width="0.5" opacity="0.5"/></g>
<g transform="translate(306,432.5) rotate(397.22)"><path d="M0,0 L5.81,0" stroke="#5aa233" stroke-width="0.8" stroke-linecap="round"/><path d="M4.81,0 C6.25,-1.01 8.65,-2.02 11.35,-1.92 C13.46,-1.72 14.42,-0.81 14.42,0 C14.42,0.81 13.46,1.72 11.35,1.92 C8.65,2.02 6.25,1.01 4.81,0 Z" fill="#5fac35"/><path d="M4.81,0 L13.27,0" stroke="#a5e070" stroke-width="0.5" opacity="0.5"/></g>
<g transform="translate(306,432.5) rotate(676.62)"><path d="M0,0 L6.29,0" stroke="#5aa233" stroke-width="0.8" stroke-linecap="round"/><path d="M5.29,0 C6.63,-1.07 8.86,-2.13 11.36,-2.03 C13.33,-1.81 14.22,-0.85 14.22,0 C14.22,0.85 13.33,1.81 11.36,2.03 C8.86,2.13 6.63,1.07 5.29,0 Z" fill="#6cbb3c"/><path d="M5.29,0 L13.08,0" stroke="#a5e070" stroke-width="0.5" opacity="0.5"/></g>
<g transform="translate(306,432.5) rotate(246.68)"><path d="M0,0 L5.85,0" stroke="#5aa233" stroke-width="0.8" stroke-linecap="round"/><path d="M4.85,0 C6.16,-1.11 8.33,-2.22 10.76,-2.11 C12.67,-1.88 13.54,-0.89 13.54,0 C13.54,0.89 12.67,1.88 10.76,2.11 C8.33,2.22 6.16,1.11 4.85,0 Z" fill="#93d65a"/><path d="M4.85,0 L12.46,0" stroke="#a5e070" stroke-width="0.5" opacity="0.5"/></g>
<g transform="translate(306,432.5) rotate(938.22)"><path d="M0,0 L5.16,0" stroke="#5aa233" stroke-width="0.8" stroke-linecap="round"/><path d="M4.16,0 C5.43,-1.12 7.54,-2.25 9.91,-2.14 C11.76,-1.91 12.61,-0.9 12.61,0 C12.61,0.9 11.76,1.91 9.91,2.14 C7.54,2.25 5.43,1.12 4.16,0 Z" fill="#9ad960"/><path d="M4.16,0 L11.6,0" stroke="#a5e070" stroke-width="0.5" opacity="0.5"/></g>
<g transform="translate(306,432.5) rotate(798.98)"><path d="M0,0 L4.47,0" stroke="#5aa233" stroke-width="0.8" stroke-linecap="round"/><path d="M3.47,0 C4.79,-1.13 6.98,-2.25 9.44,-2.14 C11.37,-1.91 12.25,-0.9 12.25,0 C12.25,0.9 11.37,1.91 9.44,2.14 C6.98,2.25 4.79,1.13 3.47,0 Z" fill="#5fac35"/><path d="M3.47,0 L11.27,0" stroke="#a5e070" stroke-width="0.5" opacity="0.5"/></g>
<g transform="translate(306,432.5) rotate(1079.25)"><path d="M0,0 L4.51,0" stroke="#5aa233" stroke-width="0.8" stroke-linecap="round"/><path d="M3.51,0 C4.63,-1 6.49,-2 8.57,-1.9 C10.21,-1.7 10.95,-0.8 10.95,0 C10.95,0.8 10.21,1.7 8.57,1.9 C6.49,2 4.63,1 3.51,0 Z" fill="#6cbb3c"/><path d="M3.51,0 L10.07,0" stroke="#a5e070" stroke-width="0.5" opacity="0.5"/></g>
<g transform="translate(306,432.5) rotate(1223.16)"><path d="M0,0 L3.71,0" stroke="#5aa233" stroke-width="0.8" stroke-linecap="round"/><path d="M2.71,0 C3.69,-0.85 5.33,-1.7 7.17,-1.61 C8.61,-1.44 9.27,-0.68 9.27,0 C9.27,0.68 8.61,1.44 7.17,1.61 C5.33,1.7 3.69,0.85 2.71,0 Z" fill="#79c544"/><path d="M2.71,0 L8.53,0" stroke="#a5e070" stroke-width="0.5" opacity="0.5"/></g>
<g transform="translate(306,432.5) rotate(1346.56)"><path d="M0,0 L3.68,0" stroke="#5aa233" stroke-width="0.8" stroke-linecap="round"/><path d="M2.68,0 C3.53,-0.85 4.96,-1.7 6.55,-1.61 C7.81,-1.44 8.38,-0.68 8.38,0 C8.38,0.68 7.81,1.44 6.55,1.61 C4.96,1.7 3.53,0.85 2.68,0 Z" fill="#79c544"/><path d="M2.68,0 L7.71,0" stroke="#a5e070" stroke-width="0.5" opacity="0.5"/></g>
<circle cx="306" cy="432.5" r="1.6" fill="#7fc948"/>
<g transform="translate(304,434) rotate(12)"><path d="M0,0 L12.25,0" stroke="#5aa233" stroke-width="1.2" stroke-linecap="round"/><path d="M11.25,0 C13.31,-2 16.75,-4 20.6,-3.8 C23.62,-3.4 25,-1.6 25,0 C25,1.6 23.62,3.4 20.6,3.8 C16.75,4 13.31,2 11.25,0 Z" fill="#58b832"/><path d="M11.25,0 L23,0" stroke="#a5e070" stroke-width="0.5" opacity="0.5"/><ellipse cx="19.5" cy="0" rx="3.58" ry="1.8" fill="#d9ead6" opacity="0.6"/></g>
<rect x="312.2" y="388.2" width="16.6" height="9.4" fill="none" stroke="#f2f2f2" stroke-width="0.7" stroke-dasharray="1.1 0.9" transform="rotate(0 320.5 392.9)"/>
<rect x="390.5" y="392.8" width="43" height="51.2" rx="2" fill="#17110e"/>
<rect x="390.5" y="392.8" width="43" height="51.2" rx="2" fill="#fff" filter="url(#soil)"/>
<rect x="397.4" y="379.4" width="8.4" height="12" fill="#a9b8b8" transform="rotate(8 401.6 385.4)"/>
<rect x="398.6" y="381" width="5.6" height="5" fill="#c3d0ce" transform="rotate(8 401.6 385.4)"/>
<g transform="translate(414.2,396) rotate(378.71)"><path d="M0,0 L8.39,0" stroke="#5aa233" stroke-width="0.96" stroke-linecap="round"/><path d="M7.39,0 C9.42,-1.6 12.8,-3.2 16.59,-3.04 C19.57,-2.72 20.93,-1.28 20.93,0 C20.93,1.28 19.57,2.72 16.59,3.04 C12.8,3.2 9.42,1.6 7.39,0 Z" fill="#569f30"/><path d="M7.39,0 L19.25,0" stroke="#a5e070" stroke-width="0.5" opacity="0.5"/></g>
<g transform="translate(414.2,396) rotate(250.6)"><path d="M0,0 L7.74,0" stroke="#5aa233" stroke-width="0.95" stroke-linecap="round"/><path d="M6.74,0 C8.64,-1.58 11.8,-3.16 15.35,-3 C18.13,-2.69 19.39,-1.26 19.39,0 C19.39,1.26 18.13,2.69 15.35,3 C11.8,3.16 8.64,1.58 6.74,0 Z" fill="#9ad960"/><path d="M6.74,0 L17.84,0" stroke="#a5e070" stroke-width="0.5" opacity="0.5"/></g>
<g transform="translate(414.2,396) rotate(510.32)"><path d="M0,0 L6.24,0" stroke="#5aa233" stroke-width="0.8" stroke-linecap="round"/><path d="M5.24,0 C7.01,-1.29 9.97,-2.59 13.28,-2.46 C15.88,-2.2 17.07,-1.04 17.07,0 C17.07,1.04 15.88,2.2 13.28,2.46 C9.97,2.59 7.01,1.29 5.24,0 Z" fill="#569f30"/><path d="M5.24,0 L15.7,0" stroke="#a5e070" stroke-width="0.5" opacity="0.5"/></g>
<g transform="translate(414.2,396) rotate(652.12)"><path d="M0,0 L5.55,0" stroke="#5aa233" stroke-width="0.8" stroke-linecap="round"/><path d="M4.55,0 C6.34,-1.19 9.33,-2.39 12.67,-2.27 C15.29,-2.03 16.49,-0.96 16.49,0 C16.49,0.96 15.29,2.03 12.67,2.27 C9.33,2.39 6.34,1.19 4.55,0 Z" fill="#86ce4e"/><path d="M4.55,0 L15.17,0" stroke="#a5e070" stroke-width="0.5" opacity="0.5"/></g>
<g transform="translate(414.2,396) rotate(789.58)"><path d="M0,0 L5.37,0" stroke="#5aa233" stroke-width="0.8" stroke-linecap="round"/><path d="M4.37,0 C6.12,-1.33 9.03,-2.65 12.29,-2.52 C14.86,-2.26 16.02,-1.06 16.02,0 C16.02,1.06 14.86,2.26 12.29,2.52 C9.03,2.65 6.12,1.33 4.37,0 Z" fill="#7fc948"/><path d="M4.37,0 L14.74,0" stroke="#a5e070" stroke-width="0.5" opacity="0.5"/></g>
<g transform="translate(414.2,396) rotate(1069.78)"><path d="M0,0 L4.88,0" stroke="#5aa233" stroke-width="0.8" stroke-linecap="round"/><path d="M3.88,0 C5.54,-1.29 8.29,-2.58 11.37,-2.45 C13.79,-2.19 14.89,-1.03 14.89,0 C14.89,1.03 13.79,2.19 11.37,2.45 C8.29,2.58 5.54,1.29 3.88,0 Z" fill="#7fc948"/><path d="M3.88,0 L13.7,0" stroke="#a5e070" stroke-width="0.5" opacity="0.5"/></g>
<g transform="translate(414.2,396) rotate(924.1)"><path d="M0,0 L6.32,0" stroke="#5aa233" stroke-width="0.8" stroke-linecap="round"/><path d="M5.32,0 C6.68,-1.08 8.96,-2.15 11.51,-2.04 C13.51,-1.83 14.42,-0.86 14.42,0 C14.42,0.86 13.51,1.83 11.51,2.04 C8.96,2.15 6.68,1.08 5.32,0 Z" fill="#7fc948"/><path d="M5.32,0 L13.27,0" stroke="#a5e070" stroke-width="0.5" opacity="0.5"/></g>
<g transform="translate(414.2,396) rotate(1349.24)"><path d="M0,0 L4.95,0" stroke="#5aa233" stroke-width="0.8" stroke-linecap="round"/><path d="M3.95,0 C5.51,-1.13 8.12,-2.27 11.04,-2.16 C13.34,-1.93 14.38,-0.91 14.38,0 C14.38,0.91 13.34,1.93 11.04,2.16 C8.12,2.27 5.51,1.13 3.95,0 Z" fill="#9ad960"/><path d="M3.95,0 L13.23,0" stroke="#a5e070" stroke-width="0.5" opacity="0.5"/></g>
<g transform="translate(414.2,396) rotate(1213.54)"><path d="M0,0 L6.09,0" stroke="#5aa233" stroke-width="0.8" stroke-linecap="round"/><path d="M5.09,0 C6.45,-1.02 8.72,-2.05 11.27,-1.95 C13.27,-1.74 14.18,-0.82 14.18,0 C14.18,0.82 13.27,1.74 11.27,1.95 C8.72,2.05 6.45,1.02 5.09,0 Z" fill="#7fc948"/><path d="M5.09,0 L13.04,0" stroke="#a5e070" stroke-width="0.5" opacity="0.5"/></g>
<g transform="translate(414.2,396) rotate(1626.78)"><path d="M0,0 L4.65,0" stroke="#5aa233" stroke-width="0.8" stroke-linecap="round"/><path d="M3.65,0 C4.9,-1.1 6.98,-2.19 9.32,-2.08 C11.15,-1.86 11.98,-0.88 11.98,0 C11.98,0.88 11.15,1.86 9.32,2.08 C6.98,2.19 4.9,1.1 3.65,0 Z" fill="#7fc948"/><path d="M3.65,0 L11.02,0" stroke="#a5e070" stroke-width="0.5" opacity="0.5"/></g>
<g transform="translate(414.2,396) rotate(1485.06)"><path d="M0,0 L5.33,0" stroke="#5aa233" stroke-width="0.8" stroke-linecap="round"/><path d="M4.33,0 C5.47,-1.08 7.36,-2.16 9.48,-2.05 C11.15,-1.83 11.9,-0.86 11.9,0 C11.9,0.86 11.15,1.83 9.48,2.05 C7.36,2.16 5.47,1.08 4.33,0 Z" fill="#6cbb3c"/><path d="M4.33,0 L10.95,0" stroke="#a5e070" stroke-width="0.5" opacity="0.5"/></g>
<circle cx="414.2" cy="396" r="1.6" fill="#7fc948"/>
<g transform="translate(416,397) rotate(4)"><path d="M0,0 L13.6,0" stroke="#5aa233" stroke-width="1.32" stroke-linecap="round"/><path d="M12.6,0 C14.91,-2.2 18.76,-4.4 23.07,-4.18 C26.46,-3.74 28,-1.76 28,0 C28,1.76 26.46,3.74 23.07,4.18 C18.76,4.4 14.91,2.2 12.6,0 Z" fill="#66c93e"/><path d="M12.6,0 L25.76,0" stroke="#a5e070" stroke-width="0.5" opacity="0.5"/><ellipse cx="21.84" cy="0" rx="4" ry="1.98" fill="#d9ead6" opacity="0.6"/></g>
<g transform="translate(407,414.6) rotate(448.82)"><path d="M0,0 L6.48,0" stroke="#5aa233" stroke-width="0.8" stroke-linecap="round"/><path d="M5.48,0 C7.3,-1.34 10.33,-2.67 13.73,-2.54 C16.39,-2.27 17.61,-1.07 17.61,0 C17.61,1.07 16.39,2.27 13.73,2.54 C10.33,2.67 7.3,1.34 5.48,0 Z" fill="#79c544"/><path d="M5.48,0 L16.2,0" stroke="#a5e070" stroke-width="0.5" opacity="0.5"/></g>
<g transform="translate(407,414.6) rotate(314.47)"><path d="M0,0 L5.02,0" stroke="#5aa233" stroke-width="0.8" stroke-linecap="round"/><path d="M4.02,0 C5.73,-1.21 8.58,-2.42 11.76,-2.3 C14.27,-2.06 15.41,-0.97 15.41,0 C15.41,0.97 14.27,2.06 11.76,2.3 C8.58,2.42 5.73,1.21 4.02,0 Z" fill="#86ce4e"/><path d="M4.02,0 L14.17,0" stroke="#a5e070" stroke-width="0.5" opacity="0.5"/></g>
<g transform="translate(407,414.6) rotate(738.74)"><path d="M0,0 L6.15,0" stroke="#5aa233" stroke-width="0.8" stroke-linecap="round"/><path d="M5.15,0 C6.68,-1.18 9.24,-2.36 12.11,-2.24 C14.36,-2.01 15.39,-0.94 15.39,0 C15.39,0.94 14.36,2.01 12.11,2.24 C9.24,2.36 6.68,1.18 5.15,0 Z" fill="#5fac35"/><path d="M5.15,0 L14.15,0" stroke="#a5e070" stroke-width="0.5" opacity="0.5"/></g>
<g transform="translate(407,414.6) rotate(586.67)"><path d="M0,0 L6.74,0" stroke="#5aa233" stroke-width="0.8" stroke-linecap="round"/><path d="M5.74,0 C7.18,-1.21 9.58,-2.43 12.27,-2.3 C14.38,-2.06 15.34,-0.97 15.34,0 C15.34,0.97 14.38,2.06 12.27,2.3 C9.58,2.43 7.18,1.21 5.74,0 Z" fill="#72be3f"/><path d="M5.74,0 L14.11,0" stroke="#a5e070" stroke-width="0.5" opacity="0.5"/></g>
<g transform="translate(407,414.6) rotate(1012.59)"><path d="M0,0 L5.91,0" stroke="#5aa233" stroke-width="0.8" stroke-linecap="round"/><path d="M4.91,0 C6.42,-1.08 8.94,-2.16 11.75,-2.06 C13.96,-1.84 14.97,-0.87 14.97,0 C14.97,0.87 13.96,1.84 11.75,2.06 C8.94,2.16 6.42,1.08 4.91,0 Z" fill="#68b83a"/><path d="M4.91,0 L13.77,0" stroke="#a5e070" stroke-width="0.5" opacity="0.5"/></g>
<g transform="translate(407,414.6) rotate(1135.19)"><path d="M0,0 L5.04,0" stroke="#5aa233" stroke-width="0.8" stroke-linecap="round"/><path d="M4.04,0 C5.44,-1.13 7.76,-2.26 10.37,-2.15 C12.42,-1.92 13.35,-0.91 13.35,0 C13.35,0.91 12.42,1.92 10.37,2.15 C7.76,2.26 5.44,1.13 4.04,0 Z" fill="#9ad960"/><path d="M4.04,0 L12.28,0" stroke="#a5e070" stroke-width="0.5" opacity="0.5"/></g>
<g transform="translate(407,414.6) rotate(874.85)"><path d="M0,0 L4.78,0" stroke="#5aa233" stroke-width="0.8" stroke-linecap="round"/><path d="M3.78,0 C5.2,-0.99 7.56,-1.98 10.21,-1.88 C12.29,-1.68 13.24,-0.79 13.24,0 C13.24,0.79 12.29,1.68 10.21,1.88 C7.56,1.98 5.2,0.99 3.78,0 Z" fill="#72be3f"/><path d="M3.78,0 L12.18,0" stroke="#a5e070" stroke-width="0.5" opacity="0.5"/></g>
<g transform="translate(407,414.6) rotate(1271.48)"><path d="M0,0 L4.66,0" stroke="#5aa233" stroke-width="0.8" stroke-linecap="round"/><path d="M3.66,0 C4.95,-0.93 7.1,-1.87 9.51,-1.78 C11.41,-1.59 12.27,-0.75 12.27,0 C12.27,0.75 11.41,1.59 9.51,1.78 C7.1,1.87 4.95,0.93 3.66,0 Z" fill="#6cbb3c"/><path d="M3.66,0 L11.29,0" stroke="#a5e070" stroke-width="0.5" opacity="0.5"/></g>
<g transform="translate(407,414.6) rotate(1410.64)"><path d="M0,0 L4.73,0" stroke="#5aa233" stroke-width="0.8" stroke-linecap="round"/><path d="M3.73,0 C4.75,-0.85 6.46,-1.7 8.37,-1.61 C9.87,-1.44 10.56,-0.68 10.56,0 C10.56,0.68 9.87,1.44 8.37,1.61 C6.46,1.7 4.75,0.85 3.73,0 Z" fill="#68b83a"/><path d="M3.73,0 L9.71,0" stroke="#a5e070" stroke-width="0.5" opacity="0.5"/></g>
<g transform="translate(407,414.6) rotate(1557.3)"><path d="M0,0 L3.48,0" stroke="#5aa233" stroke-width="0.8" stroke-linecap="round"/><path d="M2.48,0 C3.5,-0.85 5.2,-1.7 7.1,-1.61 C8.59,-1.44 9.27,-0.68 9.27,0 C9.27,0.68 8.59,1.44 7.1,1.61 C5.2,1.7 3.5,0.85 2.48,0 Z" fill="#569f30"/><path d="M2.48,0 L8.53,0" stroke="#a5e070" stroke-width="0.5" opacity="0.5"/></g>
<circle cx="407" cy="414.6" r="1.6" fill="#7fc948"/>
<g transform="translate(401.4,431) rotate(250.59)"><path d="M0,0 L6.65,0" stroke="#5aa233" stroke-width="0.89" stroke-linecap="round"/><path d="M5.65,0 C7.5,-1.49 10.59,-2.98 14.05,-2.83 C16.76,-2.53 18,-1.19 18,0 C18,1.19 16.76,2.53 14.05,2.83 C10.59,2.98 7.5,1.49 5.65,0 Z" fill="#6cbb3c"/><path d="M5.65,0 L16.56,0" stroke="#a5e070" stroke-width="0.5" opacity="0.5"/></g>
<g transform="translate(401.4,431) rotate(104.98)"><path d="M0,0 L5.6,0" stroke="#5aa233" stroke-width="0.96" stroke-linecap="round"/><path d="M4.6,0 C6.52,-1.6 9.72,-3.21 13.29,-3.05 C16.1,-2.73 17.38,-1.28 17.38,0 C17.38,1.28 16.1,2.73 13.29,3.05 C9.72,3.21 6.52,1.6 4.6,0 Z" fill="#9ad960"/><path d="M4.6,0 L15.99,0" stroke="#a5e070" stroke-width="0.5" opacity="0.5"/></g>
<g transform="translate(401.4,431) rotate(385.99)"><path d="M0,0 L5.64,0" stroke="#5aa233" stroke-width="0.8" stroke-linecap="round"/><path d="M4.64,0 C6.5,-1.31 9.62,-2.63 13.1,-2.5 C15.84,-2.23 17.09,-1.05 17.09,0 C17.09,1.05 15.84,2.23 13.1,2.5 C9.62,2.63 6.5,1.31 4.64,0 Z" fill="#93d65a"/><path d="M4.64,0 L15.72,0" stroke="#a5e070" stroke-width="0.5" opacity="0.5"/></g>
<g transform="translate(401.4,431) rotate(657.45)"><path d="M0,0 L5.87,0" stroke="#5aa233" stroke-width="0.87" stroke-linecap="round"/><path d="M4.87,0 C6.54,-1.46 9.32,-2.91 12.44,-2.77 C14.89,-2.48 16,-1.17 16,0 C16,1.17 14.89,2.48 12.44,2.77 C9.32,2.91 6.54,1.46 4.87,0 Z" fill="#5fac35"/><path d="M4.87,0 L14.72,0" stroke="#a5e070" stroke-width="0.5" opacity="0.5"/></g>
<g transform="translate(401.4,431) rotate(524.2)"><path d="M0,0 L6.44,0" stroke="#5aa233" stroke-width="0.8" stroke-linecap="round"/><path d="M5.44,0 C6.97,-1.32 9.52,-2.64 12.37,-2.51 C14.62,-2.25 15.64,-1.06 15.64,0 C15.64,1.06 14.62,2.25 12.37,2.51 C9.52,2.64 6.97,1.32 5.44,0 Z" fill="#9ad960"/><path d="M5.44,0 L14.39,0" stroke="#a5e070" stroke-width="0.5" opacity="0.5"/></g>
<g transform="translate(401.4,431) rotate(802.21)"><path d="M0,0 L4.9,0" stroke="#5aa233" stroke-width="0.8" stroke-linecap="round"/><path d="M3.9,0 C5.29,-0.93 7.61,-1.87 10.22,-1.78 C12.26,-1.59 13.19,-0.75 13.19,0 C13.19,0.75 12.26,1.59 10.22,1.78 C7.61,1.87 5.29,0.93 3.9,0 Z" fill="#68b83a"/><path d="M3.9,0 L12.13,0" stroke="#a5e070" stroke-width="0.5" opacity="0.5"/></g>
<g transform="translate(401.4,431) rotate(1058.72)"><path d="M0,0 L4.55,0" stroke="#5aa233" stroke-width="0.8" stroke-linecap="round"/><path d="M3.55,0 C4.98,-1.12 7.37,-2.24 10.04,-2.13 C12.15,-1.91 13.1,-0.9 13.1,0 C13.1,0.9 12.15,1.91 10.04,2.13 C7.37,2.24 4.98,1.12 3.55,0 Z" fill="#72be3f"/><path d="M3.55,0 L12.05,0" stroke="#a5e070" stroke-width="0.5" opacity="0.5"/></g>
<g transform="translate(401.4,431) rotate(939.27)"><path d="M0,0 L4.72,0" stroke="#5aa233" stroke-width="0.8" stroke-linecap="round"/><path d="M3.72,0 C4.98,-1.01 7.07,-2.02 9.42,-1.92 C11.27,-1.71 12.11,-0.81 12.11,0 C12.11,0.81 11.27,1.71 9.42,1.92 C7.07,2.02 4.98,1.01 3.72,0 Z" fill="#569f30"/><path d="M3.72,0 L11.14,0" stroke="#a5e070" stroke-width="0.5" opacity="0.5"/></g>
<g transform="translate(401.4,431) rotate(1210.26)"><path d="M0,0 L4.08,0" stroke="#5aa233" stroke-width="0.8" stroke-linecap="round"/><path d="M3.08,0 C4.26,-0.85 6.24,-1.7 8.46,-1.61 C10.2,-1.44 10.99,-0.68 10.99,0 C10.99,0.68 10.2,1.44 8.46,1.61 C6.24,1.7 4.26,0.85 3.08,0 Z" fill="#86ce4e"/><path d="M3.08,0 L10.11,0" stroke="#a5e070" stroke-width="0.5" opacity="0.5"/></g>
<g transform="translate(401.4,431) rotate(1351.93)"><path d="M0,0 L3.68,0" stroke="#5aa233" stroke-width="0.8" stroke-linecap="round"/><path d="M2.68,0 C3.75,-0.85 5.53,-1.7 7.52,-1.61 C9.09,-1.44 9.81,-0.68 9.81,0 C9.81,0.68 9.09,1.44 7.52,1.61 C5.53,1.7 3.75,0.85 2.68,0 Z" fill="#6cbb3c"/><path d="M2.68,0 L9.02,0" stroke="#a5e070" stroke-width="0.5" opacity="0.5"/></g>
<circle cx="401.4" cy="431" r="1.6" fill="#7fc948"/>
<g transform="translate(423,432.4) rotate(490.74)"><path d="M0,0 L5.13,0" stroke="#5aa233" stroke-width="0.8" stroke-linecap="round"/><path d="M4.13,0 C5.83,-1.09 8.66,-2.18 11.82,-2.08 C14.31,-1.86 15.44,-0.87 15.44,0 C15.44,0.87 14.31,1.86 11.82,2.08 C8.66,2.18 5.83,1.09 4.13,0 Z" fill="#9ad960"/><path d="M4.13,0 L14.2,0" stroke="#a5e070" stroke-width="0.5" opacity="0.5"/></g>
<g transform="translate(423,432.4) rotate(204.92)"><path d="M0,0 L5.47,0" stroke="#5aa233" stroke-width="0.8" stroke-linecap="round"/><path d="M4.47,0 C5.99,-1.16 8.52,-2.33 11.35,-2.21 C13.58,-1.98 14.59,-0.93 14.59,0 C14.59,0.93 13.58,1.98 11.35,2.21 C8.52,2.33 5.99,1.16 4.47,0 Z" fill="#86ce4e"/><path d="M4.47,0 L13.43,0" stroke="#a5e070" stroke-width="0.5" opacity="0.5"/></g>
<g transform="translate(423,432.4) rotate(357.41)"><path d="M0,0 L5.62,0" stroke="#5aa233" stroke-width="0.8" stroke-linecap="round"/><path d="M4.62,0 C6.1,-1.12 8.57,-2.24 11.33,-2.13 C13.5,-1.9 14.49,-0.9 14.49,0 C14.49,0.9 13.5,1.9 11.33,2.13 C8.57,2.24 6.1,1.12 4.62,0 Z" fill="#72be3f"/><path d="M4.62,0 L13.33,0" stroke="#a5e070" stroke-width="0.5" opacity="0.5"/></g>
<g transform="translate(423,432.4) rotate(619.82)"><path d="M0,0 L4.67,0" stroke="#5aa233" stroke-width="0.8" stroke-linecap="round"/><path d="M3.67,0 C5.19,-1 7.72,-2.01 10.55,-1.91 C12.78,-1.71 13.79,-0.8 13.79,0 C13.79,0.8 12.78,1.71 10.55,1.91 C7.72,2.01 5.19,1 3.67,0 Z" fill="#7fc948"/><path d="M3.67,0 L12.69,0" stroke="#a5e070" stroke-width="0.5" opacity="0.5"/></g>
<g transform="translate(423,432.4) rotate(897.69)"><path d="M0,0 L4.43,0" stroke="#5aa233" stroke-width="0.8" stroke-linecap="round"/><path d="M3.43,0 C4.87,-0.98 7.27,-1.96 9.96,-1.86 C12.07,-1.66 13.04,-0.78 13.04,0 C13.04,0.78 12.07,1.66 9.96,1.86 C7.27,1.96 4.87,0.98 3.43,0 Z" fill="#5fac35"/><path d="M3.43,0 L11.99,0" stroke="#a5e070" stroke-width="0.5" opacity="0.5"/></g>
<g transform="translate(423,432.4) rotate(772.99)"><path d="M0,0 L5.34,0" stroke="#5aa233" stroke-width="0.8" stroke-linecap="round"/><path d="M4.34,0 C5.6,-1.09 7.71,-2.19 10.08,-2.08 C11.94,-1.86 12.78,-0.88 12.78,0 C12.78,0.88 11.94,1.86 10.08,2.08 C7.71,2.19 5.6,1.09 4.34,0 Z" fill="#569f30"/><path d="M4.34,0 L11.76,0" stroke="#a5e070" stroke-width="0.5" opacity="0.5"/></g>
<g transform="translate(423,432.4) rotate(1316.06)"><path d="M0,0 L4.42,0" stroke="#5aa233" stroke-width="0.8" stroke-linecap="round"/><path d="M3.42,0 C4.68,-0.85 6.78,-1.7 9.13,-1.61 C10.98,-1.44 11.82,-0.68 11.82,0 C11.82,0.68 10.98,1.44 9.13,1.61 C6.78,1.7 4.68,0.85 3.42,0 Z" fill="#6cbb3c"/><path d="M3.42,0 L10.88,0" stroke="#a5e070" stroke-width="0.5" opacity="0.5"/></g>
<g transform="translate(423,432.4) rotate(1168.53)"><path d="M0,0 L4.61,0" stroke="#5aa233" stroke-width="0.8" stroke-linecap="round"/><path d="M3.61,0 C4.82,-0.96 6.83,-1.92 9.08,-1.83 C10.85,-1.64 11.65,-0.77 11.65,0 C11.65,0.77 10.85,1.64 9.08,1.83 C6.83,1.92 4.82,0.96 3.61,0 Z" fill="#5fac35"/><path d="M3.61,0 L10.72,0" stroke="#a5e070" stroke-width="0.5" opacity="0.5"/></g>
<g transform="translate(423,432.4) rotate(1045.47)"><path d="M0,0 L4.91,0" stroke="#5aa233" stroke-width="0.8" stroke-linecap="round"/><path d="M3.91,0 C5.03,-0.86 6.9,-1.72 9,-1.63 C10.65,-1.46 11.4,-0.69 11.4,0 C11.4,0.69 10.65,1.46 9,1.63 C6.9,1.72 5.03,0.86 3.91,0 Z" fill="#86ce4e"/><path d="M3.91,0 L10.49,0" stroke="#a5e070" stroke-width="0.5" opacity="0.5"/></g>
<g transform="translate(423,432.4) rotate(1460.62)"><path d="M0,0 L3.65,0" stroke="#5aa233" stroke-width="0.8" stroke-linecap="round"/><path d="M2.65,0 C3.68,-0.87 5.39,-1.75 7.31,-1.66 C8.82,-1.48 9.51,-0.7 9.51,0 C9.51,0.7 8.82,1.48 7.31,1.66 C5.39,1.75 3.68,0.87 2.65,0 Z" fill="#569f30"/><path d="M2.65,0 L8.75,0" stroke="#a5e070" stroke-width="0.5" opacity="0.5"/></g>
<circle cx="423" cy="432.4" r="1.6" fill="#7fc948"/>
<g transform="translate(422,432.4) rotate(8)"><path d="M0,0 L12.25,0" stroke="#5aa233" stroke-width="1.2" stroke-linecap="round"/><path d="M11.25,0 C13.31,-2 16.75,-4 20.6,-3.8 C23.62,-3.4 25,-1.6 25,0 C25,1.6 23.62,3.4 20.6,3.8 C16.75,4 13.31,2 11.25,0 Z" fill="#5fc038"/><path d="M11.25,0 L23,0" stroke="#a5e070" stroke-width="0.5" opacity="0.5"/><ellipse cx="19.5" cy="0" rx="3.58" ry="1.8" fill="#d9ead6" opacity="0.6"/></g>
<rect x="432.2" y="393.6" width="16" height="9.4" fill="none" stroke="#f2f2f2" stroke-width="0.7" stroke-dasharray="1.1 0.9" transform="rotate(0 440.2 398.3)"/>
<rect x="514" y="429" width="38" height="18" rx="2" fill="#17110e"/><rect x="514" y="429" width="38" height="18" rx="2" fill="#fff" filter="url(#soil)"/>
<rect x="534" y="396" width="20" height="26" rx="2" fill="#15100d"/>
<g transform="translate(524.6,409) rotate(367.5)"><path d="M0,0 L9.49,0" stroke="#5aa233" stroke-width="1.27" stroke-linecap="round"/><path d="M8.49,0 C12.07,-2.12 18.04,-4.25 24.73,-4.03 C29.99,-3.61 32.38,-1.7 32.38,0 C32.38,1.7 29.99,3.61 24.73,4.03 C18.04,4.25 12.07,2.12 8.49,0 Z" fill="#5fac35"/><path d="M8.49,0 L29.79,0" stroke="#a5e070" stroke-width="0.5" opacity="0.5"/></g>
<g transform="translate(524.6,409) rotate(230.05)"><path d="M0,0 L10.73,0" stroke="#5aa233" stroke-width="1.61" stroke-linecap="round"/><path d="M9.73,0 C13.08,-2.68 18.65,-5.37 24.89,-5.1 C29.79,-4.56 32.02,-2.15 32.02,0 C32.02,2.15 29.79,4.56 24.89,5.1 C18.65,5.37 13.08,2.68 9.73,0 Z" fill="#5fac35"/><path d="M9.73,0 L29.46,0" stroke="#a5e070" stroke-width="0.5" opacity="0.5"/></g>
<g transform="translate(524.6,409) rotate(498.42)"><path d="M0,0 L12.54,0" stroke="#5aa233" stroke-width="1.5" stroke-linecap="round"/><path d="M11.54,0 C14.6,-2.49 19.71,-4.98 25.43,-4.74 C29.92,-4.24 31.96,-1.99 31.96,0 C31.96,1.99 29.92,4.24 25.43,4.74 C19.71,4.98 14.6,2.49 11.54,0 Z" fill="#9ad960"/><path d="M11.54,0 L29.4,0" stroke="#a5e070" stroke-width="0.5" opacity="0.5"/></g>
<g transform="translate(524.6,409) rotate(1059.24)"><path d="M0,0 L8.55,0" stroke="#5aa233" stroke-width="1.16" stroke-linecap="round"/><path d="M7.55,0 C10.69,-1.94 15.91,-3.88 21.76,-3.68 C26.35,-3.3 28.44,-1.55 28.44,0 C28.44,1.55 26.35,3.3 21.76,3.68 C15.91,3.88 10.69,1.94 7.55,0 Z" fill="#7fc948"/><path d="M7.55,0 L26.16,0" stroke="#a5e070" stroke-width="0.5" opacity="0.5"/></g>
<g transform="translate(524.6,409) rotate(768.16)"><path d="M0,0 L10.42,0" stroke="#5aa233" stroke-width="1.29" stroke-linecap="round"/><path d="M9.42,0 C12.23,-2.15 16.91,-4.3 22.15,-4.09 C26.27,-3.66 28.14,-1.72 28.14,0 C28.14,1.72 26.27,3.66 22.15,4.09 C16.91,4.3 12.23,2.15 9.42,0 Z" fill="#86ce4e"/><path d="M9.42,0 L25.89,0" stroke="#a5e070" stroke-width="0.5" opacity="0.5"/></g>
<g transform="translate(524.6,409) rotate(646.37)"><path d="M0,0 L8.07,0" stroke="#5aa233" stroke-width="1.15" stroke-linecap="round"/><path d="M7.07,0 C9.87,-1.92 14.55,-3.83 19.79,-3.64 C23.9,-3.26 25.77,-1.53 25.77,0 C25.77,1.53 23.9,3.26 19.79,3.64 C14.55,3.83 9.87,1.92 7.07,0 Z" fill="#569f30"/><path d="M7.07,0 L23.71,0" stroke="#a5e070" stroke-width="0.5" opacity="0.5"/></g>
<g transform="translate(524.6,409) rotate(900.06)"><path d="M0,0 L10.46,0" stroke="#5aa233" stroke-width="1.08" stroke-linecap="round"/><path d="M9.46,0 C11.86,-1.8 15.86,-3.59 20.34,-3.42 C23.86,-3.06 25.46,-1.44 25.46,0 C25.46,1.44 23.86,3.06 20.34,3.42 C15.86,3.59 11.86,1.8 9.46,0 Z" fill="#569f30"/><path d="M9.46,0 L23.43,0" stroke="#a5e070" stroke-width="0.5" opacity="0.5"/></g>
<g transform="translate(524.6,409) rotate(1737.69)"><path d="M0,0 L8.43,0" stroke="#5aa233" stroke-width="1.02" stroke-linecap="round"/><path d="M7.43,0 C10.01,-1.7 14.32,-3.41 19.14,-3.24 C22.93,-2.9 24.65,-1.36 24.65,0 C24.65,1.36 22.93,2.9 19.14,3.24 C14.32,3.41 10.01,1.7 7.43,0 Z" fill="#7fc948"/><path d="M7.43,0 L22.68,0" stroke="#a5e070" stroke-width="0.5" opacity="0.5"/></g>
<g transform="translate(524.6,409) rotate(1884.83)"><path d="M0,0 L9.81,0" stroke="#5aa233" stroke-width="1.21" stroke-linecap="round"/><path d="M8.81,0 C11.09,-2.02 14.89,-4.05 19.14,-3.85 C22.48,-3.44 24,-1.62 24,0 C24,1.62 22.48,3.44 19.14,3.85 C14.89,4.05 11.09,2.02 8.81,0 Z" fill="#93d65a"/><path d="M8.81,0 L22.08,0" stroke="#a5e070" stroke-width="0.5" opacity="0.5"/></g>
<g transform="translate(524.6,409) rotate(1193.88)"><path d="M0,0 L9.44,0" stroke="#5aa233" stroke-width="1.11" stroke-linecap="round"/><path d="M8.44,0 C10.76,-1.85 14.63,-3.7 18.96,-3.51 C22.37,-3.14 23.91,-1.48 23.91,0 C23.91,1.48 22.37,3.14 18.96,3.51 C14.63,3.7 10.76,1.85 8.44,0 Z" fill="#72be3f"/><path d="M8.44,0 L22,0" stroke="#a5e070" stroke-width="0.5" opacity="0.5"/></g>
<g transform="translate(524.6,409) rotate(1454.77)"><path d="M0,0 L8.69,0" stroke="#5aa233" stroke-width="1.18" stroke-linecap="round"/><path d="M7.69,0 C10.03,-1.97 13.92,-3.94 18.28,-3.74 C21.71,-3.35 23.26,-1.58 23.26,0 C23.26,1.58 21.71,3.35 18.28,3.74 C13.92,3.94 10.03,1.97 7.69,0 Z" fill="#79c544"/><path d="M7.69,0 L21.4,0" stroke="#a5e070" stroke-width="0.5" opacity="0.5"/></g>
<g transform="translate(524.6,409) rotate(1608.18)"><path d="M0,0 L9.39,0" stroke="#5aa233" stroke-width="1.17" stroke-linecap="round"/><path d="M8.39,0 C10.59,-1.95 14.27,-3.89 18.39,-3.7 C21.62,-3.31 23.1,-1.56 23.1,0 C23.1,1.56 21.62,3.31 18.39,3.7 C14.27,3.89 10.59,1.95 8.39,0 Z" fill="#93d65a"/><path d="M8.39,0 L21.25,0" stroke="#a5e070" stroke-width="0.5" opacity="0.5"/></g>
<g transform="translate(524.6,409) rotate(1315.29)"><path d="M0,0 L8.03,0" stroke="#5aa233" stroke-width="1.11" stroke-linecap="round"/><path d="M7.03,0 C9.36,-1.86 13.23,-3.72 17.57,-3.53 C20.98,-3.16 22.54,-1.49 22.54,0 C22.54,1.49 20.98,3.16 17.57,3.53 C13.23,3.72 9.36,1.86 7.03,0 Z" fill="#68b83a"/><path d="M7.03,0 L20.73,0" stroke="#a5e070" stroke-width="0.5" opacity="0.5"/></g>
<g transform="translate(524.6,409) rotate(2021.19)"><path d="M0,0 L7.03,0" stroke="#5aa233" stroke-width="0.92" stroke-linecap="round"/><path d="M6.03,0 C8.3,-1.53 12.08,-3.06 16.32,-2.9 C19.65,-2.6 21.16,-1.22 21.16,0 C21.16,1.22 19.65,2.6 16.32,2.9 C12.08,3.06 8.3,1.53 6.03,0 Z" fill="#79c544"/><path d="M6.03,0 L19.47,0" stroke="#a5e070" stroke-width="0.5" opacity="0.5"/></g>
<g transform="translate(524.6,409) rotate(2281.98)"><path d="M0,0 L8.04,0" stroke="#5aa233" stroke-width="0.82" stroke-linecap="round"/><path d="M7.04,0 C9.16,-1.37 12.68,-2.75 16.62,-2.61 C19.72,-2.34 21.13,-1.1 21.13,0 C21.13,1.1 19.72,2.34 16.62,2.61 C12.68,2.75 9.16,1.37 7.04,0 Z" fill="#6cbb3c"/><path d="M7.04,0 L19.44,0" stroke="#a5e070" stroke-width="0.5" opacity="0.5"/></g>
<g transform="translate(524.6,409) rotate(2141.23)"><path d="M0,0 L6.91,0" stroke="#5aa233" stroke-width="0.8" stroke-linecap="round"/><path d="M5.91,0 C7.97,-1.3 11.4,-2.6 15.25,-2.47 C18.27,-2.21 19.64,-1.04 19.64,0 C19.64,1.04 18.27,2.21 15.25,2.47 C11.4,2.6 7.97,1.3 5.91,0 Z" fill="#86ce4e"/><path d="M5.91,0 L18.07,0" stroke="#a5e070" stroke-width="0.5" opacity="0.5"/></g>
<g transform="translate(524.6,409) rotate(2428.52)"><path d="M0,0 L6.14,0" stroke="#5aa233" stroke-width="0.81" stroke-linecap="round"/><path d="M5.14,0 C7.21,-1.35 10.67,-2.7 14.54,-2.57 C17.58,-2.3 18.96,-1.08 18.96,0 C18.96,1.08 17.58,2.3 14.54,2.57 C10.67,2.7 7.21,1.35 5.14,0 Z" fill="#6cbb3c"/><path d="M5.14,0 L17.45,0" stroke="#a5e070" stroke-width="0.5" opacity="0.5"/></g>
<g transform="translate(524.6,409) rotate(2569.39)"><path d="M0,0 L6.53,0" stroke="#5aa233" stroke-width="0.8" stroke-linecap="round"/><path d="M5.53,0 C7.5,-1.33 10.78,-2.66 14.45,-2.53 C17.34,-2.26 18.65,-1.06 18.65,0 C18.65,1.06 17.34,2.26 14.45,2.53 C10.78,2.66 7.5,1.33 5.53,0 Z" fill="#93d65a"/><path d="M5.53,0 L17.16,0" stroke="#a5e070" stroke-width="0.5" opacity="0.5"/></g>
<g transform="translate(524.6,409) rotate(2698.79)"><path d="M0,0 L7.19,0" stroke="#5aa233" stroke-width="0.8" stroke-linecap="round"/><path d="M6.19,0 C8.03,-1.22 11.09,-2.44 14.53,-2.32 C17.23,-2.07 18.45,-0.98 18.45,0 C18.45,0.98 17.23,2.07 14.53,2.32 C11.09,2.44 8.03,1.22 6.19,0 Z" fill="#79c544"/><path d="M6.19,0 L16.98,0" stroke="#a5e070" stroke-width="0.5" opacity="0.5"/></g>
<g transform="translate(524.6,409) rotate(2848.15)"><path d="M0,0 L6.45,0" stroke="#5aa233" stroke-width="0.8" stroke-linecap="round"/><path d="M5.45,0 C6.78,-1.15 9.01,-2.3 11.5,-2.18 C13.46,-1.95 14.35,-0.92 14.35,0 C14.35,0.92 13.46,1.95 11.5,2.18 C9.01,2.3 6.78,1.15 5.45,0 Z" fill="#72be3f"/><path d="M5.45,0 L13.2,0" stroke="#a5e070" stroke-width="0.5" opacity="0.5"/></g>
<circle cx="524.6" cy="409" r="1.6" fill="#7fc948"/>
<g transform="translate(521,404) rotate(47.32)"><path d="M0,0 L9.72,0" stroke="#5aa233" stroke-width="1.15" stroke-linecap="round"/><path d="M8.72,0 C10.97,-1.91 14.71,-3.82 18.9,-3.63 C22.2,-3.25 23.69,-1.53 23.69,0 C23.69,1.53 22.2,3.25 18.9,3.63 C14.71,3.82 10.97,1.91 8.72,0 Z" fill="#5fac35"/><path d="M8.72,0 L21.8,0" stroke="#a5e070" stroke-width="0.5" opacity="0.5"/></g>
<g transform="translate(521,404) rotate(459.99)"><path d="M0,0 L7.44,0" stroke="#5aa233" stroke-width="0.89" stroke-linecap="round"/><path d="M6.44,0 C8.64,-1.49 12.31,-2.98 16.41,-2.83 C19.64,-2.53 21.1,-1.19 21.1,0 C21.1,1.19 19.64,2.53 16.41,2.83 C12.31,2.98 8.64,1.49 6.44,0 Z" fill="#79c544"/><path d="M6.44,0 L19.41,0" stroke="#a5e070" stroke-width="0.5" opacity="0.5"/></g>
<g transform="translate(521,404) rotate(608)"><path d="M0,0 L8.48,0" stroke="#5aa233" stroke-width="0.87" stroke-linecap="round"/><path d="M7.48,0 C9.35,-1.45 12.47,-2.9 15.96,-2.75 C18.7,-2.46 19.95,-1.16 19.95,0 C19.95,1.16 18.7,2.46 15.96,2.75 C12.47,2.9 9.35,1.45 7.48,0 Z" fill="#6cbb3c"/><path d="M7.48,0 L18.35,0" stroke="#a5e070" stroke-width="0.5" opacity="0.5"/></g>
<g transform="translate(521,404) rotate(340.98)"><path d="M0,0 L8.17,0" stroke="#5aa233" stroke-width="0.93" stroke-linecap="round"/><path d="M7.17,0 C9.05,-1.54 12.18,-3.09 15.69,-2.94 C18.44,-2.63 19.7,-1.24 19.7,0 C19.7,1.24 18.44,2.63 15.69,2.94 C12.18,3.09 9.05,1.54 7.17,0 Z" fill="#7fc948"/><path d="M7.17,0 L18.12,0" stroke="#a5e070" stroke-width="0.5" opacity="0.5"/></g>
<g transform="translate(521,404) rotate(751.21)"><path d="M0,0 L6.3,0" stroke="#5aa233" stroke-width="0.97" stroke-linecap="round"/><path d="M5.3,0 C7.44,-1.62 11,-3.23 15,-3.07 C18.14,-2.75 19.56,-1.29 19.56,0 C19.56,1.29 18.14,2.75 15,3.07 C11,3.23 7.44,1.62 5.3,0 Z" fill="#86ce4e"/><path d="M5.3,0 L18,0" stroke="#a5e070" stroke-width="0.5" opacity="0.5"/></g>
<g transform="translate(521,404) rotate(193.39)"><path d="M0,0 L7.21,0" stroke="#5aa233" stroke-width="0.95" stroke-linecap="round"/><path d="M6.21,0 C8.17,-1.58 11.44,-3.16 15.11,-3 C17.98,-2.69 19.29,-1.26 19.29,0 C19.29,1.26 17.98,2.69 15.11,3 C11.44,3.16 8.17,1.58 6.21,0 Z" fill="#72be3f"/><path d="M6.21,0 L17.75,0" stroke="#a5e070" stroke-width="0.5" opacity="0.5"/></g>
<g transform="translate(521,404) rotate(1012.23)"><path d="M0,0 L7.27,0" stroke="#5aa233" stroke-width="0.8" stroke-linecap="round"/><path d="M6.27,0 C7.91,-1.31 10.65,-2.61 13.72,-2.48 C16.13,-2.22 17.23,-1.05 17.23,0 C17.23,1.05 16.13,2.22 13.72,2.48 C10.65,2.61 7.91,1.31 6.27,0 Z" fill="#6cbb3c"/><path d="M6.27,0 L15.85,0" stroke="#a5e070" stroke-width="0.5" opacity="0.5"/></g>
<g transform="translate(521,404) rotate(1157.03)"><path d="M0,0 L5.46,0" stroke="#5aa233" stroke-width="0.87" stroke-linecap="round"/><path d="M4.46,0 C6.3,-1.45 9.35,-2.9 12.77,-2.76 C15.46,-2.47 16.68,-1.16 16.68,0 C16.68,1.16 15.46,2.47 12.77,2.76 C9.35,2.9 6.3,1.45 4.46,0 Z" fill="#93d65a"/><path d="M4.46,0 L15.35,0" stroke="#a5e070" stroke-width="0.5" opacity="0.5"/></g>
<g transform="translate(521,404) rotate(890.06)"><path d="M0,0 L6.24,0" stroke="#5aa233" stroke-width="0.8" stroke-linecap="round"/><path d="M5.24,0 C6.74,-1.2 9.24,-2.4 12.05,-2.28 C14.25,-2.04 15.25,-0.96 15.25,0 C15.25,0.96 14.25,2.04 12.05,2.28 C9.24,2.4 6.74,1.2 5.24,0 Z" fill="#93d65a"/><path d="M5.24,0 L14.03,0" stroke="#a5e070" stroke-width="0.5" opacity="0.5"/></g>
<g transform="translate(521,404) rotate(1307.07)"><path d="M0,0 L5.78,0" stroke="#5aa233" stroke-width="0.8" stroke-linecap="round"/><path d="M4.78,0 C6.1,-1.08 8.31,-2.17 10.78,-2.06 C12.72,-1.84 13.6,-0.87 13.6,0 C13.6,0.87 12.72,1.84 10.78,2.06 C8.31,2.17 6.1,1.08 4.78,0 Z" fill="#68b83a"/><path d="M4.78,0 L12.51,0" stroke="#a5e070" stroke-width="0.5" opacity="0.5"/></g>
<g transform="translate(521,404) rotate(1438.66)"><path d="M0,0 L5.01,0" stroke="#5aa233" stroke-width="0.8" stroke-linecap="round"/><path d="M4.01,0 C5.25,-0.93 7.31,-1.86 9.62,-1.77 C11.44,-1.58 12.26,-0.74 12.26,0 C12.26,0.74 11.44,1.58 9.62,1.77 C7.31,1.86 5.25,0.93 4.01,0 Z" fill="#93d65a"/><path d="M4.01,0 L11.28,0" stroke="#a5e070" stroke-width="0.5" opacity="0.5"/></g>
<circle cx="521" cy="404" r="1.6" fill="#7fc948"/>
<g transform="translate(530,418) rotate(383.27)"><path d="M0,0 L7.4,0" stroke="#5aa233" stroke-width="1.05" stroke-linecap="round"/><path d="M6.4,0 C8.87,-1.75 12.97,-3.51 17.57,-3.33 C21.18,-2.98 22.82,-1.4 22.82,0 C22.82,1.4 21.18,2.98 17.57,3.33 C12.97,3.51 8.87,1.75 6.4,0 Z" fill="#5fac35"/><path d="M6.4,0 L21,0" stroke="#a5e070" stroke-width="0.5" opacity="0.5"/></g>
<g transform="translate(530,418) rotate(507.88)"><path d="M0,0 L7.95,0" stroke="#5aa233" stroke-width="1.03" stroke-linecap="round"/><path d="M6.95,0 C9.14,-1.71 12.8,-3.43 16.89,-3.26 C20.11,-2.92 21.57,-1.37 21.57,0 C21.57,1.37 20.11,2.92 16.89,3.26 C12.8,3.43 9.14,1.71 6.95,0 Z" fill="#9ad960"/><path d="M6.95,0 L19.85,0" stroke="#a5e070" stroke-width="0.5" opacity="0.5"/></g>
<g transform="translate(530,418) rotate(248.64)"><path d="M0,0 L6.94,0" stroke="#5aa233" stroke-width="1.08" stroke-linecap="round"/><path d="M5.94,0 C8.05,-1.8 11.58,-3.59 15.53,-3.41 C18.63,-3.05 20.04,-1.44 20.04,0 C20.04,1.44 18.63,3.05 15.53,3.41 C11.58,3.59 8.05,1.8 5.94,0 Z" fill="#5fac35"/><path d="M5.94,0 L18.44,0" stroke="#a5e070" stroke-width="0.5" opacity="0.5"/></g>
<g transform="translate(530,418) rotate(785.52)"><path d="M0,0 L7.52,0" stroke="#5aa233" stroke-width="0.92" stroke-linecap="round"/><path d="M6.52,0 C8.31,-1.54 11.29,-3.08 14.64,-2.93 C17.26,-2.62 18.46,-1.23 18.46,0 C18.46,1.23 17.26,2.62 14.64,2.93 C11.29,3.08 8.31,1.54 6.52,0 Z" fill="#6cbb3c"/><path d="M6.52,0 L16.98,0" stroke="#a5e070" stroke-width="0.5" opacity="0.5"/></g>
<g transform="translate(530,418) rotate(659.66)"><path d="M0,0 L7.38,0" stroke="#5aa233" stroke-width="0.83" stroke-linecap="round"/><path d="M6.38,0 C8.18,-1.39 11.19,-2.78 14.55,-2.64 C17.2,-2.36 18.4,-1.11 18.4,0 C18.4,1.11 17.2,2.36 14.55,2.64 C11.19,2.78 8.18,1.39 6.38,0 Z" fill="#72be3f"/><path d="M6.38,0 L16.93,0" stroke="#a5e070" stroke-width="0.5" opacity="0.5"/></g>
<g transform="translate(530,418) rotate(1195.23)"><path d="M0,0 L5.91,0" stroke="#5aa233" stroke-width="0.82" stroke-linecap="round"/><path d="M4.91,0 C6.77,-1.37 9.87,-2.73 13.34,-2.6 C16.07,-2.32 17.31,-1.09 17.31,0 C17.31,1.09 16.07,2.32 13.34,2.6 C9.87,2.73 6.77,1.37 4.91,0 Z" fill="#68b83a"/><path d="M4.91,0 L15.92,0" stroke="#a5e070" stroke-width="0.5" opacity="0.5"/></g>
<g transform="translate(530,418) rotate(924.65)"><path d="M0,0 L6.23,0" stroke="#5aa233" stroke-width="0.8" stroke-linecap="round"/><path d="M5.23,0 C6.95,-1.29 9.83,-2.57 13.04,-2.44 C15.57,-2.19 16.72,-1.03 16.72,0 C16.72,1.03 15.57,2.19 13.04,2.44 C9.83,2.57 6.95,1.29 5.23,0 Z" fill="#9ad960"/><path d="M5.23,0 L15.38,0" stroke="#a5e070" stroke-width="0.5" opacity="0.5"/></g>
<g transform="translate(530,418) rotate(1076.09)"><path d="M0,0 L5.71,0" stroke="#5aa233" stroke-width="0.87" stroke-linecap="round"/><path d="M4.71,0 C6.48,-1.46 9.41,-2.91 12.7,-2.77 C15.29,-2.48 16.46,-1.16 16.46,0 C16.46,1.16 15.29,2.48 12.7,2.77 C9.41,2.91 6.48,1.46 4.71,0 Z" fill="#86ce4e"/><path d="M4.71,0 L15.14,0" stroke="#a5e070" stroke-width="0.5" opacity="0.5"/></g>
<g transform="translate(530,418) rotate(1337.33)"><path d="M0,0 L5.81,0" stroke="#5aa233" stroke-width="0.8" stroke-linecap="round"/><path d="M4.81,0 C6.23,-1.04 8.61,-2.09 11.28,-1.98 C13.37,-1.77 14.32,-0.83 14.32,0 C14.32,0.83 13.37,1.77 11.28,1.98 C8.61,2.09 6.23,1.04 4.81,0 Z" fill="#86ce4e"/><path d="M4.81,0 L13.17,0" stroke="#a5e070" stroke-width="0.5" opacity="0.5"/></g>
<g transform="translate(530,418) rotate(1489.62)"><path d="M0,0 L5.83,0" stroke="#5aa233" stroke-width="0.8" stroke-linecap="round"/><path d="M4.83,0 C6.02,-0.99 8,-1.97 10.23,-1.87 C11.97,-1.68 12.76,-0.79 12.76,0 C12.76,0.79 11.97,1.68 10.23,1.87 C8,1.97 6.02,0.99 4.83,0 Z" fill="#68b83a"/><path d="M4.83,0 L11.74,0" stroke="#a5e070" stroke-width="0.5" opacity="0.5"/></g>
<g transform="translate(530,418) rotate(1624.08)"><path d="M0,0 L4.27,0" stroke="#5aa233" stroke-width="0.8" stroke-linecap="round"/><path d="M3.27,0 C4.53,-0.85 6.64,-1.7 8.99,-1.61 C10.84,-1.44 11.69,-0.68 11.69,0 C11.69,0.68 10.84,1.44 8.99,1.61 C6.64,1.7 4.53,0.85 3.27,0 Z" fill="#569f30"/><path d="M3.27,0 L10.75,0" stroke="#a5e070" stroke-width="0.5" opacity="0.5"/></g>
<circle cx="530" cy="418" r="1.6" fill="#7fc948"/>
<g transform="translate(534,406) rotate(-12)"><path d="M0,0 L15.4,0" stroke="#5aa233" stroke-width="1.38" stroke-linecap="round"/><path d="M14.4,0 C17.04,-2.3 21.44,-4.6 26.37,-4.37 C30.24,-3.91 32,-1.84 32,0 C32,1.84 30.24,3.91 26.37,4.37 C21.44,4.6 17.04,2.3 14.4,0 Z" fill="#72c746"/><path d="M14.4,0 L29.44,0" stroke="#a5e070" stroke-width="0.5" opacity="0.5"/><ellipse cx="24.96" cy="0" rx="4.58" ry="2.07" fill="#d9ead6" opacity="0.6"/></g>
<g transform="translate(528,420) rotate(78)"><path d="M0,0 L14.6,0" stroke="#5aa233" stroke-width="1.32" stroke-linecap="round"/><path d="M13.6,0 C16.66,-2.2 21.76,-4.4 27.47,-4.18 C31.96,-3.74 34,-1.76 34,0 C34,1.76 31.96,3.74 27.47,4.18 C21.76,4.4 16.66,2.2 13.6,0 Z" fill="#66bd3e"/><path d="M13.6,0 L31.28,0" stroke="#a5e070" stroke-width="0.5" opacity="0.5"/><ellipse cx="25.84" cy="0" rx="5.3" ry="1.98" fill="#d9ead6" opacity="0.6"/></g>
<g transform="translate(518,402) rotate(-105)"><path d="M0,0 L11.8,0" stroke="#5aa233" stroke-width="1.32" stroke-linecap="round"/><path d="M10.8,0 C13.23,-2.2 17.28,-4.4 21.82,-4.18 C25.38,-3.74 27,-1.76 27,0 C27,1.76 25.38,3.74 21.82,4.18 C17.28,4.4 13.23,2.2 10.8,0 Z" fill="#72c746"/><path d="M10.8,0 L24.84,0" stroke="#a5e070" stroke-width="0.5" opacity="0.5"/><ellipse cx="20.52" cy="0" rx="4.21" ry="1.98" fill="#d9ead6" opacity="0.6"/></g>
<g transform="translate(520,410) rotate(170)"><path d="M0,0 L10.6,0" stroke="#5aa233" stroke-width="1.26" stroke-linecap="round"/><path d="M9.6,0 C11.76,-2.1 15.36,-4.2 19.39,-3.99 C22.56,-3.57 24,-1.68 24,0 C24,1.68 22.56,3.57 19.39,3.99 C15.36,4.2 11.76,2.1 9.6,0 Z" fill="#66bd3e"/><path d="M9.6,0 L22.08,0" stroke="#a5e070" stroke-width="0.5" opacity="0.5"/><ellipse cx="18.24" cy="0" rx="3.74" ry="1.89" fill="#d9ead6" opacity="0.6"/></g>
<g transform="translate(530,414) rotate(25)"><path d="M0,0 L12.34,0" stroke="#5aa233" stroke-width="1.26" stroke-linecap="round"/><path d="M11.34,0 C13.69,-2.1 17.6,-4.2 21.99,-3.99 C25.43,-3.57 27,-1.68 27,0 C27,1.68 25.43,3.57 21.99,3.99 C17.6,4.2 13.69,2.1 11.34,0 Z" fill="#6cc543"/><path d="M11.34,0 L24.84,0" stroke="#a5e070" stroke-width="0.5" opacity="0.5"/></g>
<g transform="translate(530,416) rotate(55)"><path d="M0,0 L11.92,0" stroke="#5aa233" stroke-width="1.26" stroke-linecap="round"/><path d="M10.92,0 C13.18,-2.1 16.95,-4.2 21.17,-3.99 C24.49,-3.57 26,-1.68 26,0 C26,1.68 24.49,3.57 21.17,3.99 C16.95,4.2 13.18,2.1 10.92,0 Z" fill="#62b83b"/><path d="M10.92,0 L23.92,0" stroke="#a5e070" stroke-width="0.5" opacity="0.5"/></g>
<rect x="551.6" y="394.8" width="15.6" height="11.6" fill="none" stroke="#f2f2f2" stroke-width="0.7" stroke-dasharray="1.1 0.9" transform="rotate(0 559.4 400.6)"/>
<rect x="630" y="428" width="41" height="18" rx="2" fill="#17110e"/><rect x="630" y="428" width="41" height="18" rx="2" fill="#fff" filter="url(#soil)"/>
<rect x="628" y="396" width="42" height="30" rx="2" fill="#15100e"/>
<g transform="translate(644,413.4) rotate(-4.88)"><path d="M0,0 L9.32,0" stroke="#5aa233" stroke-width="1.29" stroke-linecap="round"/><path d="M8.32,0 C11.16,-2.15 15.9,-4.29 21.21,-4.08 C25.37,-3.65 27.27,-1.72 27.27,0 C27.27,1.72 25.37,3.65 21.21,4.08 C15.9,4.29 11.16,2.15 8.32,0 Z" fill="#9ad960"/><path d="M8.32,0 L25.09,0" stroke="#a5e070" stroke-width="0.5" opacity="0.5"/></g>
<g transform="translate(644,413.4) rotate(963.68)"><path d="M0,0 L10.24,0" stroke="#5aa233" stroke-width="1.13" stroke-linecap="round"/><path d="M9.24,0 C11.92,-1.88 16.39,-3.76 21.41,-3.57 C25.34,-3.19 27.13,-1.5 27.13,0 C27.13,1.5 25.34,3.19 21.41,3.57 C16.39,3.76 11.92,1.88 9.24,0 Z" fill="#79c544"/><path d="M9.24,0 L24.96,0" stroke="#a5e070" stroke-width="0.5" opacity="0.5"/></g>
<g transform="translate(644,413.4) rotate(553.17)"><path d="M0,0 L10.42,0" stroke="#5aa233" stroke-width="1.3" stroke-linecap="round"/><path d="M9.42,0 C11.83,-2.17 15.86,-4.33 20.36,-4.12 C23.9,-3.68 25.51,-1.73 25.51,0 C25.51,1.73 23.9,3.68 20.36,4.12 C15.86,4.33 11.83,2.17 9.42,0 Z" fill="#72be3f"/><path d="M9.42,0 L23.47,0" stroke="#a5e070" stroke-width="0.5" opacity="0.5"/></g>
<g transform="translate(644,413.4) rotate(1252.81)"><path d="M0,0 L7.9,0" stroke="#5aa233" stroke-width="1.09" stroke-linecap="round"/><path d="M6.9,0 C9.65,-1.82 14.24,-3.64 19.37,-3.46 C23.4,-3.09 25.23,-1.46 25.23,0 C25.23,1.46 23.4,3.09 19.37,3.46 C14.24,3.64 9.65,1.82 6.9,0 Z" fill="#569f30"/><path d="M6.9,0 L23.21,0" stroke="#a5e070" stroke-width="0.5" opacity="0.5"/></g>
<g transform="translate(644,413.4) rotate(133.25)"><path d="M0,0 L9.89,0" stroke="#5aa233" stroke-width="1.04" stroke-linecap="round"/><path d="M8.89,0 C11.31,-1.74 15.33,-3.48 19.83,-3.3 C23.37,-2.96 24.98,-1.39 24.98,0 C24.98,1.39 23.37,2.96 19.83,3.3 C15.33,3.48 11.31,1.74 8.89,0 Z" fill="#569f30"/><path d="M8.89,0 L22.98,0" stroke="#a5e070" stroke-width="0.5" opacity="0.5"/></g>
<g transform="translate(644,413.4) rotate(285.6)"><path d="M0,0 L8.64,0" stroke="#5aa233" stroke-width="1.19" stroke-linecap="round"/><path d="M7.64,0 C10.21,-1.98 14.49,-3.95 19.29,-3.76 C23.06,-3.36 24.77,-1.58 24.77,0 C24.77,1.58 23.06,3.36 19.29,3.76 C14.49,3.95 10.21,1.98 7.64,0 Z" fill="#7fc948"/><path d="M7.64,0 L22.79,0" stroke="#a5e070" stroke-width="0.5" opacity="0.5"/></g>
<g transform="translate(644,413.4) rotate(1372.31)"><path d="M0,0 L9.04,0" stroke="#5aa233" stroke-width="1.25" stroke-linecap="round"/><path d="M8.04,0 C10.52,-2.08 14.66,-4.17 19.28,-3.96 C22.92,-3.54 24.57,-1.67 24.57,0 C24.57,1.67 22.92,3.54 19.28,3.96 C14.66,4.17 10.52,2.08 8.04,0 Z" fill="#68b83a"/><path d="M8.04,0 L22.61,0" stroke="#a5e070" stroke-width="0.5" opacity="0.5"/></g>
<g transform="translate(644,413.4) rotate(1097.63)"><path d="M0,0 L8.13,0" stroke="#5aa233" stroke-width="1.11" stroke-linecap="round"/><path d="M7.13,0 C9.72,-1.85 14.04,-3.71 18.88,-3.52 C22.68,-3.15 24.41,-1.48 24.41,0 C24.41,1.48 22.68,3.15 18.88,3.52 C14.04,3.71 9.72,1.85 7.13,0 Z" fill="#79c544"/><path d="M7.13,0 L22.45,0" stroke="#a5e070" stroke-width="0.5" opacity="0.5"/></g>
<g transform="translate(644,413.4) rotate(420.81)"><path d="M0,0 L10.1,0" stroke="#5aa233" stroke-width="1.1" stroke-linecap="round"/><path d="M9.1,0 C11.38,-1.84 15.16,-3.67 19.41,-3.49 C22.74,-3.12 24.25,-1.47 24.25,0 C24.25,1.47 22.74,3.12 19.41,3.49 C15.16,3.67 11.38,1.84 9.1,0 Z" fill="#79c544"/><path d="M9.1,0 L22.31,0" stroke="#a5e070" stroke-width="0.5" opacity="0.5"/></g>
<g transform="translate(644,413.4) rotate(1505.65)"><path d="M0,0 L8.01,0" stroke="#5aa233" stroke-width="1.15" stroke-linecap="round"/><path d="M7.01,0 C9.47,-1.92 13.56,-3.85 18.13,-3.66 C21.73,-3.27 23.37,-1.54 23.37,0 C23.37,1.54 21.73,3.27 18.13,3.66 C13.56,3.85 9.47,1.92 7.01,0 Z" fill="#569f30"/><path d="M7.01,0 L21.5,0" stroke="#a5e070" stroke-width="0.5" opacity="0.5"/></g>
<g transform="translate(644,413.4) rotate(827.09)"><path d="M0,0 L8.36,0" stroke="#5aa233" stroke-width="1" stroke-linecap="round"/><path d="M7.36,0 C9.74,-1.66 13.71,-3.33 18.15,-3.16 C21.64,-2.83 23.22,-1.33 23.22,0 C23.22,1.33 21.64,2.83 18.15,3.16 C13.71,3.33 9.74,1.66 7.36,0 Z" fill="#86ce4e"/><path d="M7.36,0 L21.36,0" stroke="#a5e070" stroke-width="0.5" opacity="0.5"/></g>
<g transform="translate(644,413.4) rotate(682.15)"><path d="M0,0 L8.54,0" stroke="#5aa233" stroke-width="1.14" stroke-linecap="round"/><path d="M7.54,0 C9.81,-1.9 13.58,-3.79 17.8,-3.6 C21.12,-3.22 22.62,-1.52 22.62,0 C22.62,1.52 21.12,3.22 17.8,3.6 C13.58,3.79 9.81,1.9 7.54,0 Z" fill="#7fc948"/><path d="M7.54,0 L20.81,0" stroke="#a5e070" stroke-width="0.5" opacity="0.5"/></g>
<g transform="translate(644,413.4) rotate(2212.49)"><path d="M0,0 L7.01,0" stroke="#5aa233" stroke-width="1.04" stroke-linecap="round"/><path d="M6.01,0 C8.18,-1.73 11.8,-3.46 15.85,-3.29 C19.03,-2.94 20.48,-1.39 20.48,0 C20.48,1.39 19.03,2.94 15.85,3.29 C11.8,3.46 8.18,1.73 6.01,0 Z" fill="#6cbb3c"/><path d="M6.01,0 L18.84,0" stroke="#a5e070" stroke-width="0.5" opacity="0.5"/></g>
<g transform="translate(644,413.4) rotate(1658.05)"><path d="M0,0 L8.57,0" stroke="#5aa233" stroke-width="0.97" stroke-linecap="round"/><path d="M7.57,0 C9.44,-1.62 12.55,-3.24 16.04,-3.08 C18.79,-2.76 20.03,-1.3 20.03,0 C20.03,1.3 18.79,2.76 16.04,3.08 C12.55,3.24 9.44,1.62 7.57,0 Z" fill="#93d65a"/><path d="M7.57,0 L18.43,0" stroke="#a5e070" stroke-width="0.5" opacity="0.5"/></g>
<g transform="translate(644,413.4) rotate(1797.44)"><path d="M0,0 L7.48,0" stroke="#5aa233" stroke-width="0.9" stroke-linecap="round"/><path d="M6.48,0 C8.4,-1.5 11.6,-3 15.18,-2.85 C18,-2.55 19.27,-1.2 19.27,0 C19.27,1.2 18,2.55 15.18,2.85 C11.6,3 8.4,1.5 6.48,0 Z" fill="#7fc948"/><path d="M6.48,0 L17.73,0" stroke="#a5e070" stroke-width="0.5" opacity="0.5"/></g>
<g transform="translate(644,413.4) rotate(2062.94)"><path d="M0,0 L7.82,0" stroke="#5aa233" stroke-width="0.88" stroke-linecap="round"/><path d="M6.82,0 C8.62,-1.47 11.62,-2.93 14.98,-2.79 C17.62,-2.49 18.82,-1.17 18.82,0 C18.82,1.17 17.62,2.49 14.98,2.79 C11.62,2.93 8.62,1.47 6.82,0 Z" fill="#68b83a"/><path d="M6.82,0 L17.31,0" stroke="#a5e070" stroke-width="0.5" opacity="0.5"/></g>
<g transform="translate(644,413.4) rotate(2353.76)"><path d="M0,0 L6.18,0" stroke="#5aa233" stroke-width="0.8" stroke-linecap="round"/><path d="M5.18,0 C7.21,-1.33 10.6,-2.67 14.4,-2.53 C17.38,-2.27 18.73,-1.07 18.73,0 C18.73,1.07 17.38,2.27 14.4,2.53 C10.6,2.67 7.21,1.33 5.18,0 Z" fill="#7fc948"/><path d="M5.18,0 L17.24,0" stroke="#a5e070" stroke-width="0.5" opacity="0.5"/></g>
<g transform="translate(644,413.4) rotate(1922.68)"><path d="M0,0 L7.13,0" stroke="#5aa233" stroke-width="0.8" stroke-linecap="round"/><path d="M6.13,0 C7.89,-1.28 10.83,-2.56 14.12,-2.44 C16.7,-2.18 17.87,-1.03 17.87,0 C17.87,1.03 16.7,2.18 14.12,2.44 C10.83,2.56 7.89,1.28 6.13,0 Z" fill="#9ad960"/><path d="M6.13,0 L16.44,0" stroke="#a5e070" stroke-width="0.5" opacity="0.5"/></g>
<g transform="translate(644,413.4) rotate(2471.65)"><path d="M0,0 L5.92,0" stroke="#5aa233" stroke-width="0.8" stroke-linecap="round"/><path d="M4.92,0 C6.73,-1.29 9.73,-2.57 13.1,-2.44 C15.74,-2.19 16.94,-1.03 16.94,0 C16.94,1.03 15.74,2.19 13.1,2.44 C9.73,2.57 6.73,1.29 4.92,0 Z" fill="#68b83a"/><path d="M4.92,0 L15.59,0" stroke="#a5e070" stroke-width="0.5" opacity="0.5"/></g>
<g transform="translate(644,413.4) rotate(2621.11)"><path d="M0,0 L5.13,0" stroke="#5aa233" stroke-width="0.8" stroke-linecap="round"/><path d="M4.13,0 C5.56,-0.94 7.95,-1.88 10.62,-1.79 C12.72,-1.6 13.68,-0.75 13.68,0 C13.68,0.75 12.72,1.6 10.62,1.79 C7.95,1.88 5.56,0.94 4.13,0 Z" fill="#7fc948"/><path d="M4.13,0 L12.58,0" stroke="#a5e070" stroke-width="0.5" opacity="0.5"/></g>
<circle cx="644" cy="413.4" r="1.6" fill="#7fc948"/>
<g transform="translate(640,407) rotate(409.17)"><path d="M0,0 L6.89,0" stroke="#5aa233" stroke-width="0.94" stroke-linecap="round"/><path d="M5.89,0 C8.11,-1.57 11.8,-3.14 15.94,-2.98 C19.19,-2.67 20.67,-1.26 20.67,0 C20.67,1.26 19.19,2.67 15.94,2.98 C11.8,3.14 8.11,1.57 5.89,0 Z" fill="#5fac35"/><path d="M5.89,0 L19.01,0" stroke="#a5e070" stroke-width="0.5" opacity="0.5"/></g>
<g transform="translate(640,407) rotate(268.23)"><path d="M0,0 L7.25,0" stroke="#5aa233" stroke-width="0.91" stroke-linecap="round"/><path d="M6.25,0 C8.38,-1.52 11.93,-3.03 15.9,-2.88 C19.03,-2.58 20.45,-1.21 20.45,0 C20.45,1.21 19.03,2.58 15.9,2.88 C11.93,3.03 8.38,1.52 6.25,0 Z" fill="#569f30"/><path d="M6.25,0 L18.81,0" stroke="#a5e070" stroke-width="0.5" opacity="0.5"/></g>
<g transform="translate(640,407) rotate(1.03)"><path d="M0,0 L6.73,0" stroke="#5aa233" stroke-width="0.89" stroke-linecap="round"/><path d="M5.73,0 C7.89,-1.48 11.49,-2.96 15.52,-2.81 C18.69,-2.52 20.13,-1.18 20.13,0 C20.13,1.18 18.69,2.52 15.52,2.81 C11.49,2.96 7.89,1.48 5.73,0 Z" fill="#72be3f"/><path d="M5.73,0 L18.52,0" stroke="#a5e070" stroke-width="0.5" opacity="0.5"/></g>
<g transform="translate(640,407) rotate(692.11)"><path d="M0,0 L7.23,0" stroke="#5aa233" stroke-width="0.9" stroke-linecap="round"/><path d="M6.23,0 C8.18,-1.5 11.41,-2.99 15.04,-2.84 C17.89,-2.54 19.18,-1.2 19.18,0 C19.18,1.2 17.89,2.54 15.04,2.84 C11.41,2.99 8.18,1.5 6.23,0 Z" fill="#72be3f"/><path d="M6.23,0 L17.65,0" stroke="#a5e070" stroke-width="0.5" opacity="0.5"/></g>
<g transform="translate(640,407) rotate(130.61)"><path d="M0,0 L7.94,0" stroke="#5aa233" stroke-width="0.98" stroke-linecap="round"/><path d="M6.94,0 C8.71,-1.64 11.66,-3.27 14.96,-3.11 C17.56,-2.78 18.74,-1.31 18.74,0 C18.74,1.31 17.56,2.78 14.96,3.11 C11.66,3.27 8.71,1.64 6.94,0 Z" fill="#569f30"/><path d="M6.94,0 L17.24,0" stroke="#a5e070" stroke-width="0.5" opacity="0.5"/></g>
<g transform="translate(640,407) rotate(546.44)"><path d="M0,0 L7.36,0" stroke="#5aa233" stroke-width="0.92" stroke-linecap="round"/><path d="M6.36,0 C8.14,-1.53 11.12,-3.06 14.45,-2.91 C17.07,-2.6 18.26,-1.23 18.26,0 C18.26,1.23 17.07,2.6 14.45,2.91 C11.12,3.06 8.14,1.53 6.36,0 Z" fill="#72be3f"/><path d="M6.36,0 L16.8,0" stroke="#a5e070" stroke-width="0.5" opacity="0.5"/></g>
<g transform="translate(640,407) rotate(829.6)"><path d="M0,0 L5.67,0" stroke="#5aa233" stroke-width="0.84" stroke-linecap="round"/><path d="M4.67,0 C6.63,-1.4 9.88,-2.8 13.53,-2.66 C16.4,-2.38 17.7,-1.12 17.7,0 C17.7,1.12 16.4,2.38 13.53,2.66 C9.88,2.8 6.63,1.4 4.67,0 Z" fill="#68b83a"/><path d="M4.67,0 L16.28,0" stroke="#a5e070" stroke-width="0.5" opacity="0.5"/></g>
<g transform="translate(640,407) rotate(1094.99)"><path d="M0,0 L6.72,0" stroke="#5aa233" stroke-width="0.81" stroke-linecap="round"/><path d="M5.72,0 C7.25,-1.35 9.8,-2.7 12.65,-2.57 C14.89,-2.3 15.91,-1.08 15.91,0 C15.91,1.08 14.89,2.3 12.65,2.57 C9.8,2.7 7.25,1.35 5.72,0 Z" fill="#9ad960"/><path d="M5.72,0 L14.64,0" stroke="#a5e070" stroke-width="0.5" opacity="0.5"/></g>
<g transform="translate(640,407) rotate(971.74)"><path d="M0,0 L5.6,0" stroke="#5aa233" stroke-width="0.8" stroke-linecap="round"/><path d="M4.6,0 C6.28,-1.15 9.07,-2.3 12.21,-2.18 C14.67,-1.95 15.79,-0.92 15.79,0 C15.79,0.92 14.67,1.95 12.21,2.18 C9.07,2.3 6.28,1.15 4.6,0 Z" fill="#72be3f"/><path d="M4.6,0 L14.53,0" stroke="#a5e070" stroke-width="0.5" opacity="0.5"/></g>
<g transform="translate(640,407) rotate(1252.15)"><path d="M0,0 L5.49,0" stroke="#5aa233" stroke-width="0.8" stroke-linecap="round"/><path d="M4.49,0 C5.97,-1.17 8.44,-2.35 11.21,-2.23 C13.39,-1.99 14.38,-0.94 14.38,0 C14.38,0.94 13.39,1.99 11.21,2.23 C8.44,2.35 5.97,1.17 4.49,0 Z" fill="#569f30"/><path d="M4.49,0 L13.23,0" stroke="#a5e070" stroke-width="0.5" opacity="0.5"/></g>
<g transform="translate(640,407) rotate(1371.02)"><path d="M0,0 L4.81,0" stroke="#5aa233" stroke-width="0.8" stroke-linecap="round"/><path d="M3.81,0 C5.24,-0.97 7.63,-1.93 10.3,-1.84 C12.41,-1.64 13.36,-0.77 13.36,0 C13.36,0.77 12.41,1.64 10.3,1.84 C7.63,1.93 5.24,0.97 3.81,0 Z" fill="#93d65a"/><path d="M3.81,0 L12.29,0" stroke="#a5e070" stroke-width="0.5" opacity="0.5"/></g>
<circle cx="640" cy="407" r="1.6" fill="#7fc948"/>
<g transform="translate(650,421) rotate(10.66)"><path d="M0,0 L8.58,0" stroke="#5aa233" stroke-width="1" stroke-linecap="round"/><path d="M7.58,0 C9.79,-1.67 13.46,-3.33 17.58,-3.17 C20.81,-2.83 22.28,-1.33 22.28,0 C22.28,1.33 20.81,2.83 17.58,3.17 C13.46,3.33 9.79,1.67 7.58,0 Z" fill="#79c544"/><path d="M7.58,0 L20.5,0" stroke="#a5e070" stroke-width="0.5" opacity="0.5"/></g>
<g transform="translate(650,421) rotate(433.75)"><path d="M0,0 L6.27,0" stroke="#5aa233" stroke-width="1.06" stroke-linecap="round"/><path d="M5.27,0 C7.49,-1.76 11.2,-3.53 15.34,-3.35 C18.6,-3 20.09,-1.41 20.09,0 C20.09,1.41 18.6,3 15.34,3.35 C11.2,3.53 7.49,1.76 5.27,0 Z" fill="#569f30"/><path d="M5.27,0 L18.48,0" stroke="#a5e070" stroke-width="0.5" opacity="0.5"/></g>
<g transform="translate(650,421) rotate(145.25)"><path d="M0,0 L7.25,0" stroke="#5aa233" stroke-width="1.05" stroke-linecap="round"/><path d="M6.25,0 C8.25,-1.75 11.58,-3.49 15.32,-3.32 C18.25,-2.97 19.59,-1.4 19.59,0 C19.59,1.4 18.25,2.97 15.32,3.32 C11.58,3.49 8.25,1.75 6.25,0 Z" fill="#6cbb3c"/><path d="M6.25,0 L18.02,0" stroke="#a5e070" stroke-width="0.5" opacity="0.5"/></g>
<g transform="translate(650,421) rotate(560.86)"><path d="M0,0 L7.52,0" stroke="#5aa233" stroke-width="0.95" stroke-linecap="round"/><path d="M6.52,0 C8.41,-1.59 11.56,-3.18 15.09,-3.02 C17.86,-2.7 19.13,-1.27 19.13,0 C19.13,1.27 17.86,2.7 15.09,3.02 C11.56,3.18 8.41,1.59 6.52,0 Z" fill="#72be3f"/><path d="M6.52,0 L17.6,0" stroke="#a5e070" stroke-width="0.5" opacity="0.5"/></g>
<g transform="translate(650,421) rotate(277.71)"><path d="M0,0 L7.92,0" stroke="#5aa233" stroke-width="1" stroke-linecap="round"/><path d="M6.92,0 C8.66,-1.66 11.57,-3.32 14.83,-3.15 C17.39,-2.82 18.56,-1.33 18.56,0 C18.56,1.33 17.39,2.82 14.83,3.15 C11.57,3.32 8.66,1.66 6.92,0 Z" fill="#6cbb3c"/><path d="M6.92,0 L17.07,0" stroke="#a5e070" stroke-width="0.5" opacity="0.5"/></g>
<g transform="translate(650,421) rotate(844.41)"><path d="M0,0 L6.39,0" stroke="#5aa233" stroke-width="0.98" stroke-linecap="round"/><path d="M5.39,0 C7.31,-1.63 10.5,-3.26 14.08,-3.09 C16.88,-2.77 18.16,-1.3 18.16,0 C18.16,1.3 16.88,2.77 14.08,3.09 C10.5,3.26 7.31,1.63 5.39,0 Z" fill="#72be3f"/><path d="M5.39,0 L16.71,0" stroke="#a5e070" stroke-width="0.5" opacity="0.5"/></g>
<g transform="translate(650,421) rotate(697.54)"><path d="M0,0 L5.88,0" stroke="#5aa233" stroke-width="0.8" stroke-linecap="round"/><path d="M4.88,0 C6.52,-1.16 9.27,-2.32 12.34,-2.2 C14.75,-1.97 15.85,-0.93 15.85,0 C15.85,0.93 14.75,1.97 12.34,2.2 C9.27,2.32 6.52,1.16 4.88,0 Z" fill="#5fac35"/><path d="M4.88,0 L14.58,0" stroke="#a5e070" stroke-width="0.5" opacity="0.5"/></g>
<g transform="translate(650,421) rotate(1258.97)"><path d="M0,0 L5.99,0" stroke="#5aa233" stroke-width="0.8" stroke-linecap="round"/><path d="M4.99,0 C6.54,-1.14 9.11,-2.29 12,-2.17 C14.26,-1.94 15.29,-0.91 15.29,0 C15.29,0.91 14.26,1.94 12,2.17 C9.11,2.29 6.54,1.14 4.99,0 Z" fill="#569f30"/><path d="M4.99,0 L14.07,0" stroke="#a5e070" stroke-width="0.5" opacity="0.5"/></g>
<g transform="translate(650,421) rotate(969.17)"><path d="M0,0 L6.3,0" stroke="#5aa233" stroke-width="0.8" stroke-linecap="round"/><path d="M5.3,0 C6.76,-1.14 9.2,-2.28 11.93,-2.16 C14.08,-1.94 15.05,-0.91 15.05,0 C15.05,0.91 14.08,1.94 11.93,2.16 C9.2,2.28 6.76,1.14 5.3,0 Z" fill="#569f30"/><path d="M5.3,0 L13.85,0" stroke="#a5e070" stroke-width="0.5" opacity="0.5"/></g>
<g transform="translate(650,421) rotate(1121.36)"><path d="M0,0 L6.03,0" stroke="#5aa233" stroke-width="0.8" stroke-linecap="round"/><path d="M5.03,0 C6.37,-1.07 8.62,-2.13 11.13,-2.03 C13.11,-1.81 14.01,-0.85 14.01,0 C14.01,0.85 13.11,1.81 11.13,2.03 C8.62,2.13 6.37,1.07 5.03,0 Z" fill="#68b83a"/><path d="M5.03,0 L12.89,0" stroke="#a5e070" stroke-width="0.5" opacity="0.5"/></g>
<g transform="translate(650,421) rotate(1378.44)"><path d="M0,0 L5.77,0" stroke="#5aa233" stroke-width="0.8" stroke-linecap="round"/><path d="M4.77,0 C5.96,-1.09 7.95,-2.17 10.17,-2.06 C11.92,-1.84 12.71,-0.87 12.71,0 C12.71,0.87 11.92,1.84 10.17,2.06 C7.95,2.17 5.96,1.09 4.77,0 Z" fill="#569f30"/><path d="M4.77,0 L11.7,0" stroke="#a5e070" stroke-width="0.5" opacity="0.5"/></g>
<circle cx="650" cy="421" r="1.6" fill="#7fc948"/>
<g transform="translate(652,408) rotate(-16)"><path d="M0,0 L13.6,0" stroke="#5aa233" stroke-width="1.26" stroke-linecap="round"/><path d="M12.6,0 C14.91,-2.1 18.76,-4.2 23.07,-3.99 C26.46,-3.57 28,-1.68 28,0 C28,1.68 26.46,3.57 23.07,3.99 C18.76,4.2 14.91,2.1 12.6,0 Z" fill="#72c746"/><path d="M12.6,0 L25.76,0" stroke="#a5e070" stroke-width="0.5" opacity="0.5"/><ellipse cx="21.84" cy="0" rx="4" ry="1.89" fill="#d9ead6" opacity="0.6"/></g>
<g transform="translate(646,420) rotate(100)"><path d="M0,0 L12.6,0" stroke="#5aa233" stroke-width="1.2" stroke-linecap="round"/><path d="M11.6,0 C14.21,-2 18.56,-4 23.43,-3.8 C27.26,-3.4 29,-1.6 29,0 C29,1.6 27.26,3.4 23.43,3.8 C18.56,4 14.21,2 11.6,0 Z" fill="#66bd3e"/><path d="M11.6,0 L26.68,0" stroke="#a5e070" stroke-width="0.5" opacity="0.5"/><ellipse cx="22.04" cy="0" rx="4.52" ry="1.8" fill="#d9ead6" opacity="0.6"/></g>
<g transform="translate(640,410) rotate(-160)"><path d="M0,0 L11.8,0" stroke="#5aa233" stroke-width="1.2" stroke-linecap="round"/><path d="M10.8,0 C13.23,-2 17.28,-4 21.82,-3.8 C25.38,-3.4 27,-1.6 27,0 C27,1.6 25.38,3.4 21.82,3.8 C17.28,4 13.23,2 10.8,0 Z" fill="#6cc543"/><path d="M10.8,0 L24.84,0" stroke="#a5e070" stroke-width="0.5" opacity="0.5"/></g>
<rect x="667.4" y="393.6" width="15.2" height="10.8" fill="none" stroke="#f2f2f2" stroke-width="0.7" stroke-dasharray="1.1 0.9" transform="rotate(0 675 399)"/>
</g>
<rect x="87.6" y="430.6" width="6.4" height="14" fill="none" stroke="#f2f2f2" stroke-width="0.7" stroke-dasharray="1.1 0.9" transform="rotate(-28 90.8 437.6)"/>
<rect x="208.4" y="429.6" width="6.4" height="14" fill="none" stroke="#f2f2f2" stroke-width="0.7" stroke-dasharray="1.1 0.9" transform="rotate(-28 211.6 436.6)"/>
<text x="125" y="365.2" font-size="9.2" text-anchor="middle" fill="#fff" font-weight="normal" font-style="normal" >Mrk-0 WT</text>
<text x="125" y="402.8" font-size="9.2" text-anchor="middle" fill="#fff" font-weight="normal" font-style="normal" >8 h</text>
<text x="120" y="460.2" font-size="9.2" text-anchor="middle" fill="#fff" font-weight="normal" font-style="normal" >Induced</text>
<text x="265" y="366.6" font-size="9.3" text-anchor="start" fill="#fff" font-weight="normal" font-style="normal" >Mrk-0 T<tspan dy="2.05" font-size="5.58">3</tspan><tspan dy="-2.05">[</tspan><tspan font-style="italic">pAlcA::RPW8.1</tspan><tspan dy="-3.07" font-size="5.58">KZ10</tspan><tspan dy="3.07" font-style="italic">-mVenus</tspan> #1]</text>
<text x="351" y="406" font-size="9.2" text-anchor="middle" fill="#fff" font-weight="normal" font-style="normal" >8 h</text>
<text x="350.6" y="457.8" font-size="9.2" text-anchor="middle" fill="#fff" font-weight="normal" font-style="normal" >Uninduced</text>
<text x="500.6" y="368" font-size="9.3" text-anchor="start" fill="#fff" font-weight="normal" font-style="normal" >Mrk-0 T<tspan dy="2.05" font-size="5.58">3</tspan><tspan dy="-2.05">[</tspan><tspan font-style="italic">pAlcA::RPW8.1</tspan><tspan dy="-3.07" font-size="5.58">KZ10</tspan><tspan dy="3.07" font-style="italic">-mVenus</tspan> #1]</text>
<text x="589" y="410.4" font-size="9.2" text-anchor="middle" fill="#fff" font-weight="normal" font-style="normal" >8 h</text>
<text x="592" y="458.8" font-size="9.2" text-anchor="middle" fill="#fff" font-weight="normal" font-style="normal" >Induced</text>
<path d="M100,405.35 H146.2 V402.5 L154.2,406.5 L146.2,410.5 V407.65 H100 Z" fill="#fff"/>
<path d="M326,408.25 H372.2 V405.4 L380.2,409.4 L372.2,413.4 V410.55 H326 Z" fill="#fff"/>
<path d="M570.8,414.25 H601.4 V411.4 L609.4,415.4 L601.4,419.4 V416.55 H570.8 Z" fill="#fff"/>
<circle cx="41" cy="456.6" r="5.6" fill="#0054a6"/>
<text x="41" y="459.55" font-size="8.2" text-anchor="middle" fill="#fff" font-weight="bold" font-style="normal" >1</text>
<circle cx="270" cy="456.4" r="5.6" fill="#0054a6"/>
<text x="270" y="459.35" font-size="8.2" text-anchor="middle" fill="#fff" font-weight="bold" font-style="normal" >2</text>
<circle cx="501" cy="456.2" r="5.6" fill="#0054a6"/>
<text x="501" y="459.15" font-size="8.2" text-anchor="middle" fill="#fff" font-weight="bold" font-style="normal" >3</text>
<text x="2.6" y="498.4" font-size="11" text-anchor="start" fill="#1a1a1a" font-weight="bold" font-style="normal" >h</text>
<text x="239.4" y="498.4" font-size="11" text-anchor="start" fill="#1a1a1a" font-weight="bold" font-style="normal" >i</text>
<text x="473.6" y="499" font-size="11" text-anchor="start" fill="#1a1a1a" font-weight="bold" font-style="normal" >j</text>
<path d="M29.2,504.2 H220.8 V657.8" fill="none" stroke="#555" stroke-width="0.8"/>
<path d="M29.2,504.2 V657.8 H220.8" fill="none" stroke="#222" stroke-width="0.95"/>
<line x1="32.56" y1="657.8" x2="32.56" y2="659.3" stroke="#222" stroke-width="0.55" />
<line x1="35.08" y1="657.8" x2="35.08" y2="659.3" stroke="#222" stroke-width="0.55" />
<line x1="37.31" y1="657.8" x2="37.31" y2="659.3" stroke="#222" stroke-width="0.55" />
<line x1="39.3" y1="657.8" x2="39.3" y2="660.6" stroke="#222" stroke-width="0.7" />
<text x="38.8" y="669.3" font-size="9.2" text-anchor="middle" fill="#2b2b2b">10<tspan dy="-2.9" font-size="6.2">2</tspan></text>
<line x1="52.39" y1="657.8" x2="52.39" y2="659.3" stroke="#222" stroke-width="0.55" />
<line x1="60.05" y1="657.8" x2="60.05" y2="659.3" stroke="#222" stroke-width="0.55" />
<line x1="65.49" y1="657.8" x2="65.49" y2="659.3" stroke="#222" stroke-width="0.55" />
<line x1="69.71" y1="657.8" x2="69.71" y2="659.3" stroke="#222" stroke-width="0.55" />
<line x1="73.15" y1="657.8" x2="73.15" y2="659.3" stroke="#222" stroke-width="0.55" />
<line x1="76.06" y1="657.8" x2="76.06" y2="659.3" stroke="#222" stroke-width="0.55" />
<line x1="78.58" y1="657.8" x2="78.58" y2="659.3" stroke="#222" stroke-width="0.55" />
<line x1="80.81" y1="657.8" x2="80.81" y2="659.3" stroke="#222" stroke-width="0.55" />
<line x1="82.8" y1="657.8" x2="82.8" y2="660.6" stroke="#222" stroke-width="0.7" />
<text x="82.3" y="669.3" font-size="9.2" text-anchor="middle" fill="#2b2b2b">10<tspan dy="-2.9" font-size="6.2">3</tspan></text>
<line x1="95.89" y1="657.8" x2="95.89" y2="659.3" stroke="#222" stroke-width="0.55" />
<line x1="103.55" y1="657.8" x2="103.55" y2="659.3" stroke="#222" stroke-width="0.55" />
<line x1="108.99" y1="657.8" x2="108.99" y2="659.3" stroke="#222" stroke-width="0.55" />
<line x1="113.21" y1="657.8" x2="113.21" y2="659.3" stroke="#222" stroke-width="0.55" />
<line x1="116.65" y1="657.8" x2="116.65" y2="659.3" stroke="#222" stroke-width="0.55" />
<line x1="119.56" y1="657.8" x2="119.56" y2="659.3" stroke="#222" stroke-width="0.55" />
<line x1="122.08" y1="657.8" x2="122.08" y2="659.3" stroke="#222" stroke-width="0.55" />
<line x1="124.31" y1="657.8" x2="124.31" y2="659.3" stroke="#222" stroke-width="0.55" />
<line x1="126.3" y1="657.8" x2="126.3" y2="660.6" stroke="#222" stroke-width="0.7" />
<text x="125.8" y="669.3" font-size="9.2" text-anchor="middle" fill="#2b2b2b">10<tspan dy="-2.9" font-size="6.2">4</tspan></text>
<line x1="139.39" y1="657.8" x2="139.39" y2="659.3" stroke="#222" stroke-width="0.55" />
<line x1="147.05" y1="657.8" x2="147.05" y2="659.3" stroke="#222" stroke-width="0.55" />
<line x1="152.49" y1="657.8" x2="152.49" y2="659.3" stroke="#222" stroke-width="0.55" />
<line x1="156.71" y1="657.8" x2="156.71" y2="659.3" stroke="#222" stroke-width="0.55" />
<line x1="160.15" y1="657.8" x2="160.15" y2="659.3" stroke="#222" stroke-width="0.55" />
<line x1="163.06" y1="657.8" x2="163.06" y2="659.3" stroke="#222" stroke-width="0.55" />
<line x1="165.58" y1="657.8" x2="165.58" y2="659.3" stroke="#222" stroke-width="0.55" />
<line x1="167.81" y1="657.8" x2="167.81" y2="659.3" stroke="#222" stroke-width="0.55" />
<line x1="169.8" y1="657.8" x2="169.8" y2="660.6" stroke="#222" stroke-width="0.7" />
<text x="169.3" y="669.3" font-size="9.2" text-anchor="middle" fill="#2b2b2b">10<tspan dy="-2.9" font-size="6.2">5</tspan></text>
<line x1="182.89" y1="657.8" x2="182.89" y2="659.3" stroke="#222" stroke-width="0.55" />
<line x1="190.55" y1="657.8" x2="190.55" y2="659.3" stroke="#222" stroke-width="0.55" />
<line x1="195.99" y1="657.8" x2="195.99" y2="659.3" stroke="#222" stroke-width="0.55" />
<line x1="200.21" y1="657.8" x2="200.21" y2="659.3" stroke="#222" stroke-width="0.55" />
<line x1="203.65" y1="657.8" x2="203.65" y2="659.3" stroke="#222" stroke-width="0.55" />
<line x1="206.56" y1="657.8" x2="206.56" y2="659.3" stroke="#222" stroke-width="0.55" />
<line x1="209.08" y1="657.8" x2="209.08" y2="659.3" stroke="#222" stroke-width="0.55" />
<line x1="211.31" y1="657.8" x2="211.31" y2="659.3" stroke="#222" stroke-width="0.55" />
<line x1="213.3" y1="657.8" x2="213.3" y2="660.6" stroke="#222" stroke-width="0.7" />
<text x="212.8" y="669.3" font-size="9.2" text-anchor="middle" fill="#2b2b2b">10<tspan dy="-2.9" font-size="6.2">6</tspan></text>
<line x1="27.7" y1="651.56" x2="29.2" y2="651.56" stroke="#222" stroke-width="0.55" />
<line x1="27.7" y1="646.11" x2="29.2" y2="646.11" stroke="#222" stroke-width="0.55" />
<line x1="27.7" y1="641.39" x2="29.2" y2="641.39" stroke="#222" stroke-width="0.55" />
<line x1="27.7" y1="637.22" x2="29.2" y2="637.22" stroke="#222" stroke-width="0.55" />
<line x1="26.4" y1="633.5" x2="29.2" y2="633.5" stroke="#222" stroke-width="0.7" />
<text x="25" y="637.2" font-size="9.2" text-anchor="end" fill="#2b2b2b">10<tspan dy="-2.9" font-size="6.2">4</tspan></text>
<line x1="27.7" y1="609" x2="29.2" y2="609" stroke="#222" stroke-width="0.55" />
<line x1="27.7" y1="594.66" x2="29.2" y2="594.66" stroke="#222" stroke-width="0.55" />
<line x1="27.7" y1="584.49" x2="29.2" y2="584.49" stroke="#222" stroke-width="0.55" />
<line x1="27.7" y1="576.6" x2="29.2" y2="576.6" stroke="#222" stroke-width="0.55" />
<line x1="27.7" y1="570.16" x2="29.2" y2="570.16" stroke="#222" stroke-width="0.55" />
<line x1="27.7" y1="564.71" x2="29.2" y2="564.71" stroke="#222" stroke-width="0.55" />
<line x1="27.7" y1="559.99" x2="29.2" y2="559.99" stroke="#222" stroke-width="0.55" />
<line x1="27.7" y1="555.82" x2="29.2" y2="555.82" stroke="#222" stroke-width="0.55" />
<line x1="26.4" y1="552.1" x2="29.2" y2="552.1" stroke="#222" stroke-width="0.7" />
<text x="25" y="555.8" font-size="9.2" text-anchor="end" fill="#2b2b2b">10<tspan dy="-2.9" font-size="6.2">5</tspan></text>
<line x1="27.7" y1="527.6" x2="29.2" y2="527.6" stroke="#222" stroke-width="0.55" />
<line x1="27.7" y1="513.26" x2="29.2" y2="513.26" stroke="#222" stroke-width="0.55" />
<text x="129" y="681.5" font-size="9.2" text-anchor="middle" fill="#2b2b2b" font-weight="normal" font-style="normal" >Frequency (Hz)</text>
<text transform="translate(11.8,578.4) rotate(-90)" font-size="9.2" text-anchor="middle" fill="#2b2b2b">|Z| (Ω)</text>
<rect x="127.6" y="509.7" width="4" height="4" fill="#c6dbef"/>
<text x="136.6" y="514.7" font-size="8.1" text-anchor="start" fill="#2b2b2b" font-weight="normal" font-style="normal" >1h before induction</text>
<circle cx="129.6" cy="522.2" r="2.5" fill="#9ecae1"/>
<text x="136.6" y="525.2" font-size="8.1" text-anchor="start" fill="#2b2b2b" font-weight="normal" font-style="normal" >2h after induction</text>
<path d="M129.6,529.83 L132.35,534.7 L126.85,534.7 Z" fill="#5da9dd"/>
<text x="136.6" y="535.7" font-size="8.1" text-anchor="start" fill="#2b2b2b" font-weight="normal" font-style="normal" >4h after induction</text>
<path d="M129.6,546.08 L132.35,541.2 L126.85,541.2 Z" fill="#2b85c9"/>
<text x="136.6" y="546.2" font-size="8.1" text-anchor="start" fill="#2b2b2b" font-weight="normal" font-style="normal" >6h after induction</text>
<path d="M129.6,550.58 L132.35,553.7 L129.6,556.83 L126.85,553.7 Z" fill="#0a55a0"/>
<text x="136.6" y="556.7" font-size="8.1" text-anchor="start" fill="#2b2b2b" font-weight="normal" font-style="normal" >8h after induction</text>
<circle cx="37.3" cy="649.4" r="5.6" fill="#0054a6"/>
<text x="37.3" y="652.35" font-size="8.2" text-anchor="middle" fill="#fff" font-weight="bold" font-style="normal" >1</text>
<text x="47.6" y="652.2" font-size="8.3" text-anchor="start" fill="#2b2b2b" font-weight="normal" font-style="normal" >Mrk-0 WT</text>
<rect x="36.57" y="513.52" width="4.16" height="4.16" fill="#c6dbef"/><rect x="40.29" y="515.41" width="4.16" height="4.16" fill="#c6dbef"/><rect x="44" y="517.32" width="4.16" height="4.16" fill="#c6dbef"/><rect x="47.72" y="519.22" width="4.16" height="4.16" fill="#c6dbef"/><rect x="51.44" y="521.08" width="4.16" height="4.16" fill="#c6dbef"/><rect x="55.15" y="522.88" width="4.16" height="4.16" fill="#c6dbef"/><rect x="58.87" y="524.61" width="4.16" height="4.16" fill="#c6dbef"/><rect x="62.58" y="526.28" width="4.16" height="4.16" fill="#c6dbef"/><rect x="66.3" y="527.91" width="4.16" height="4.16" fill="#c6dbef"/><rect x="70.02" y="529.54" width="4.16" height="4.16" fill="#c6dbef"/><rect x="73.73" y="531.14" width="4.16" height="4.16" fill="#c6dbef"/><rect x="77.45" y="532.66" width="4.16" height="4.16" fill="#c6dbef"/><rect x="81.17" y="534.2" width="4.16" height="4.16" fill="#c6dbef"/><rect x="84.88" y="535.84" width="4.16" height="4.16" fill="#c6dbef"/><rect x="88.6" y="537.67" width="4.16" height="4.16" fill="#c6dbef"/><rect x="92.31" y="539.62" width="4.16" height="4.16" fill="#c6dbef"/><rect x="96.03" y="541.7" width="4.16" height="4.16" fill="#c6dbef"/><rect x="99.75" y="543.91" width="4.16" height="4.16" fill="#c6dbef"/><rect x="103.46" y="546.28" width="4.16" height="4.16" fill="#c6dbef"/><rect x="107.18" y="548.85" width="4.16" height="4.16" fill="#c6dbef"/><rect x="110.9" y="551.59" width="4.16" height="4.16" fill="#c6dbef"/><rect x="114.61" y="554.44" width="4.16" height="4.16" fill="#c6dbef"/><rect x="118.33" y="557.34" width="4.16" height="4.16" fill="#c6dbef"/><rect x="122.05" y="560.25" width="4.16" height="4.16" fill="#c6dbef"/><rect x="125.76" y="563.21" width="4.16" height="4.16" fill="#c6dbef"/><rect x="129.48" y="566.3" width="4.16" height="4.16" fill="#c6dbef"/><rect x="133.19" y="569.61" width="4.16" height="4.16" fill="#c6dbef"/><rect x="136.91" y="573.24" width="4.16" height="4.16" fill="#c6dbef"/><rect x="140.63" y="577.02" width="4.16" height="4.16" fill="#c6dbef"/><rect x="144.34" y="580.74" width="4.16" height="4.16" fill="#c6dbef"/><rect x="148.06" y="584.43" width="4.16" height="4.16" fill="#c6dbef"/><rect x="151.78" y="588.11" width="4.16" height="4.16" fill="#c6dbef"/><rect x="155.49" y="591.82" width="4.16" height="4.16" fill="#c6dbef"/><rect x="159.21" y="595.57" width="4.16" height="4.16" fill="#c6dbef"/><rect x="162.92" y="599.39" width="4.16" height="4.16" fill="#c6dbef"/><rect x="166.64" y="603.29" width="4.16" height="4.16" fill="#c6dbef"/><rect x="170.36" y="607.3" width="4.16" height="4.16" fill="#c6dbef"/><rect x="174.07" y="611.39" width="4.16" height="4.16" fill="#c6dbef"/><rect x="177.79" y="615.56" width="4.16" height="4.16" fill="#c6dbef"/><rect x="181.51" y="619.79" width="4.16" height="4.16" fill="#c6dbef"/><rect x="185.22" y="624.08" width="4.16" height="4.16" fill="#c6dbef"/><rect x="188.94" y="628.42" width="4.16" height="4.16" fill="#c6dbef"/><rect x="192.65" y="632.85" width="4.16" height="4.16" fill="#c6dbef"/><rect x="196.37" y="637.38" width="4.16" height="4.16" fill="#c6dbef"/><rect x="200.09" y="641.96" width="4.16" height="4.16" fill="#c6dbef"/><rect x="203.8" y="646.55" width="4.16" height="4.16" fill="#c6dbef"/><rect x="207.52" y="651.12" width="4.16" height="4.16" fill="#c6dbef"/>
<circle cx="38.65" cy="515.4" r="2.6" fill="#9ecae1"/><circle cx="42.37" cy="517.29" r="2.6" fill="#9ecae1"/><circle cx="46.08" cy="519.2" r="2.6" fill="#9ecae1"/><circle cx="49.8" cy="521.1" r="2.6" fill="#9ecae1"/><circle cx="53.52" cy="522.96" r="2.6" fill="#9ecae1"/><circle cx="57.23" cy="524.76" r="2.6" fill="#9ecae1"/><circle cx="60.95" cy="526.49" r="2.6" fill="#9ecae1"/><circle cx="64.66" cy="528.16" r="2.6" fill="#9ecae1"/><circle cx="68.38" cy="529.79" r="2.6" fill="#9ecae1"/><circle cx="72.1" cy="531.42" r="2.6" fill="#9ecae1"/><circle cx="75.81" cy="533.02" r="2.6" fill="#9ecae1"/><circle cx="79.53" cy="534.54" r="2.6" fill="#9ecae1"/><circle cx="83.25" cy="536.08" r="2.6" fill="#9ecae1"/><circle cx="86.96" cy="537.72" r="2.6" fill="#9ecae1"/><circle cx="90.68" cy="539.55" r="2.6" fill="#9ecae1"/><circle cx="94.39" cy="541.5" r="2.6" fill="#9ecae1"/><circle cx="98.11" cy="543.58" r="2.6" fill="#9ecae1"/><circle cx="101.83" cy="545.79" r="2.6" fill="#9ecae1"/><circle cx="105.54" cy="548.16" r="2.6" fill="#9ecae1"/><circle cx="109.26" cy="550.73" r="2.6" fill="#9ecae1"/><circle cx="112.98" cy="553.47" r="2.6" fill="#9ecae1"/><circle cx="116.69" cy="556.32" r="2.6" fill="#9ecae1"/><circle cx="120.41" cy="559.22" r="2.6" fill="#9ecae1"/><circle cx="124.12" cy="562.13" r="2.6" fill="#9ecae1"/><circle cx="127.84" cy="565.09" r="2.6" fill="#9ecae1"/><circle cx="131.56" cy="568.18" r="2.6" fill="#9ecae1"/><circle cx="135.27" cy="571.49" r="2.6" fill="#9ecae1"/><circle cx="138.99" cy="575.12" r="2.6" fill="#9ecae1"/><circle cx="142.71" cy="578.9" r="2.6" fill="#9ecae1"/><circle cx="146.42" cy="582.62" r="2.6" fill="#9ecae1"/><circle cx="150.14" cy="586.31" r="2.6" fill="#9ecae1"/><circle cx="153.86" cy="589.99" r="2.6" fill="#9ecae1"/><circle cx="157.57" cy="593.7" r="2.6" fill="#9ecae1"/><circle cx="161.29" cy="597.45" r="2.6" fill="#9ecae1"/><circle cx="165" cy="601.27" r="2.6" fill="#9ecae1"/><circle cx="168.72" cy="605.17" r="2.6" fill="#9ecae1"/><circle cx="172.44" cy="609.18" r="2.6" fill="#9ecae1"/><circle cx="176.15" cy="613.27" r="2.6" fill="#9ecae1"/><circle cx="179.87" cy="617.44" r="2.6" fill="#9ecae1"/><circle cx="183.59" cy="621.67" r="2.6" fill="#9ecae1"/><circle cx="187.3" cy="625.96" r="2.6" fill="#9ecae1"/><circle cx="191.02" cy="630.3" r="2.6" fill="#9ecae1"/><circle cx="194.73" cy="634.73" r="2.6" fill="#9ecae1"/><circle cx="198.45" cy="639.26" r="2.6" fill="#9ecae1"/><circle cx="202.17" cy="643.84" r="2.6" fill="#9ecae1"/><circle cx="205.88" cy="648.43" r="2.6" fill="#9ecae1"/><circle cx="209.6" cy="653" r="2.6" fill="#9ecae1"/>
<path d="M38.65,512.11 L41.51,517.18 L35.79,517.18 Z" fill="#5da9dd"/><path d="M42.37,514 L45.23,519.07 L39.51,519.07 Z" fill="#5da9dd"/><path d="M46.08,515.91 L48.94,520.98 L43.22,520.98 Z" fill="#5da9dd"/><path d="M49.8,517.81 L52.66,522.88 L46.94,522.88 Z" fill="#5da9dd"/><path d="M53.52,519.67 L56.38,524.74 L50.66,524.74 Z" fill="#5da9dd"/><path d="M57.23,521.47 L60.09,526.54 L54.37,526.54 Z" fill="#5da9dd"/><path d="M60.95,523.2 L63.81,528.27 L58.09,528.27 Z" fill="#5da9dd"/><path d="M64.66,524.87 L67.52,529.94 L61.8,529.94 Z" fill="#5da9dd"/><path d="M68.38,526.5 L71.24,531.57 L65.52,531.57 Z" fill="#5da9dd"/><path d="M72.1,528.13 L74.96,533.2 L69.24,533.2 Z" fill="#5da9dd"/><path d="M75.81,529.73 L78.67,534.8 L72.95,534.8 Z" fill="#5da9dd"/><path d="M79.53,531.25 L82.39,536.32 L76.67,536.32 Z" fill="#5da9dd"/><path d="M83.25,532.79 L86.11,537.86 L80.39,537.86 Z" fill="#5da9dd"/><path d="M86.96,534.43 L89.82,539.5 L84.1,539.5 Z" fill="#5da9dd"/><path d="M90.68,536.26 L93.54,541.33 L87.82,541.33 Z" fill="#5da9dd"/><path d="M94.39,538.21 L97.25,543.28 L91.53,543.28 Z" fill="#5da9dd"/><path d="M98.11,540.29 L100.97,545.36 L95.25,545.36 Z" fill="#5da9dd"/><path d="M101.83,542.5 L104.69,547.57 L98.97,547.57 Z" fill="#5da9dd"/><path d="M105.54,544.87 L108.4,549.94 L102.68,549.94 Z" fill="#5da9dd"/><path d="M109.26,547.44 L112.12,552.51 L106.4,552.51 Z" fill="#5da9dd"/><path d="M112.98,550.18 L115.84,555.25 L110.12,555.25 Z" fill="#5da9dd"/><path d="M116.69,553.03 L119.55,558.1 L113.83,558.1 Z" fill="#5da9dd"/><path d="M120.41,555.93 L123.27,561 L117.55,561 Z" fill="#5da9dd"/><path d="M124.12,558.84 L126.98,563.91 L121.27,563.91 Z" fill="#5da9dd"/><path d="M127.84,561.8 L130.7,566.87 L124.98,566.87 Z" fill="#5da9dd"/><path d="M131.56,564.89 L134.42,569.96 L128.7,569.96 Z" fill="#5da9dd"/><path d="M135.27,568.2 L138.13,573.27 L132.41,573.27 Z" fill="#5da9dd"/><path d="M138.99,571.83 L141.85,576.9 L136.13,576.9 Z" fill="#5da9dd"/><path d="M142.71,575.61 L145.57,580.68 L139.85,580.68 Z" fill="#5da9dd"/><path d="M146.42,579.33 L149.28,584.4 L143.56,584.4 Z" fill="#5da9dd"/><path d="M150.14,583.02 L153,588.09 L147.28,588.09 Z" fill="#5da9dd"/><path d="M153.86,586.7 L156.72,591.77 L151,591.77 Z" fill="#5da9dd"/><path d="M157.57,590.41 L160.43,595.48 L154.71,595.48 Z" fill="#5da9dd"/><path d="M161.29,594.16 L164.15,599.23 L158.43,599.23 Z" fill="#5da9dd"/><path d="M165,597.98 L167.86,603.05 L162.14,603.05 Z" fill="#5da9dd"/><path d="M168.72,601.88 L171.58,606.95 L165.86,606.95 Z" fill="#5da9dd"/><path d="M172.44,605.89 L175.3,610.96 L169.58,610.96 Z" fill="#5da9dd"/><path d="M176.15,609.98 L179.01,615.05 L173.29,615.05 Z" fill="#5da9dd"/><path d="M179.87,614.15 L182.73,619.22 L177.01,619.22 Z" fill="#5da9dd"/><path d="M183.59,618.38 L186.45,623.45 L180.73,623.45 Z" fill="#5da9dd"/><path d="M187.3,622.67 L190.16,627.74 L184.44,627.74 Z" fill="#5da9dd"/><path d="M191.02,627.01 L193.88,632.08 L188.16,632.08 Z" fill="#5da9dd"/><path d="M194.73,631.44 L197.59,636.51 L191.87,636.51 Z" fill="#5da9dd"/><path d="M198.45,635.97 L201.31,641.04 L195.59,641.04 Z" fill="#5da9dd"/><path d="M202.17,640.55 L205.03,645.62 L199.31,645.62 Z" fill="#5da9dd"/><path d="M205.88,645.14 L208.74,650.21 L203.02,650.21 Z" fill="#5da9dd"/><path d="M209.6,649.71 L212.46,654.78 L206.74,654.78 Z" fill="#5da9dd"/>
<path d="M38.65,517.99 L41.51,512.92 L35.79,512.92 Z" fill="#2b85c9"/><path d="M42.37,519.88 L45.23,514.81 L39.51,514.81 Z" fill="#2b85c9"/><path d="M46.08,521.79 L48.94,516.72 L43.22,516.72 Z" fill="#2b85c9"/><path d="M49.8,523.69 L52.66,518.62 L46.94,518.62 Z" fill="#2b85c9"/><path d="M53.52,525.55 L56.38,520.48 L50.66,520.48 Z" fill="#2b85c9"/><path d="M57.23,527.35 L60.09,522.28 L54.37,522.28 Z" fill="#2b85c9"/><path d="M60.95,529.08 L63.81,524.01 L58.09,524.01 Z" fill="#2b85c9"/><path d="M64.66,530.75 L67.52,525.68 L61.8,525.68 Z" fill="#2b85c9"/><path d="M68.38,532.38 L71.24,527.31 L65.52,527.31 Z" fill="#2b85c9"/><path d="M72.1,534.01 L74.96,528.94 L69.24,528.94 Z" fill="#2b85c9"/><path d="M75.81,535.61 L78.67,530.54 L72.95,530.54 Z" fill="#2b85c9"/><path d="M79.53,537.13 L82.39,532.06 L76.67,532.06 Z" fill="#2b85c9"/><path d="M83.25,538.67 L86.11,533.6 L80.39,533.6 Z" fill="#2b85c9"/><path d="M86.96,540.31 L89.82,535.24 L84.1,535.24 Z" fill="#2b85c9"/><path d="M90.68,542.14 L93.54,537.07 L87.82,537.07 Z" fill="#2b85c9"/><path d="M94.39,544.09 L97.25,539.02 L91.53,539.02 Z" fill="#2b85c9"/><path d="M98.11,546.17 L100.97,541.1 L95.25,541.1 Z" fill="#2b85c9"/><path d="M101.83,548.38 L104.69,543.31 L98.97,543.31 Z" fill="#2b85c9"/><path d="M105.54,550.75 L108.4,545.68 L102.68,545.68 Z" fill="#2b85c9"/><path d="M109.26,553.32 L112.12,548.25 L106.4,548.25 Z" fill="#2b85c9"/><path d="M112.98,556.06 L115.84,550.99 L110.12,550.99 Z" fill="#2b85c9"/><path d="M116.69,558.91 L119.55,553.84 L113.83,553.84 Z" fill="#2b85c9"/><path d="M120.41,561.81 L123.27,556.74 L117.55,556.74 Z" fill="#2b85c9"/><path d="M124.12,564.72 L126.98,559.65 L121.27,559.65 Z" fill="#2b85c9"/><path d="M127.84,567.68 L130.7,562.61 L124.98,562.61 Z" fill="#2b85c9"/><path d="M131.56,570.77 L134.42,565.7 L128.7,565.7 Z" fill="#2b85c9"/><path d="M135.27,574.08 L138.13,569.01 L132.41,569.01 Z" fill="#2b85c9"/><path d="M138.99,577.71 L141.85,572.64 L136.13,572.64 Z" fill="#2b85c9"/><path d="M142.71,581.49 L145.57,576.42 L139.85,576.42 Z" fill="#2b85c9"/><path d="M146.42,585.21 L149.28,580.14 L143.56,580.14 Z" fill="#2b85c9"/><path d="M150.14,588.9 L153,583.83 L147.28,583.83 Z" fill="#2b85c9"/><path d="M153.86,592.58 L156.72,587.51 L151,587.51 Z" fill="#2b85c9"/><path d="M157.57,596.29 L160.43,591.22 L154.71,591.22 Z" fill="#2b85c9"/><path d="M161.29,600.04 L164.15,594.97 L158.43,594.97 Z" fill="#2b85c9"/><path d="M165,603.86 L167.86,598.79 L162.14,598.79 Z" fill="#2b85c9"/><path d="M168.72,607.76 L171.58,602.69 L165.86,602.69 Z" fill="#2b85c9"/><path d="M172.44,611.77 L175.3,606.7 L169.58,606.7 Z" fill="#2b85c9"/><path d="M176.15,615.86 L179.01,610.79 L173.29,610.79 Z" fill="#2b85c9"/><path d="M179.87,620.03 L182.73,614.96 L177.01,614.96 Z" fill="#2b85c9"/><path d="M183.59,624.26 L186.45,619.19 L180.73,619.19 Z" fill="#2b85c9"/><path d="M187.3,628.55 L190.16,623.48 L184.44,623.48 Z" fill="#2b85c9"/><path d="M191.02,632.89 L193.88,627.82 L188.16,627.82 Z" fill="#2b85c9"/><path d="M194.73,637.32 L197.59,632.25 L191.87,632.25 Z" fill="#2b85c9"/><path d="M198.45,641.85 L201.31,636.78 L195.59,636.78 Z" fill="#2b85c9"/><path d="M202.17,646.43 L205.03,641.36 L199.31,641.36 Z" fill="#2b85c9"/><path d="M205.88,651.02 L208.74,645.95 L203.02,645.95 Z" fill="#2b85c9"/><path d="M209.6,655.59 L212.46,650.52 L206.74,650.52 Z" fill="#2b85c9"/>
<path d="M38.65,511.55 L41.51,514.8 L38.65,518.05 L35.79,514.8 Z" fill="#0a55a0"/><path d="M42.37,513.44 L45.23,516.69 L42.37,519.94 L39.51,516.69 Z" fill="#0a55a0"/><path d="M46.08,515.35 L48.94,518.6 L46.08,521.85 L43.22,518.6 Z" fill="#0a55a0"/><path d="M49.8,517.25 L52.66,520.5 L49.8,523.75 L46.94,520.5 Z" fill="#0a55a0"/><path d="M53.52,519.11 L56.38,522.36 L53.52,525.61 L50.66,522.36 Z" fill="#0a55a0"/><path d="M57.23,520.91 L60.09,524.16 L57.23,527.41 L54.37,524.16 Z" fill="#0a55a0"/><path d="M60.95,522.64 L63.81,525.89 L60.95,529.14 L58.09,525.89 Z" fill="#0a55a0"/><path d="M64.66,524.31 L67.52,527.56 L64.66,530.81 L61.8,527.56 Z" fill="#0a55a0"/><path d="M68.38,525.94 L71.24,529.19 L68.38,532.44 L65.52,529.19 Z" fill="#0a55a0"/><path d="M72.1,527.57 L74.96,530.82 L72.1,534.07 L69.24,530.82 Z" fill="#0a55a0"/><path d="M75.81,529.17 L78.67,532.42 L75.81,535.67 L72.95,532.42 Z" fill="#0a55a0"/><path d="M79.53,530.69 L82.39,533.94 L79.53,537.19 L76.67,533.94 Z" fill="#0a55a0"/><path d="M83.25,532.23 L86.11,535.48 L83.25,538.73 L80.39,535.48 Z" fill="#0a55a0"/><path d="M86.96,533.87 L89.82,537.12 L86.96,540.37 L84.1,537.12 Z" fill="#0a55a0"/><path d="M90.68,535.7 L93.54,538.95 L90.68,542.2 L87.82,538.95 Z" fill="#0a55a0"/><path d="M94.39,537.65 L97.25,540.9 L94.39,544.15 L91.53,540.9 Z" fill="#0a55a0"/><path d="M98.11,539.73 L100.97,542.98 L98.11,546.23 L95.25,542.98 Z" fill="#0a55a0"/><path d="M101.83,541.94 L104.69,545.19 L101.83,548.44 L98.97,545.19 Z" fill="#0a55a0"/><path d="M105.54,544.31 L108.4,547.56 L105.54,550.81 L102.68,547.56 Z" fill="#0a55a0"/><path d="M109.26,546.88 L112.12,550.13 L109.26,553.38 L106.4,550.13 Z" fill="#0a55a0"/><path d="M112.98,549.62 L115.84,552.87 L112.98,556.12 L110.12,552.87 Z" fill="#0a55a0"/><path d="M116.69,552.47 L119.55,555.72 L116.69,558.97 L113.83,555.72 Z" fill="#0a55a0"/><path d="M120.41,555.37 L123.27,558.62 L120.41,561.87 L117.55,558.62 Z" fill="#0a55a0"/><path d="M124.12,558.28 L126.98,561.53 L124.12,564.78 L121.27,561.53 Z" fill="#0a55a0"/><path d="M127.84,561.24 L130.7,564.49 L127.84,567.74 L124.98,564.49 Z" fill="#0a55a0"/><path d="M131.56,564.33 L134.42,567.58 L131.56,570.83 L128.7,567.58 Z" fill="#0a55a0"/><path d="M135.27,567.64 L138.13,570.89 L135.27,574.14 L132.41,570.89 Z" fill="#0a55a0"/><path d="M138.99,571.27 L141.85,574.52 L138.99,577.77 L136.13,574.52 Z" fill="#0a55a0"/><path d="M142.71,575.05 L145.57,578.3 L142.71,581.55 L139.85,578.3 Z" fill="#0a55a0"/><path d="M146.42,578.77 L149.28,582.02 L146.42,585.27 L143.56,582.02 Z" fill="#0a55a0"/><path d="M150.14,582.46 L153,585.71 L150.14,588.96 L147.28,585.71 Z" fill="#0a55a0"/><path d="M153.86,586.14 L156.72,589.39 L153.86,592.64 L151,589.39 Z" fill="#0a55a0"/><path d="M157.57,589.85 L160.43,593.1 L157.57,596.35 L154.71,593.1 Z" fill="#0a55a0"/><path d="M161.29,593.6 L164.15,596.85 L161.29,600.1 L158.43,596.85 Z" fill="#0a55a0"/><path d="M165,597.42 L167.86,600.67 L165,603.92 L162.14,600.67 Z" fill="#0a55a0"/><path d="M168.72,601.32 L171.58,604.57 L168.72,607.82 L165.86,604.57 Z" fill="#0a55a0"/><path d="M172.44,605.33 L175.3,608.58 L172.44,611.83 L169.58,608.58 Z" fill="#0a55a0"/><path d="M176.15,609.42 L179.01,612.67 L176.15,615.92 L173.29,612.67 Z" fill="#0a55a0"/><path d="M179.87,613.59 L182.73,616.84 L179.87,620.09 L177.01,616.84 Z" fill="#0a55a0"/><path d="M183.59,617.82 L186.45,621.07 L183.59,624.32 L180.73,621.07 Z" fill="#0a55a0"/><path d="M187.3,622.11 L190.16,625.36 L187.3,628.61 L184.44,625.36 Z" fill="#0a55a0"/><path d="M191.02,626.45 L193.88,629.7 L191.02,632.95 L188.16,629.7 Z" fill="#0a55a0"/><path d="M194.73,630.88 L197.59,634.13 L194.73,637.38 L191.87,634.13 Z" fill="#0a55a0"/><path d="M198.45,635.41 L201.31,638.66 L198.45,641.91 L195.59,638.66 Z" fill="#0a55a0"/><path d="M202.17,639.99 L205.03,643.24 L202.17,646.49 L199.31,643.24 Z" fill="#0a55a0"/><path d="M205.88,644.58 L208.74,647.83 L205.88,651.08 L203.02,647.83 Z" fill="#0a55a0"/><path d="M209.6,649.15 L212.46,652.4 L209.6,655.65 L206.74,652.4 Z" fill="#0a55a0"/>
<path d="M257.7,503.9 H449.9 V657.9" fill="none" stroke="#555" stroke-width="0.8"/>
<path d="M257.7,503.9 V657.9 H449.9" fill="none" stroke="#222" stroke-width="0.95"/>
<line x1="260.52" y1="657.9" x2="260.52" y2="659.4" stroke="#222" stroke-width="0.55" />
<line x1="263.06" y1="657.9" x2="263.06" y2="659.4" stroke="#222" stroke-width="0.55" />
<line x1="265.3" y1="657.9" x2="265.3" y2="659.4" stroke="#222" stroke-width="0.55" />
<line x1="267.3" y1="657.9" x2="267.3" y2="660.7" stroke="#222" stroke-width="0.7" />
<text x="266.8" y="669.3" font-size="9.2" text-anchor="middle" fill="#2b2b2b">10<tspan dy="-2.9" font-size="6.2">2</tspan></text>
<line x1="280.47" y1="657.9" x2="280.47" y2="659.4" stroke="#222" stroke-width="0.55" />
<line x1="288.17" y1="657.9" x2="288.17" y2="659.4" stroke="#222" stroke-width="0.55" />
<line x1="293.64" y1="657.9" x2="293.64" y2="659.4" stroke="#222" stroke-width="0.55" />
<line x1="297.88" y1="657.9" x2="297.88" y2="659.4" stroke="#222" stroke-width="0.55" />
<line x1="301.34" y1="657.9" x2="301.34" y2="659.4" stroke="#222" stroke-width="0.55" />
<line x1="304.27" y1="657.9" x2="304.27" y2="659.4" stroke="#222" stroke-width="0.55" />
<line x1="306.81" y1="657.9" x2="306.81" y2="659.4" stroke="#222" stroke-width="0.55" />
<line x1="309.05" y1="657.9" x2="309.05" y2="659.4" stroke="#222" stroke-width="0.55" />
<line x1="311.05" y1="657.9" x2="311.05" y2="660.7" stroke="#222" stroke-width="0.7" />
<text x="310.55" y="669.3" font-size="9.2" text-anchor="middle" fill="#2b2b2b">10<tspan dy="-2.9" font-size="6.2">3</tspan></text>
<line x1="324.22" y1="657.9" x2="324.22" y2="659.4" stroke="#222" stroke-width="0.55" />
<line x1="331.92" y1="657.9" x2="331.92" y2="659.4" stroke="#222" stroke-width="0.55" />
<line x1="337.39" y1="657.9" x2="337.39" y2="659.4" stroke="#222" stroke-width="0.55" />
<line x1="341.63" y1="657.9" x2="341.63" y2="659.4" stroke="#222" stroke-width="0.55" />
<line x1="345.09" y1="657.9" x2="345.09" y2="659.4" stroke="#222" stroke-width="0.55" />
<line x1="348.02" y1="657.9" x2="348.02" y2="659.4" stroke="#222" stroke-width="0.55" />
<line x1="350.56" y1="657.9" x2="350.56" y2="659.4" stroke="#222" stroke-width="0.55" />
<line x1="352.8" y1="657.9" x2="352.8" y2="659.4" stroke="#222" stroke-width="0.55" />
<line x1="354.8" y1="657.9" x2="354.8" y2="660.7" stroke="#222" stroke-width="0.7" />
<text x="354.3" y="669.3" font-size="9.2" text-anchor="middle" fill="#2b2b2b">10<tspan dy="-2.9" font-size="6.2">4</tspan></text>
<line x1="367.97" y1="657.9" x2="367.97" y2="659.4" stroke="#222" stroke-width="0.55" />
<line x1="375.67" y1="657.9" x2="375.67" y2="659.4" stroke="#222" stroke-width="0.55" />
<line x1="381.14" y1="657.9" x2="381.14" y2="659.4" stroke="#222" stroke-width="0.55" />
<line x1="385.38" y1="657.9" x2="385.38" y2="659.4" stroke="#222" stroke-width="0.55" />
<line x1="388.84" y1="657.9" x2="388.84" y2="659.4" stroke="#222" stroke-width="0.55" />
<line x1="391.77" y1="657.9" x2="391.77" y2="659.4" stroke="#222" stroke-width="0.55" />
<line x1="394.31" y1="657.9" x2="394.31" y2="659.4" stroke="#222" stroke-width="0.55" />
<line x1="396.55" y1="657.9" x2="396.55" y2="659.4" stroke="#222" stroke-width="0.55" />
<line x1="398.55" y1="657.9" x2="398.55" y2="660.7" stroke="#222" stroke-width="0.7" />
<text x="398.05" y="669.3" font-size="9.2" text-anchor="middle" fill="#2b2b2b">10<tspan dy="-2.9" font-size="6.2">5</tspan></text>
<line x1="411.72" y1="657.9" x2="411.72" y2="659.4" stroke="#222" stroke-width="0.55" />
<line x1="419.42" y1="657.9" x2="419.42" y2="659.4" stroke="#222" stroke-width="0.55" />
<line x1="424.89" y1="657.9" x2="424.89" y2="659.4" stroke="#222" stroke-width="0.55" />
<line x1="429.13" y1="657.9" x2="429.13" y2="659.4" stroke="#222" stroke-width="0.55" />
<line x1="432.59" y1="657.9" x2="432.59" y2="659.4" stroke="#222" stroke-width="0.55" />
<line x1="435.52" y1="657.9" x2="435.52" y2="659.4" stroke="#222" stroke-width="0.55" />
<line x1="438.06" y1="657.9" x2="438.06" y2="659.4" stroke="#222" stroke-width="0.55" />
<line x1="440.3" y1="657.9" x2="440.3" y2="659.4" stroke="#222" stroke-width="0.55" />
<line x1="442.3" y1="657.9" x2="442.3" y2="660.7" stroke="#222" stroke-width="0.7" />
<text x="441.8" y="669.3" font-size="9.2" text-anchor="middle" fill="#2b2b2b">10<tspan dy="-2.9" font-size="6.2">6</tspan></text>
<line x1="256.2" y1="648.35" x2="257.7" y2="648.35" stroke="#222" stroke-width="0.55" />
<line x1="256.2" y1="640.52" x2="257.7" y2="640.52" stroke="#222" stroke-width="0.55" />
<line x1="256.2" y1="634.13" x2="257.7" y2="634.13" stroke="#222" stroke-width="0.55" />
<line x1="256.2" y1="628.72" x2="257.7" y2="628.72" stroke="#222" stroke-width="0.55" />
<line x1="256.2" y1="624.03" x2="257.7" y2="624.03" stroke="#222" stroke-width="0.55" />
<line x1="256.2" y1="619.9" x2="257.7" y2="619.9" stroke="#222" stroke-width="0.55" />
<line x1="254.9" y1="616.2" x2="257.7" y2="616.2" stroke="#222" stroke-width="0.7" />
<text x="253.5" y="619.9" font-size="9.2" text-anchor="end" fill="#2b2b2b">10<tspan dy="-2.9" font-size="6.2">4</tspan></text>
<line x1="256.2" y1="591.88" x2="257.7" y2="591.88" stroke="#222" stroke-width="0.55" />
<line x1="256.2" y1="577.65" x2="257.7" y2="577.65" stroke="#222" stroke-width="0.55" />
<line x1="256.2" y1="567.55" x2="257.7" y2="567.55" stroke="#222" stroke-width="0.55" />
<line x1="256.2" y1="559.72" x2="257.7" y2="559.72" stroke="#222" stroke-width="0.55" />
<line x1="256.2" y1="553.33" x2="257.7" y2="553.33" stroke="#222" stroke-width="0.55" />
<line x1="256.2" y1="547.92" x2="257.7" y2="547.92" stroke="#222" stroke-width="0.55" />
<line x1="256.2" y1="543.23" x2="257.7" y2="543.23" stroke="#222" stroke-width="0.55" />
<line x1="256.2" y1="539.1" x2="257.7" y2="539.1" stroke="#222" stroke-width="0.55" />
<line x1="254.9" y1="535.4" x2="257.7" y2="535.4" stroke="#222" stroke-width="0.7" />
<text x="253.5" y="539.1" font-size="9.2" text-anchor="end" fill="#2b2b2b">10<tspan dy="-2.9" font-size="6.2">5</tspan></text>
<line x1="256.2" y1="511.08" x2="257.7" y2="511.08" stroke="#222" stroke-width="0.55" />
<text x="357.8" y="681.5" font-size="9.2" text-anchor="middle" fill="#2b2b2b" font-weight="normal" font-style="normal" >Frequency (Hz)</text>
<text transform="translate(239.4,578.4) rotate(-90)" font-size="9.2" text-anchor="middle" fill="#2b2b2b">|Z| (Ω)</text>
<rect x="358.8" y="510.9" width="4" height="4" fill="#c6dbef"/>
<text x="368.6" y="515.9" font-size="8.1" text-anchor="start" fill="#2b2b2b" font-weight="normal" font-style="normal" >1h before induction</text>
<circle cx="360.8" cy="523.3" r="2.5" fill="#9ecae1"/>
<text x="368.6" y="526.3" font-size="8.1" text-anchor="start" fill="#2b2b2b" font-weight="normal" font-style="normal" >2h after induction</text>
<path d="M360.8,530.82 L363.55,535.7 L358.05,535.7 Z" fill="#5da9dd"/>
<text x="368.6" y="536.7" font-size="8.1" text-anchor="start" fill="#2b2b2b" font-weight="normal" font-style="normal" >4h after induction</text>
<path d="M360.8,546.98 L363.55,542.1 L358.05,542.1 Z" fill="#2b85c9"/>
<text x="368.6" y="547.1" font-size="8.1" text-anchor="start" fill="#2b2b2b" font-weight="normal" font-style="normal" >6h after induction</text>
<path d="M360.8,551.38 L363.55,554.5 L360.8,557.62 L358.05,554.5 Z" fill="#0a55a0"/>
<text x="368.6" y="557.5" font-size="8.1" text-anchor="start" fill="#2b2b2b" font-weight="normal" font-style="normal" >8h after induction</text>
<circle cx="266.4" cy="649.4" r="5.6" fill="#0054a6"/>
<text x="266.4" y="652.35" font-size="8.2" text-anchor="middle" fill="#fff" font-weight="bold" font-style="normal" >2</text>
<text x="277" y="652.2" font-size="8.15" text-anchor="start" fill="#2b2b2b" font-weight="normal" font-style="normal" >Mrk-0 T<tspan dy="1.79" font-size="4.89">3</tspan><tspan dy="-1.79">[</tspan><tspan font-style="italic">pAlcA::RPW8.1</tspan><tspan dy="-2.69" font-size="4.89">KZ10</tspan><tspan dy="2.69" font-style="italic">-mVenus</tspan> #1]</text>
<rect x="265" y="518.1" width="4" height="4" fill="#c6dbef"/><rect x="268.73" y="519.83" width="4" height="4" fill="#c6dbef"/><rect x="272.46" y="521.56" width="4" height="4" fill="#c6dbef"/><rect x="276.18" y="523.28" width="4" height="4" fill="#c6dbef"/><rect x="279.91" y="524.98" width="4" height="4" fill="#c6dbef"/><rect x="283.64" y="526.66" width="4" height="4" fill="#c6dbef"/><rect x="287.37" y="528.33" width="4" height="4" fill="#c6dbef"/><rect x="291.1" y="530" width="4" height="4" fill="#c6dbef"/><rect x="294.83" y="531.67" width="4" height="4" fill="#c6dbef"/><rect x="298.55" y="533.3" width="4" height="4" fill="#c6dbef"/><rect x="302.28" y="534.94" width="4" height="4" fill="#c6dbef"/><rect x="306.01" y="536.61" width="4" height="4" fill="#c6dbef"/><rect x="309.74" y="538.36" width="4" height="4" fill="#c6dbef"/><rect x="313.47" y="540.17" width="4" height="4" fill="#c6dbef"/><rect x="317.2" y="542.06" width="4" height="4" fill="#c6dbef"/><rect x="320.92" y="544.1" width="4" height="4" fill="#c6dbef"/><rect x="324.65" y="546.3" width="4" height="4" fill="#c6dbef"/><rect x="328.38" y="548.62" width="4" height="4" fill="#c6dbef"/><rect x="332.11" y="551.02" width="4" height="4" fill="#c6dbef"/><rect x="335.84" y="553.45" width="4" height="4" fill="#c6dbef"/><rect x="339.57" y="555.92" width="4" height="4" fill="#c6dbef"/><rect x="343.29" y="558.51" width="4" height="4" fill="#c6dbef"/><rect x="347.02" y="561.32" width="4" height="4" fill="#c6dbef"/><rect x="350.75" y="564.37" width="4" height="4" fill="#c6dbef"/><rect x="354.48" y="567.63" width="4" height="4" fill="#c6dbef"/><rect x="358.21" y="571.06" width="4" height="4" fill="#c6dbef"/><rect x="361.93" y="574.81" width="4" height="4" fill="#c6dbef"/><rect x="365.66" y="578.61" width="4" height="4" fill="#c6dbef"/><rect x="369.39" y="582.44" width="4" height="4" fill="#c6dbef"/><rect x="373.12" y="586.3" width="4" height="4" fill="#c6dbef"/><rect x="376.85" y="590.17" width="4" height="4" fill="#c6dbef"/><rect x="380.58" y="594.05" width="4" height="4" fill="#c6dbef"/><rect x="384.3" y="597.92" width="4" height="4" fill="#c6dbef"/><rect x="388.03" y="601.77" width="4" height="4" fill="#c6dbef"/><rect x="391.76" y="605.59" width="4" height="4" fill="#c6dbef"/><rect x="395.49" y="609.38" width="4" height="4" fill="#c6dbef"/><rect x="399.22" y="613.11" width="4" height="4" fill="#c6dbef"/><rect x="402.95" y="616.79" width="4" height="4" fill="#c6dbef"/><rect x="406.67" y="620.42" width="4" height="4" fill="#c6dbef"/><rect x="410.4" y="624.03" width="4" height="4" fill="#c6dbef"/><rect x="414.13" y="627.61" width="4" height="4" fill="#c6dbef"/><rect x="417.86" y="631.19" width="4" height="4" fill="#c6dbef"/><rect x="421.59" y="634.76" width="4" height="4" fill="#c6dbef"/><rect x="425.32" y="638.31" width="4" height="4" fill="#c6dbef"/><rect x="429.04" y="641.84" width="4" height="4" fill="#c6dbef"/><rect x="432.77" y="645.37" width="4" height="4" fill="#c6dbef"/><rect x="436.5" y="648.9" width="4" height="4" fill="#c6dbef"/>
<circle cx="267" cy="519.9" r="2.5" fill="#9ecae1"/><circle cx="270.73" cy="521.63" r="2.5" fill="#9ecae1"/><circle cx="274.46" cy="523.36" r="2.5" fill="#9ecae1"/><circle cx="278.18" cy="525.08" r="2.5" fill="#9ecae1"/><circle cx="281.91" cy="526.78" r="2.5" fill="#9ecae1"/><circle cx="285.64" cy="528.46" r="2.5" fill="#9ecae1"/><circle cx="289.37" cy="530.13" r="2.5" fill="#9ecae1"/><circle cx="293.1" cy="531.8" r="2.5" fill="#9ecae1"/><circle cx="296.83" cy="533.47" r="2.5" fill="#9ecae1"/><circle cx="300.55" cy="535.1" r="2.5" fill="#9ecae1"/><circle cx="304.28" cy="536.74" r="2.5" fill="#9ecae1"/><circle cx="308.01" cy="538.41" r="2.5" fill="#9ecae1"/><circle cx="311.74" cy="540.16" r="2.5" fill="#9ecae1"/><circle cx="315.47" cy="541.97" r="2.5" fill="#9ecae1"/><circle cx="319.2" cy="543.86" r="2.5" fill="#9ecae1"/><circle cx="322.92" cy="545.9" r="2.5" fill="#9ecae1"/><circle cx="326.65" cy="548.1" r="2.5" fill="#9ecae1"/><circle cx="330.38" cy="550.42" r="2.5" fill="#9ecae1"/><circle cx="334.11" cy="552.82" r="2.5" fill="#9ecae1"/><circle cx="337.84" cy="555.25" r="2.5" fill="#9ecae1"/><circle cx="341.57" cy="557.72" r="2.5" fill="#9ecae1"/><circle cx="345.29" cy="560.31" r="2.5" fill="#9ecae1"/><circle cx="349.02" cy="563.12" r="2.5" fill="#9ecae1"/><circle cx="352.75" cy="566.17" r="2.5" fill="#9ecae1"/><circle cx="356.48" cy="569.43" r="2.5" fill="#9ecae1"/><circle cx="360.21" cy="572.86" r="2.5" fill="#9ecae1"/><circle cx="363.93" cy="576.61" r="2.5" fill="#9ecae1"/><circle cx="367.66" cy="580.41" r="2.5" fill="#9ecae1"/><circle cx="371.39" cy="584.24" r="2.5" fill="#9ecae1"/><circle cx="375.12" cy="588.1" r="2.5" fill="#9ecae1"/><circle cx="378.85" cy="591.97" r="2.5" fill="#9ecae1"/><circle cx="382.58" cy="595.85" r="2.5" fill="#9ecae1"/><circle cx="386.3" cy="599.72" r="2.5" fill="#9ecae1"/><circle cx="390.03" cy="603.57" r="2.5" fill="#9ecae1"/><circle cx="393.76" cy="607.39" r="2.5" fill="#9ecae1"/><circle cx="397.49" cy="611.18" r="2.5" fill="#9ecae1"/><circle cx="401.22" cy="614.91" r="2.5" fill="#9ecae1"/><circle cx="404.95" cy="618.59" r="2.5" fill="#9ecae1"/><circle cx="408.67" cy="622.22" r="2.5" fill="#9ecae1"/><circle cx="412.4" cy="625.83" r="2.5" fill="#9ecae1"/><circle cx="416.13" cy="629.41" r="2.5" fill="#9ecae1"/><circle cx="419.86" cy="632.99" r="2.5" fill="#9ecae1"/><circle cx="423.59" cy="636.56" r="2.5" fill="#9ecae1"/><circle cx="427.32" cy="640.11" r="2.5" fill="#9ecae1"/><circle cx="431.04" cy="643.64" r="2.5" fill="#9ecae1"/><circle cx="434.77" cy="647.17" r="2.5" fill="#9ecae1"/><circle cx="438.5" cy="650.7" r="2.5" fill="#9ecae1"/>
<path d="M267,516.72 L269.75,521.6 L264.25,521.6 Z" fill="#5da9dd"/><path d="M270.73,518.46 L273.48,523.33 L267.98,523.33 Z" fill="#5da9dd"/><path d="M274.46,520.19 L277.21,525.06 L271.71,525.06 Z" fill="#5da9dd"/><path d="M278.18,521.91 L280.93,526.78 L275.43,526.78 Z" fill="#5da9dd"/><path d="M281.91,523.6 L284.66,528.48 L279.16,528.48 Z" fill="#5da9dd"/><path d="M285.64,525.29 L288.39,530.16 L282.89,530.16 Z" fill="#5da9dd"/><path d="M289.37,526.96 L292.12,531.83 L286.62,531.83 Z" fill="#5da9dd"/><path d="M293.1,528.63 L295.85,533.5 L290.35,533.5 Z" fill="#5da9dd"/><path d="M296.83,530.29 L299.58,535.17 L294.08,535.17 Z" fill="#5da9dd"/><path d="M300.55,531.93 L303.3,536.8 L297.8,536.8 Z" fill="#5da9dd"/><path d="M304.28,533.56 L307.03,538.44 L301.53,538.44 Z" fill="#5da9dd"/><path d="M308.01,535.24 L310.76,540.11 L305.26,540.11 Z" fill="#5da9dd"/><path d="M311.74,536.98 L314.49,541.86 L308.99,541.86 Z" fill="#5da9dd"/><path d="M315.47,538.79 L318.22,543.67 L312.72,543.67 Z" fill="#5da9dd"/><path d="M319.2,540.68 L321.95,545.56 L316.45,545.56 Z" fill="#5da9dd"/><path d="M322.92,542.72 L325.67,547.6 L320.17,547.6 Z" fill="#5da9dd"/><path d="M326.65,544.92 L329.4,549.8 L323.9,549.8 Z" fill="#5da9dd"/><path d="M330.38,547.25 L333.13,552.12 L327.63,552.12 Z" fill="#5da9dd"/><path d="M334.11,549.65 L336.86,554.52 L331.36,554.52 Z" fill="#5da9dd"/><path d="M337.84,552.08 L340.59,556.95 L335.09,556.95 Z" fill="#5da9dd"/><path d="M341.57,554.54 L344.32,559.42 L338.82,559.42 Z" fill="#5da9dd"/><path d="M345.29,557.13 L348.04,562.01 L342.54,562.01 Z" fill="#5da9dd"/><path d="M349.02,559.94 L351.77,564.82 L346.27,564.82 Z" fill="#5da9dd"/><path d="M352.75,563 L355.5,567.87 L350,567.87 Z" fill="#5da9dd"/><path d="M356.48,566.26 L359.23,571.13 L353.73,571.13 Z" fill="#5da9dd"/><path d="M360.21,569.69 L362.96,574.56 L357.46,574.56 Z" fill="#5da9dd"/><path d="M363.93,573.44 L366.68,578.31 L361.18,578.31 Z" fill="#5da9dd"/><path d="M367.66,577.24 L370.41,582.11 L364.91,582.11 Z" fill="#5da9dd"/><path d="M371.39,581.07 L374.14,585.94 L368.64,585.94 Z" fill="#5da9dd"/><path d="M375.12,584.92 L377.87,589.8 L372.37,589.8 Z" fill="#5da9dd"/><path d="M378.85,588.8 L381.6,593.67 L376.1,593.67 Z" fill="#5da9dd"/><path d="M382.58,592.67 L385.33,597.55 L379.83,597.55 Z" fill="#5da9dd"/><path d="M386.3,596.54 L389.05,601.42 L383.55,601.42 Z" fill="#5da9dd"/><path d="M390.03,600.4 L392.78,605.27 L387.28,605.27 Z" fill="#5da9dd"/><path d="M393.76,604.22 L396.51,609.09 L391.01,609.09 Z" fill="#5da9dd"/><path d="M397.49,608 L400.24,612.88 L394.74,612.88 Z" fill="#5da9dd"/><path d="M401.22,611.74 L403.97,616.61 L398.47,616.61 Z" fill="#5da9dd"/><path d="M404.95,615.42 L407.7,620.29 L402.2,620.29 Z" fill="#5da9dd"/><path d="M408.67,619.05 L411.42,623.92 L405.92,623.92 Z" fill="#5da9dd"/><path d="M412.4,622.65 L415.15,627.53 L409.65,627.53 Z" fill="#5da9dd"/><path d="M416.13,626.24 L418.88,631.11 L413.38,631.11 Z" fill="#5da9dd"/><path d="M419.86,629.81 L422.61,634.69 L417.11,634.69 Z" fill="#5da9dd"/><path d="M423.59,633.38 L426.34,638.26 L420.84,638.26 Z" fill="#5da9dd"/><path d="M427.32,636.93 L430.07,641.81 L424.57,641.81 Z" fill="#5da9dd"/><path d="M431.04,640.46 L433.79,645.34 L428.29,645.34 Z" fill="#5da9dd"/><path d="M434.77,643.99 L437.52,648.87 L432.02,648.87 Z" fill="#5da9dd"/><path d="M438.5,647.52 L441.25,652.4 L435.75,652.4 Z" fill="#5da9dd"/>
<path d="M267,522.38 L269.75,517.5 L264.25,517.5 Z" fill="#2b85c9"/><path d="M270.73,524.11 L273.48,519.23 L267.98,519.23 Z" fill="#2b85c9"/><path d="M274.46,525.84 L277.21,520.96 L271.71,520.96 Z" fill="#2b85c9"/><path d="M278.18,527.56 L280.93,522.68 L275.43,522.68 Z" fill="#2b85c9"/><path d="M281.91,529.25 L284.66,524.38 L279.16,524.38 Z" fill="#2b85c9"/><path d="M285.64,530.94 L288.39,526.06 L282.89,526.06 Z" fill="#2b85c9"/><path d="M289.37,532.61 L292.12,527.73 L286.62,527.73 Z" fill="#2b85c9"/><path d="M293.1,534.28 L295.85,529.4 L290.35,529.4 Z" fill="#2b85c9"/><path d="M296.83,535.94 L299.58,531.07 L294.08,531.07 Z" fill="#2b85c9"/><path d="M300.55,537.58 L303.3,532.7 L297.8,532.7 Z" fill="#2b85c9"/><path d="M304.28,539.21 L307.03,534.34 L301.53,534.34 Z" fill="#2b85c9"/><path d="M308.01,540.89 L310.76,536.01 L305.26,536.01 Z" fill="#2b85c9"/><path d="M311.74,542.63 L314.49,537.76 L308.99,537.76 Z" fill="#2b85c9"/><path d="M315.47,544.44 L318.22,539.57 L312.72,539.57 Z" fill="#2b85c9"/><path d="M319.2,546.33 L321.95,541.46 L316.45,541.46 Z" fill="#2b85c9"/><path d="M322.92,548.37 L325.67,543.5 L320.17,543.5 Z" fill="#2b85c9"/><path d="M326.65,550.57 L329.4,545.7 L323.9,545.7 Z" fill="#2b85c9"/><path d="M330.38,552.9 L333.13,548.02 L327.63,548.02 Z" fill="#2b85c9"/><path d="M334.11,555.3 L336.86,550.42 L331.36,550.42 Z" fill="#2b85c9"/><path d="M337.84,557.73 L340.59,552.85 L335.09,552.85 Z" fill="#2b85c9"/><path d="M341.57,560.19 L344.32,555.32 L338.82,555.32 Z" fill="#2b85c9"/><path d="M345.29,562.78 L348.04,557.91 L342.54,557.91 Z" fill="#2b85c9"/><path d="M349.02,565.59 L351.77,560.72 L346.27,560.72 Z" fill="#2b85c9"/><path d="M352.75,568.65 L355.5,563.77 L350,563.77 Z" fill="#2b85c9"/><path d="M356.48,571.91 L359.23,567.03 L353.73,567.03 Z" fill="#2b85c9"/><path d="M360.21,575.34 L362.96,570.46 L357.46,570.46 Z" fill="#2b85c9"/><path d="M363.93,579.09 L366.68,574.21 L361.18,574.21 Z" fill="#2b85c9"/><path d="M367.66,582.89 L370.41,578.01 L364.91,578.01 Z" fill="#2b85c9"/><path d="M371.39,586.72 L374.14,581.84 L368.64,581.84 Z" fill="#2b85c9"/><path d="M375.12,590.57 L377.87,585.7 L372.37,585.7 Z" fill="#2b85c9"/><path d="M378.85,594.45 L381.6,589.57 L376.1,589.57 Z" fill="#2b85c9"/><path d="M382.58,598.32 L385.33,593.45 L379.83,593.45 Z" fill="#2b85c9"/><path d="M386.3,602.19 L389.05,597.32 L383.55,597.32 Z" fill="#2b85c9"/><path d="M390.03,606.05 L392.78,601.17 L387.28,601.17 Z" fill="#2b85c9"/><path d="M393.76,609.87 L396.51,604.99 L391.01,604.99 Z" fill="#2b85c9"/><path d="M397.49,613.65 L400.24,608.78 L394.74,608.78 Z" fill="#2b85c9"/><path d="M401.22,617.39 L403.97,612.51 L398.47,612.51 Z" fill="#2b85c9"/><path d="M404.95,621.07 L407.7,616.19 L402.2,616.19 Z" fill="#2b85c9"/><path d="M408.67,624.7 L411.42,619.82 L405.92,619.82 Z" fill="#2b85c9"/><path d="M412.4,628.3 L415.15,623.43 L409.65,623.43 Z" fill="#2b85c9"/><path d="M416.13,631.89 L418.88,627.01 L413.38,627.01 Z" fill="#2b85c9"/><path d="M419.86,635.46 L422.61,630.59 L417.11,630.59 Z" fill="#2b85c9"/><path d="M423.59,639.03 L426.34,634.16 L420.84,634.16 Z" fill="#2b85c9"/><path d="M427.32,642.58 L430.07,637.71 L424.57,637.71 Z" fill="#2b85c9"/><path d="M431.04,646.11 L433.79,641.24 L428.29,641.24 Z" fill="#2b85c9"/><path d="M434.77,649.64 L437.52,644.77 L432.02,644.77 Z" fill="#2b85c9"/><path d="M438.5,653.18 L441.25,648.3 L435.75,648.3 Z" fill="#2b85c9"/>
<path d="M267,516.17 L269.75,519.3 L267,522.42 L264.25,519.3 Z" fill="#0a55a0"/><path d="M270.73,517.91 L273.48,521.03 L270.73,524.16 L267.98,521.03 Z" fill="#0a55a0"/><path d="M274.46,519.64 L277.21,522.76 L274.46,525.89 L271.71,522.76 Z" fill="#0a55a0"/><path d="M278.18,521.36 L280.93,524.48 L278.18,527.61 L275.43,524.48 Z" fill="#0a55a0"/><path d="M281.91,523.05 L284.66,526.18 L281.91,529.3 L279.16,526.18 Z" fill="#0a55a0"/><path d="M285.64,524.74 L288.39,527.86 L285.64,530.99 L282.89,527.86 Z" fill="#0a55a0"/><path d="M289.37,526.41 L292.12,529.53 L289.37,532.66 L286.62,529.53 Z" fill="#0a55a0"/><path d="M293.1,528.08 L295.85,531.2 L293.1,534.33 L290.35,531.2 Z" fill="#0a55a0"/><path d="M296.83,529.74 L299.58,532.87 L296.83,535.99 L294.08,532.87 Z" fill="#0a55a0"/><path d="M300.55,531.38 L303.3,534.5 L300.55,537.63 L297.8,534.5 Z" fill="#0a55a0"/><path d="M304.28,533.01 L307.03,536.14 L304.28,539.26 L301.53,536.14 Z" fill="#0a55a0"/><path d="M308.01,534.69 L310.76,537.81 L308.01,540.94 L305.26,537.81 Z" fill="#0a55a0"/><path d="M311.74,536.43 L314.49,539.56 L311.74,542.68 L308.99,539.56 Z" fill="#0a55a0"/><path d="M315.47,538.24 L318.22,541.37 L315.47,544.49 L312.72,541.37 Z" fill="#0a55a0"/><path d="M319.2,540.13 L321.95,543.26 L319.2,546.38 L316.45,543.26 Z" fill="#0a55a0"/><path d="M322.92,542.17 L325.67,545.3 L322.92,548.42 L320.17,545.3 Z" fill="#0a55a0"/><path d="M326.65,544.37 L329.4,547.5 L326.65,550.62 L323.9,547.5 Z" fill="#0a55a0"/><path d="M330.38,546.7 L333.13,549.82 L330.38,552.95 L327.63,549.82 Z" fill="#0a55a0"/><path d="M334.11,549.1 L336.86,552.22 L334.11,555.35 L331.36,552.22 Z" fill="#0a55a0"/><path d="M337.84,551.53 L340.59,554.65 L337.84,557.78 L335.09,554.65 Z" fill="#0a55a0"/><path d="M341.57,553.99 L344.32,557.12 L341.57,560.24 L338.82,557.12 Z" fill="#0a55a0"/><path d="M345.29,556.58 L348.04,559.71 L345.29,562.83 L342.54,559.71 Z" fill="#0a55a0"/><path d="M349.02,559.39 L351.77,562.52 L349.02,565.64 L346.27,562.52 Z" fill="#0a55a0"/><path d="M352.75,562.45 L355.5,565.57 L352.75,568.7 L350,565.57 Z" fill="#0a55a0"/><path d="M356.48,565.71 L359.23,568.83 L356.48,571.96 L353.73,568.83 Z" fill="#0a55a0"/><path d="M360.21,569.14 L362.96,572.26 L360.21,575.39 L357.46,572.26 Z" fill="#0a55a0"/><path d="M363.93,572.89 L366.68,576.01 L363.93,579.14 L361.18,576.01 Z" fill="#0a55a0"/><path d="M367.66,576.69 L370.41,579.81 L367.66,582.94 L364.91,579.81 Z" fill="#0a55a0"/><path d="M371.39,580.52 L374.14,583.64 L371.39,586.77 L368.64,583.64 Z" fill="#0a55a0"/><path d="M375.12,584.37 L377.87,587.5 L375.12,590.62 L372.37,587.5 Z" fill="#0a55a0"/><path d="M378.85,588.25 L381.6,591.37 L378.85,594.5 L376.1,591.37 Z" fill="#0a55a0"/><path d="M382.58,592.12 L385.33,595.25 L382.58,598.37 L379.83,595.25 Z" fill="#0a55a0"/><path d="M386.3,595.99 L389.05,599.12 L386.3,602.24 L383.55,599.12 Z" fill="#0a55a0"/><path d="M390.03,599.85 L392.78,602.97 L390.03,606.1 L387.28,602.97 Z" fill="#0a55a0"/><path d="M393.76,603.67 L396.51,606.79 L393.76,609.92 L391.01,606.79 Z" fill="#0a55a0"/><path d="M397.49,607.45 L400.24,610.58 L397.49,613.7 L394.74,610.58 Z" fill="#0a55a0"/><path d="M401.22,611.19 L403.97,614.31 L401.22,617.44 L398.47,614.31 Z" fill="#0a55a0"/><path d="M404.95,614.87 L407.7,617.99 L404.95,621.12 L402.2,617.99 Z" fill="#0a55a0"/><path d="M408.67,618.5 L411.42,621.62 L408.67,624.75 L405.92,621.62 Z" fill="#0a55a0"/><path d="M412.4,622.1 L415.15,625.23 L412.4,628.35 L409.65,625.23 Z" fill="#0a55a0"/><path d="M416.13,625.69 L418.88,628.81 L416.13,631.94 L413.38,628.81 Z" fill="#0a55a0"/><path d="M419.86,629.26 L422.61,632.39 L419.86,635.51 L417.11,632.39 Z" fill="#0a55a0"/><path d="M423.59,632.83 L426.34,635.96 L423.59,639.08 L420.84,635.96 Z" fill="#0a55a0"/><path d="M427.32,636.38 L430.07,639.51 L427.32,642.63 L424.57,639.51 Z" fill="#0a55a0"/><path d="M431.04,639.91 L433.79,643.04 L431.04,646.16 L428.29,643.04 Z" fill="#0a55a0"/><path d="M434.77,643.44 L437.52,646.57 L434.77,649.69 L432.02,646.57 Z" fill="#0a55a0"/><path d="M438.5,646.98 L441.25,650.1 L438.5,653.23 L435.75,650.1 Z" fill="#0a55a0"/>
<path d="M489.5,503.9 H683.6 V658.2" fill="none" stroke="#555" stroke-width="0.8"/>
<path d="M489.5,503.9 V658.2 H683.6" fill="none" stroke="#222" stroke-width="0.95"/>
<line x1="491.9" y1="658.2" x2="491.9" y2="659.7" stroke="#222" stroke-width="0.55" />
<line x1="494.45" y1="658.2" x2="494.45" y2="659.7" stroke="#222" stroke-width="0.55" />
<line x1="496.69" y1="658.2" x2="496.69" y2="659.7" stroke="#222" stroke-width="0.55" />
<line x1="498.7" y1="658.2" x2="498.7" y2="661" stroke="#222" stroke-width="0.7" />
<text x="498.2" y="669.3" font-size="9.2" text-anchor="middle" fill="#2b2b2b">10<tspan dy="-2.9" font-size="6.2">2</tspan></text>
<line x1="511.92" y1="658.2" x2="511.92" y2="659.7" stroke="#222" stroke-width="0.55" />
<line x1="519.65" y1="658.2" x2="519.65" y2="659.7" stroke="#222" stroke-width="0.55" />
<line x1="525.13" y1="658.2" x2="525.13" y2="659.7" stroke="#222" stroke-width="0.55" />
<line x1="529.38" y1="658.2" x2="529.38" y2="659.7" stroke="#222" stroke-width="0.55" />
<line x1="532.86" y1="658.2" x2="532.86" y2="659.7" stroke="#222" stroke-width="0.55" />
<line x1="535.8" y1="658.2" x2="535.8" y2="659.7" stroke="#222" stroke-width="0.55" />
<line x1="538.35" y1="658.2" x2="538.35" y2="659.7" stroke="#222" stroke-width="0.55" />
<line x1="540.59" y1="658.2" x2="540.59" y2="659.7" stroke="#222" stroke-width="0.55" />
<line x1="542.6" y1="658.2" x2="542.6" y2="661" stroke="#222" stroke-width="0.7" />
<text x="542.1" y="669.3" font-size="9.2" text-anchor="middle" fill="#2b2b2b">10<tspan dy="-2.9" font-size="6.2">3</tspan></text>
<line x1="555.82" y1="658.2" x2="555.82" y2="659.7" stroke="#222" stroke-width="0.55" />
<line x1="563.55" y1="658.2" x2="563.55" y2="659.7" stroke="#222" stroke-width="0.55" />
<line x1="569.03" y1="658.2" x2="569.03" y2="659.7" stroke="#222" stroke-width="0.55" />
<line x1="573.28" y1="658.2" x2="573.28" y2="659.7" stroke="#222" stroke-width="0.55" />
<line x1="576.76" y1="658.2" x2="576.76" y2="659.7" stroke="#222" stroke-width="0.55" />
<line x1="579.7" y1="658.2" x2="579.7" y2="659.7" stroke="#222" stroke-width="0.55" />
<line x1="582.25" y1="658.2" x2="582.25" y2="659.7" stroke="#222" stroke-width="0.55" />
<line x1="584.49" y1="658.2" x2="584.49" y2="659.7" stroke="#222" stroke-width="0.55" />
<line x1="586.5" y1="658.2" x2="586.5" y2="661" stroke="#222" stroke-width="0.7" />
<text x="586" y="669.3" font-size="9.2" text-anchor="middle" fill="#2b2b2b">10<tspan dy="-2.9" font-size="6.2">4</tspan></text>
<line x1="599.72" y1="658.2" x2="599.72" y2="659.7" stroke="#222" stroke-width="0.55" />
<line x1="607.45" y1="658.2" x2="607.45" y2="659.7" stroke="#222" stroke-width="0.55" />
<line x1="612.93" y1="658.2" x2="612.93" y2="659.7" stroke="#222" stroke-width="0.55" />
<line x1="617.18" y1="658.2" x2="617.18" y2="659.7" stroke="#222" stroke-width="0.55" />
<line x1="620.66" y1="658.2" x2="620.66" y2="659.7" stroke="#222" stroke-width="0.55" />
<line x1="623.6" y1="658.2" x2="623.6" y2="659.7" stroke="#222" stroke-width="0.55" />
<line x1="626.15" y1="658.2" x2="626.15" y2="659.7" stroke="#222" stroke-width="0.55" />
<line x1="628.39" y1="658.2" x2="628.39" y2="659.7" stroke="#222" stroke-width="0.55" />
<line x1="630.4" y1="658.2" x2="630.4" y2="661" stroke="#222" stroke-width="0.7" />
<text x="629.9" y="669.3" font-size="9.2" text-anchor="middle" fill="#2b2b2b">10<tspan dy="-2.9" font-size="6.2">5</tspan></text>
<line x1="643.62" y1="658.2" x2="643.62" y2="659.7" stroke="#222" stroke-width="0.55" />
<line x1="651.35" y1="658.2" x2="651.35" y2="659.7" stroke="#222" stroke-width="0.55" />
<line x1="656.83" y1="658.2" x2="656.83" y2="659.7" stroke="#222" stroke-width="0.55" />
<line x1="661.08" y1="658.2" x2="661.08" y2="659.7" stroke="#222" stroke-width="0.55" />
<line x1="664.56" y1="658.2" x2="664.56" y2="659.7" stroke="#222" stroke-width="0.55" />
<line x1="667.5" y1="658.2" x2="667.5" y2="659.7" stroke="#222" stroke-width="0.55" />
<line x1="670.05" y1="658.2" x2="670.05" y2="659.7" stroke="#222" stroke-width="0.55" />
<line x1="672.29" y1="658.2" x2="672.29" y2="659.7" stroke="#222" stroke-width="0.55" />
<line x1="674.3" y1="658.2" x2="674.3" y2="661" stroke="#222" stroke-width="0.7" />
<text x="673.8" y="669.3" font-size="9.2" text-anchor="middle" fill="#2b2b2b">10<tspan dy="-2.9" font-size="6.2">6</tspan></text>
<line x1="488" y1="648.15" x2="489.5" y2="648.15" stroke="#222" stroke-width="0.55" />
<line x1="488" y1="639.13" x2="489.5" y2="639.13" stroke="#222" stroke-width="0.55" />
<line x1="488" y1="632.13" x2="489.5" y2="632.13" stroke="#222" stroke-width="0.55" />
<line x1="488" y1="626.42" x2="489.5" y2="626.42" stroke="#222" stroke-width="0.55" />
<line x1="488" y1="621.58" x2="489.5" y2="621.58" stroke="#222" stroke-width="0.55" />
<line x1="488" y1="617.4" x2="489.5" y2="617.4" stroke="#222" stroke-width="0.55" />
<line x1="488" y1="613.7" x2="489.5" y2="613.7" stroke="#222" stroke-width="0.55" />
<line x1="486.7" y1="610.4" x2="489.5" y2="610.4" stroke="#222" stroke-width="0.7" />
<text x="485.3" y="614.1" font-size="9.2" text-anchor="end" fill="#2b2b2b">10<tspan dy="-2.9" font-size="6.2">4</tspan></text>
<line x1="488" y1="588.67" x2="489.5" y2="588.67" stroke="#222" stroke-width="0.55" />
<line x1="488" y1="575.95" x2="489.5" y2="575.95" stroke="#222" stroke-width="0.55" />
<line x1="488" y1="566.93" x2="489.5" y2="566.93" stroke="#222" stroke-width="0.55" />
<line x1="488" y1="559.93" x2="489.5" y2="559.93" stroke="#222" stroke-width="0.55" />
<line x1="488" y1="554.22" x2="489.5" y2="554.22" stroke="#222" stroke-width="0.55" />
<line x1="488" y1="549.38" x2="489.5" y2="549.38" stroke="#222" stroke-width="0.55" />
<line x1="488" y1="545.2" x2="489.5" y2="545.2" stroke="#222" stroke-width="0.55" />
<line x1="488" y1="541.5" x2="489.5" y2="541.5" stroke="#222" stroke-width="0.55" />
<line x1="486.7" y1="538.2" x2="489.5" y2="538.2" stroke="#222" stroke-width="0.7" />
<text x="485.3" y="541.9" font-size="9.2" text-anchor="end" fill="#2b2b2b">10<tspan dy="-2.9" font-size="6.2">5</tspan></text>
<line x1="488" y1="516.47" x2="489.5" y2="516.47" stroke="#222" stroke-width="0.55" />
<text x="589.8" y="681.5" font-size="9.2" text-anchor="middle" fill="#2b2b2b" font-weight="normal" font-style="normal" >Frequency (Hz)</text>
<text transform="translate(473.6,578.4) rotate(-90)" font-size="9.2" text-anchor="middle" fill="#2b2b2b">|Z| (Ω)</text>
<rect x="590.6" y="508.7" width="4" height="4" fill="#c6dbef"/>
<text x="600.5" y="513.7" font-size="8.1" text-anchor="start" fill="#2b2b2b" font-weight="normal" font-style="normal" >1h before induction</text>
<circle cx="592.6" cy="521.38" r="2.5" fill="#9ecae1"/>
<text x="600.5" y="524.38" font-size="8.1" text-anchor="start" fill="#2b2b2b" font-weight="normal" font-style="normal" >2h after induction</text>
<path d="M592.6,529.19 L595.35,534.06 L589.85,534.06 Z" fill="#5da9dd"/>
<text x="600.5" y="535.06" font-size="8.1" text-anchor="start" fill="#2b2b2b" font-weight="normal" font-style="normal" >4h after induction</text>
<path d="M592.6,545.62 L595.35,540.74 L589.85,540.74 Z" fill="#2b85c9"/>
<text x="600.5" y="545.74" font-size="8.1" text-anchor="start" fill="#2b2b2b" font-weight="normal" font-style="normal" >6h after induction</text>
<path d="M592.6,550.3 L595.35,553.42 L592.6,556.55 L589.85,553.42 Z" fill="#0a55a0"/>
<text x="600.5" y="556.42" font-size="8.1" text-anchor="start" fill="#2b2b2b" font-weight="normal" font-style="normal" >8h after induction</text>
<circle cx="496.9" cy="650.2" r="5.6" fill="#0054a6"/>
<text x="496.9" y="653.15" font-size="8.2" text-anchor="middle" fill="#fff" font-weight="bold" font-style="normal" >3</text>
<text x="505.8" y="652.2" font-size="8.15" text-anchor="start" fill="#2b2b2b" font-weight="normal" font-style="normal" >Mrk-0 T<tspan dy="1.79" font-size="4.89">3</tspan><tspan dy="-1.79">[</tspan><tspan font-style="italic">pAlcA::RPW8.1</tspan><tspan dy="-2.69" font-size="4.89">KZ10</tspan><tspan dy="2.69" font-style="italic">-mVenus</tspan> #1]</text>
<rect x="496.78" y="508.48" width="3.84" height="3.84" fill="#c6dbef"/><rect x="500.51" y="510.1" width="3.84" height="3.84" fill="#c6dbef"/><rect x="504.23" y="511.72" width="3.84" height="3.84" fill="#c6dbef"/><rect x="507.96" y="513.34" width="3.84" height="3.84" fill="#c6dbef"/><rect x="511.68" y="514.97" width="3.84" height="3.84" fill="#c6dbef"/><rect x="515.41" y="516.6" width="3.84" height="3.84" fill="#c6dbef"/><rect x="519.14" y="518.23" width="3.84" height="3.84" fill="#c6dbef"/><rect x="522.86" y="519.86" width="3.84" height="3.84" fill="#c6dbef"/><rect x="526.59" y="521.48" width="3.84" height="3.84" fill="#c6dbef"/><rect x="530.31" y="523.1" width="3.84" height="3.84" fill="#c6dbef"/><rect x="534.04" y="524.76" width="3.84" height="3.84" fill="#c6dbef"/><rect x="537.77" y="526.45" width="3.84" height="3.84" fill="#c6dbef"/><rect x="541.49" y="528.2" width="3.84" height="3.84" fill="#c6dbef"/><rect x="545.22" y="529.92" width="3.84" height="3.84" fill="#c6dbef"/><rect x="548.95" y="531.65" width="3.84" height="3.84" fill="#c6dbef"/><rect x="552.67" y="533.43" width="3.84" height="3.84" fill="#c6dbef"/><rect x="556.4" y="535.31" width="3.84" height="3.84" fill="#c6dbef"/><rect x="560.12" y="537.34" width="3.84" height="3.84" fill="#c6dbef"/><rect x="563.85" y="539.58" width="3.84" height="3.84" fill="#c6dbef"/><rect x="567.58" y="542.23" width="3.84" height="3.84" fill="#c6dbef"/><rect x="571.3" y="545.01" width="3.84" height="3.84" fill="#c6dbef"/><rect x="575.03" y="547.56" width="3.84" height="3.84" fill="#c6dbef"/><rect x="578.75" y="549.88" width="3.84" height="3.84" fill="#c6dbef"/><rect x="582.48" y="552.56" width="3.84" height="3.84" fill="#c6dbef"/><rect x="586.21" y="555.86" width="3.84" height="3.84" fill="#c6dbef"/><rect x="589.93" y="559.51" width="3.84" height="3.84" fill="#c6dbef"/><rect x="593.66" y="563.27" width="3.84" height="3.84" fill="#c6dbef"/><rect x="597.38" y="566.92" width="3.84" height="3.84" fill="#c6dbef"/><rect x="601.11" y="570.35" width="3.84" height="3.84" fill="#c6dbef"/><rect x="604.84" y="573.72" width="3.84" height="3.84" fill="#c6dbef"/><rect x="608.56" y="577.05" width="3.84" height="3.84" fill="#c6dbef"/><rect x="612.29" y="580.35" width="3.84" height="3.84" fill="#c6dbef"/><rect x="616.01" y="583.65" width="3.84" height="3.84" fill="#c6dbef"/><rect x="619.74" y="586.96" width="3.84" height="3.84" fill="#c6dbef"/><rect x="623.47" y="590.3" width="3.84" height="3.84" fill="#c6dbef"/><rect x="627.19" y="593.6" width="3.84" height="3.84" fill="#c6dbef"/><rect x="630.92" y="596.86" width="3.84" height="3.84" fill="#c6dbef"/><rect x="634.65" y="600.12" width="3.84" height="3.84" fill="#c6dbef"/><rect x="638.37" y="603.43" width="3.84" height="3.84" fill="#c6dbef"/><rect x="642.1" y="606.83" width="3.84" height="3.84" fill="#c6dbef"/><rect x="645.82" y="610.36" width="3.84" height="3.84" fill="#c6dbef"/><rect x="649.55" y="614.07" width="3.84" height="3.84" fill="#c6dbef"/><rect x="653.28" y="617.98" width="3.84" height="3.84" fill="#c6dbef"/><rect x="657" y="622.03" width="3.84" height="3.84" fill="#c6dbef"/><rect x="660.73" y="626.16" width="3.84" height="3.84" fill="#c6dbef"/><rect x="664.45" y="630.3" width="3.84" height="3.84" fill="#c6dbef"/><rect x="668.18" y="634.38" width="3.84" height="3.84" fill="#c6dbef"/>
<circle cx="498.7" cy="509.9" r="2.4" fill="#9ecae1"/><circle cx="502.43" cy="511.52" r="2.4" fill="#9ecae1"/><circle cx="506.15" cy="513.14" r="2.4" fill="#9ecae1"/><circle cx="509.88" cy="514.76" r="2.4" fill="#9ecae1"/><circle cx="513.6" cy="516.39" r="2.4" fill="#9ecae1"/><circle cx="517.33" cy="518.02" r="2.4" fill="#9ecae1"/><circle cx="521.06" cy="519.65" r="2.4" fill="#9ecae1"/><circle cx="524.78" cy="521.28" r="2.4" fill="#9ecae1"/><circle cx="528.51" cy="522.9" r="2.4" fill="#9ecae1"/><circle cx="532.23" cy="524.52" r="2.4" fill="#9ecae1"/><circle cx="535.96" cy="526.18" r="2.4" fill="#9ecae1"/><circle cx="539.69" cy="527.87" r="2.4" fill="#9ecae1"/><circle cx="543.41" cy="529.62" r="2.4" fill="#9ecae1"/><circle cx="547.14" cy="531.34" r="2.4" fill="#9ecae1"/><circle cx="550.87" cy="533.07" r="2.4" fill="#9ecae1"/><circle cx="554.59" cy="534.85" r="2.4" fill="#9ecae1"/><circle cx="558.32" cy="536.73" r="2.4" fill="#9ecae1"/><circle cx="562.04" cy="538.76" r="2.4" fill="#9ecae1"/><circle cx="565.77" cy="541" r="2.4" fill="#9ecae1"/><circle cx="569.5" cy="543.65" r="2.4" fill="#9ecae1"/><circle cx="573.22" cy="546.43" r="2.4" fill="#9ecae1"/><circle cx="576.95" cy="548.98" r="2.4" fill="#9ecae1"/><circle cx="580.67" cy="551.3" r="2.4" fill="#9ecae1"/><circle cx="584.4" cy="553.98" r="2.4" fill="#9ecae1"/><circle cx="588.13" cy="557.28" r="2.4" fill="#9ecae1"/><circle cx="591.85" cy="560.93" r="2.4" fill="#9ecae1"/><circle cx="595.58" cy="564.69" r="2.4" fill="#9ecae1"/><circle cx="599.3" cy="568.34" r="2.4" fill="#9ecae1"/><circle cx="603.03" cy="571.77" r="2.4" fill="#9ecae1"/><circle cx="606.76" cy="575.14" r="2.4" fill="#9ecae1"/><circle cx="610.48" cy="578.47" r="2.4" fill="#9ecae1"/><circle cx="614.21" cy="581.77" r="2.4" fill="#9ecae1"/><circle cx="617.93" cy="585.07" r="2.4" fill="#9ecae1"/><circle cx="621.66" cy="588.38" r="2.4" fill="#9ecae1"/><circle cx="625.39" cy="591.72" r="2.4" fill="#9ecae1"/><circle cx="629.11" cy="595.02" r="2.4" fill="#9ecae1"/><circle cx="632.84" cy="598.28" r="2.4" fill="#9ecae1"/><circle cx="636.57" cy="601.54" r="2.4" fill="#9ecae1"/><circle cx="640.29" cy="604.85" r="2.4" fill="#9ecae1"/><circle cx="644.02" cy="608.25" r="2.4" fill="#9ecae1"/><circle cx="647.74" cy="611.78" r="2.4" fill="#9ecae1"/><circle cx="651.47" cy="615.49" r="2.4" fill="#9ecae1"/><circle cx="655.2" cy="619.4" r="2.4" fill="#9ecae1"/><circle cx="658.92" cy="623.45" r="2.4" fill="#9ecae1"/><circle cx="662.65" cy="627.58" r="2.4" fill="#9ecae1"/><circle cx="666.37" cy="631.72" r="2.4" fill="#9ecae1"/><circle cx="670.1" cy="635.8" r="2.4" fill="#9ecae1"/>
<path d="M498.7,536.24 L501.34,540.92 L496.06,540.92 Z" fill="#5da9dd"/><path d="M502.43,539.57 L505.07,544.25 L499.79,544.25 Z" fill="#5da9dd"/><path d="M506.15,542.9 L508.79,547.58 L503.51,547.58 Z" fill="#5da9dd"/><path d="M509.88,546.21 L512.52,550.89 L507.24,550.89 Z" fill="#5da9dd"/><path d="M513.6,549.64 L516.24,554.32 L510.96,554.32 Z" fill="#5da9dd"/><path d="M517.33,552.96 L519.97,557.64 L514.69,557.64 Z" fill="#5da9dd"/><path d="M521.06,555.65 L523.7,560.33 L518.42,560.33 Z" fill="#5da9dd"/><path d="M524.78,557.58 L527.42,562.26 L522.14,562.26 Z" fill="#5da9dd"/><path d="M528.51,559.19 L531.15,563.87 L525.87,563.87 Z" fill="#5da9dd"/><path d="M532.23,560.8 L534.87,565.48 L529.59,565.48 Z" fill="#5da9dd"/><path d="M535.96,562.29 L538.6,566.97 L533.32,566.97 Z" fill="#5da9dd"/><path d="M539.69,563.75 L542.33,568.43 L537.05,568.43 Z" fill="#5da9dd"/><path d="M543.41,565.3 L546.05,569.98 L540.77,569.98 Z" fill="#5da9dd"/><path d="M547.14,566.92 L549.78,571.6 L544.5,571.6 Z" fill="#5da9dd"/><path d="M550.87,568.56 L553.51,573.24 L548.23,573.24 Z" fill="#5da9dd"/><path d="M554.59,570.23 L557.23,574.91 L551.95,574.91 Z" fill="#5da9dd"/><path d="M558.32,571.92 L560.96,576.6 L555.68,576.6 Z" fill="#5da9dd"/><path d="M562.04,573.62 L564.68,578.3 L559.4,578.3 Z" fill="#5da9dd"/><path d="M565.77,575.32 L568.41,580 L563.13,580 Z" fill="#5da9dd"/><path d="M569.5,577 L572.14,581.68 L566.86,581.68 Z" fill="#5da9dd"/><path d="M573.22,578.76 L575.86,583.44 L570.58,583.44 Z" fill="#5da9dd"/><path d="M576.95,580.64 L579.59,585.32 L574.31,585.32 Z" fill="#5da9dd"/><path d="M580.67,582.58 L583.31,587.26 L578.03,587.26 Z" fill="#5da9dd"/><path d="M584.4,584.57 L587.04,589.25 L581.76,589.25 Z" fill="#5da9dd"/><path d="M588.13,586.61 L590.77,591.29 L585.49,591.29 Z" fill="#5da9dd"/><path d="M591.85,588.7 L594.49,593.38 L589.21,593.38 Z" fill="#5da9dd"/><path d="M595.58,590.85 L598.22,595.53 L592.94,595.53 Z" fill="#5da9dd"/><path d="M599.3,593.04 L601.94,597.72 L596.66,597.72 Z" fill="#5da9dd"/><path d="M603.03,595.29 L605.67,599.97 L600.39,599.97 Z" fill="#5da9dd"/><path d="M606.76,597.59 L609.4,602.27 L604.12,602.27 Z" fill="#5da9dd"/><path d="M610.48,599.94 L613.12,604.62 L607.84,604.62 Z" fill="#5da9dd"/><path d="M614.21,602.35 L616.85,607.03 L611.57,607.03 Z" fill="#5da9dd"/><path d="M617.93,604.81 L620.57,609.49 L615.29,609.49 Z" fill="#5da9dd"/><path d="M621.66,607.33 L624.3,612.01 L619.02,612.01 Z" fill="#5da9dd"/><path d="M625.39,609.92 L628.03,614.6 L622.75,614.6 Z" fill="#5da9dd"/><path d="M629.11,612.64 L631.75,617.32 L626.47,617.32 Z" fill="#5da9dd"/><path d="M632.84,615.46 L635.48,620.14 L630.2,620.14 Z" fill="#5da9dd"/><path d="M636.57,618.35 L639.21,623.03 L633.93,623.03 Z" fill="#5da9dd"/><path d="M640.29,621.25 L642.93,625.93 L637.65,625.93 Z" fill="#5da9dd"/><path d="M644.02,624.11 L646.66,628.79 L641.38,628.79 Z" fill="#5da9dd"/><path d="M647.74,626.88 L650.38,631.56 L645.1,631.56 Z" fill="#5da9dd"/><path d="M651.47,629.52 L654.11,634.2 L648.83,634.2 Z" fill="#5da9dd"/><path d="M655.2,632.04 L657.84,636.72 L652.56,636.72 Z" fill="#5da9dd"/><path d="M658.92,634.49 L661.56,639.17 L656.28,639.17 Z" fill="#5da9dd"/><path d="M662.65,636.9 L665.29,641.58 L660.01,641.58 Z" fill="#5da9dd"/><path d="M666.37,639.31 L669.01,643.99 L663.73,643.99 Z" fill="#5da9dd"/><path d="M670.1,641.74 L672.74,646.42 L667.46,646.42 Z" fill="#5da9dd"/>
<path d="M498.7,547.96 L501.34,543.28 L496.06,543.28 Z" fill="#2b85c9"/><path d="M502.43,553.65 L505.07,548.97 L499.79,548.97 Z" fill="#2b85c9"/><path d="M506.15,559.33 L508.79,554.65 L503.51,554.65 Z" fill="#2b85c9"/><path d="M509.88,564.77 L512.52,560.09 L507.24,560.09 Z" fill="#2b85c9"/><path d="M513.6,569.86 L516.24,565.18 L510.96,565.18 Z" fill="#2b85c9"/><path d="M517.33,574.68 L519.97,570 L514.69,570 Z" fill="#2b85c9"/><path d="M521.06,579.3 L523.7,574.62 L518.42,574.62 Z" fill="#2b85c9"/><path d="M524.78,583.8 L527.42,579.12 L522.14,579.12 Z" fill="#2b85c9"/><path d="M528.51,588.08 L531.15,583.4 L525.87,583.4 Z" fill="#2b85c9"/><path d="M532.23,591.99 L534.87,587.31 L529.59,587.31 Z" fill="#2b85c9"/><path d="M535.96,595.47 L538.6,590.79 L533.32,590.79 Z" fill="#2b85c9"/><path d="M539.69,598.5 L542.33,593.82 L537.05,593.82 Z" fill="#2b85c9"/><path d="M543.41,600.94 L546.05,596.26 L540.77,596.26 Z" fill="#2b85c9"/><path d="M547.14,602.7 L549.78,598.02 L544.5,598.02 Z" fill="#2b85c9"/><path d="M550.87,604.12 L553.51,599.44 L548.23,599.44 Z" fill="#2b85c9"/><path d="M554.59,605.52 L557.23,600.84 L551.95,600.84 Z" fill="#2b85c9"/><path d="M558.32,606.77 L560.96,602.09 L555.68,602.09 Z" fill="#2b85c9"/><path d="M562.04,607.99 L564.68,603.31 L559.4,603.31 Z" fill="#2b85c9"/><path d="M565.77,609.34 L568.41,604.66 L563.13,604.66 Z" fill="#2b85c9"/><path d="M569.5,610.83 L572.14,606.15 L566.86,606.15 Z" fill="#2b85c9"/><path d="M573.22,612.35 L575.86,607.67 L570.58,607.67 Z" fill="#2b85c9"/><path d="M576.95,613.81 L579.59,609.13 L574.31,609.13 Z" fill="#2b85c9"/><path d="M580.67,615.21 L583.31,610.53 L578.03,610.53 Z" fill="#2b85c9"/><path d="M584.4,616.58 L587.04,611.9 L581.76,611.9 Z" fill="#2b85c9"/><path d="M588.13,617.95 L590.77,613.27 L585.49,613.27 Z" fill="#2b85c9"/><path d="M591.85,619.34 L594.49,614.66 L589.21,614.66 Z" fill="#2b85c9"/><path d="M595.58,620.76 L598.22,616.08 L592.94,616.08 Z" fill="#2b85c9"/><path d="M599.3,622.26 L601.94,617.58 L596.66,617.58 Z" fill="#2b85c9"/><path d="M603.03,623.83 L605.67,619.15 L600.39,619.15 Z" fill="#2b85c9"/><path d="M606.76,625.46 L609.4,620.78 L604.12,620.78 Z" fill="#2b85c9"/><path d="M610.48,627.14 L613.12,622.46 L607.84,622.46 Z" fill="#2b85c9"/><path d="M614.21,628.85 L616.85,624.17 L611.57,624.17 Z" fill="#2b85c9"/><path d="M617.93,630.57 L620.57,625.89 L615.29,625.89 Z" fill="#2b85c9"/><path d="M621.66,632.28 L624.3,627.6 L619.02,627.6 Z" fill="#2b85c9"/><path d="M625.39,633.97 L628.03,629.29 L622.75,629.29 Z" fill="#2b85c9"/><path d="M629.11,635.65 L631.75,630.97 L626.47,630.97 Z" fill="#2b85c9"/><path d="M632.84,637.34 L635.48,632.66 L630.2,632.66 Z" fill="#2b85c9"/><path d="M636.57,639.02 L639.21,634.34 L633.93,634.34 Z" fill="#2b85c9"/><path d="M640.29,640.71 L642.93,636.03 L637.65,636.03 Z" fill="#2b85c9"/><path d="M644.02,642.39 L646.66,637.71 L641.38,637.71 Z" fill="#2b85c9"/><path d="M647.74,644.07 L650.38,639.39 L645.1,639.39 Z" fill="#2b85c9"/><path d="M651.47,645.74 L654.11,641.06 L648.83,641.06 Z" fill="#2b85c9"/><path d="M655.2,647.41 L657.84,642.73 L652.56,642.73 Z" fill="#2b85c9"/><path d="M658.92,649.07 L661.56,644.39 L656.28,644.39 Z" fill="#2b85c9"/><path d="M662.65,650.74 L665.29,646.06 L660.01,646.06 Z" fill="#2b85c9"/><path d="M666.37,652.4 L669.01,647.72 L663.73,647.72 Z" fill="#2b85c9"/><path d="M670.1,654.06 L672.74,649.38 L667.46,649.38 Z" fill="#2b85c9"/>
<path d="M498.7,543.4 L501.34,546.4 L498.7,549.4 L496.06,546.4 Z" fill="#0a55a0"/><path d="M502.43,549.09 L505.07,552.09 L502.43,555.09 L499.79,552.09 Z" fill="#0a55a0"/><path d="M506.15,554.77 L508.79,557.77 L506.15,560.77 L503.51,557.77 Z" fill="#0a55a0"/><path d="M509.88,560.21 L512.52,563.21 L509.88,566.21 L507.24,563.21 Z" fill="#0a55a0"/><path d="M513.6,565.3 L516.24,568.3 L513.6,571.3 L510.96,568.3 Z" fill="#0a55a0"/><path d="M517.33,570.12 L519.97,573.12 L517.33,576.12 L514.69,573.12 Z" fill="#0a55a0"/><path d="M521.06,574.74 L523.7,577.74 L521.06,580.74 L518.42,577.74 Z" fill="#0a55a0"/><path d="M524.78,579.24 L527.42,582.24 L524.78,585.24 L522.14,582.24 Z" fill="#0a55a0"/><path d="M528.51,583.52 L531.15,586.52 L528.51,589.52 L525.87,586.52 Z" fill="#0a55a0"/><path d="M532.23,587.43 L534.87,590.43 L532.23,593.43 L529.59,590.43 Z" fill="#0a55a0"/><path d="M535.96,590.91 L538.6,593.91 L535.96,596.91 L533.32,593.91 Z" fill="#0a55a0"/><path d="M539.69,593.94 L542.33,596.94 L539.69,599.94 L537.05,596.94 Z" fill="#0a55a0"/><path d="M543.41,596.38 L546.05,599.38 L543.41,602.38 L540.77,599.38 Z" fill="#0a55a0"/><path d="M547.14,598.14 L549.78,601.14 L547.14,604.14 L544.5,601.14 Z" fill="#0a55a0"/><path d="M550.87,599.56 L553.51,602.56 L550.87,605.56 L548.23,602.56 Z" fill="#0a55a0"/><path d="M554.59,600.96 L557.23,603.96 L554.59,606.96 L551.95,603.96 Z" fill="#0a55a0"/><path d="M558.32,602.21 L560.96,605.21 L558.32,608.21 L555.68,605.21 Z" fill="#0a55a0"/><path d="M562.04,603.43 L564.68,606.43 L562.04,609.43 L559.4,606.43 Z" fill="#0a55a0"/><path d="M565.77,604.78 L568.41,607.78 L565.77,610.78 L563.13,607.78 Z" fill="#0a55a0"/><path d="M569.5,606.27 L572.14,609.27 L569.5,612.27 L566.86,609.27 Z" fill="#0a55a0"/><path d="M573.22,607.79 L575.86,610.79 L573.22,613.79 L570.58,610.79 Z" fill="#0a55a0"/><path d="M576.95,609.25 L579.59,612.25 L576.95,615.25 L574.31,612.25 Z" fill="#0a55a0"/><path d="M580.67,610.65 L583.31,613.65 L580.67,616.65 L578.03,613.65 Z" fill="#0a55a0"/><path d="M584.4,612.02 L587.04,615.02 L584.4,618.02 L581.76,615.02 Z" fill="#0a55a0"/><path d="M588.13,613.39 L590.77,616.39 L588.13,619.39 L585.49,616.39 Z" fill="#0a55a0"/><path d="M591.85,614.78 L594.49,617.78 L591.85,620.78 L589.21,617.78 Z" fill="#0a55a0"/><path d="M595.58,616.2 L598.22,619.2 L595.58,622.2 L592.94,619.2 Z" fill="#0a55a0"/><path d="M599.3,617.7 L601.94,620.7 L599.3,623.7 L596.66,620.7 Z" fill="#0a55a0"/><path d="M603.03,619.27 L605.67,622.27 L603.03,625.27 L600.39,622.27 Z" fill="#0a55a0"/><path d="M606.76,620.9 L609.4,623.9 L606.76,626.9 L604.12,623.9 Z" fill="#0a55a0"/><path d="M610.48,622.58 L613.12,625.58 L610.48,628.58 L607.84,625.58 Z" fill="#0a55a0"/><path d="M614.21,624.29 L616.85,627.29 L614.21,630.29 L611.57,627.29 Z" fill="#0a55a0"/><path d="M617.93,626.01 L620.57,629.01 L617.93,632.01 L615.29,629.01 Z" fill="#0a55a0"/><path d="M621.66,627.72 L624.3,630.72 L621.66,633.72 L619.02,630.72 Z" fill="#0a55a0"/><path d="M625.39,629.41 L628.03,632.41 L625.39,635.41 L622.75,632.41 Z" fill="#0a55a0"/><path d="M629.11,631.09 L631.75,634.09 L629.11,637.09 L626.47,634.09 Z" fill="#0a55a0"/><path d="M632.84,632.78 L635.48,635.78 L632.84,638.78 L630.2,635.78 Z" fill="#0a55a0"/><path d="M636.57,634.46 L639.21,637.46 L636.57,640.46 L633.93,637.46 Z" fill="#0a55a0"/><path d="M640.29,636.15 L642.93,639.15 L640.29,642.15 L637.65,639.15 Z" fill="#0a55a0"/><path d="M644.02,637.83 L646.66,640.83 L644.02,643.83 L641.38,640.83 Z" fill="#0a55a0"/><path d="M647.74,639.51 L650.38,642.51 L647.74,645.51 L645.1,642.51 Z" fill="#0a55a0"/><path d="M651.47,641.18 L654.11,644.18 L651.47,647.18 L648.83,644.18 Z" fill="#0a55a0"/><path d="M655.2,642.85 L657.84,645.85 L655.2,648.85 L652.56,645.85 Z" fill="#0a55a0"/><path d="M658.92,644.51 L661.56,647.51 L658.92,650.51 L656.28,647.51 Z" fill="#0a55a0"/><path d="M662.65,646.18 L665.29,649.18 L662.65,652.18 L660.01,649.18 Z" fill="#0a55a0"/><path d="M666.37,647.84 L669.01,650.84 L666.37,653.84 L663.73,650.84 Z" fill="#0a55a0"/><path d="M670.1,649.5 L672.74,652.5 L670.1,655.5 L667.46,652.5 Z" fill="#0a55a0"/>
<line x1="542.6" y1="528" x2="542.6" y2="607" stroke="#7d7d7d" stroke-width="1.1" stroke-dasharray="2.6 1.8"/>
<path d="M540,605.8 L545.2,605.8 L542.6,611.6 Z" fill="#7d7d7d"/>
</svg>
</body></html>
